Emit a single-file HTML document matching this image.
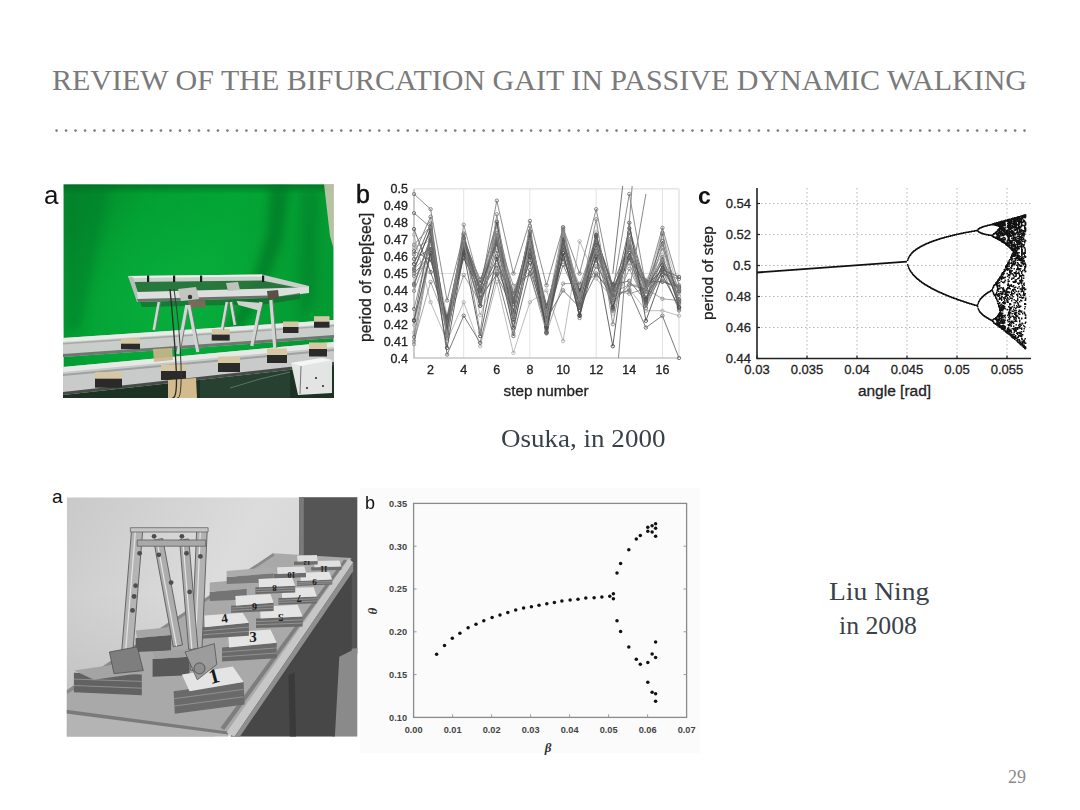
<!DOCTYPE html>
<html><head><meta charset="utf-8"><style>
html,body{margin:0;padding:0;background:#fff;}
body{width:1080px;height:810px;position:relative;overflow:hidden;}
.t{position:absolute;font-family:"Liberation Serif",serif;white-space:nowrap;}
#title{left:52px;top:63px;font-size:30px;color:#7a7a7a;letter-spacing:0px;}
.cap{font-size:25.5px;color:#3a4249;transform-origin:0 0;}
#osuka{left:500.5px;top:424.3px;transform:scaleX(1.06);}
#liu{left:829.3px;top:577.4px;transform:scaleX(1.08);}
#in08{left:839px;top:611.3px;transform:scaleX(1.01);}
#pg{left:1008px;top:767px;font-size:18px;color:#8a8a8a;}
svg{position:absolute;left:0;top:0;}
</style></head><body>
<svg width="1080" height="810" viewBox="0 0 1080 810">
<defs>
<linearGradient id="gA" x1="0" y1="0" x2="1" y2="0.3">
<stop offset="0" stop-color="#05862c"/><stop offset="0.3" stop-color="#02a032"/><stop offset="0.6" stop-color="#03a635"/><stop offset="1" stop-color="#049a32"/>
</linearGradient>
<radialGradient id="gB" cx="0.4" cy="0.55" r="0.5"><stop offset="0" stop-color="#0cb845" stop-opacity="0.5"/><stop offset="1" stop-color="#0cb845" stop-opacity="0"/></radialGradient>
<linearGradient id="gTop" x1="0" y1="0" x2="0" y2="1"><stop offset="0" stop-color="#045a1e" stop-opacity="0.6"/><stop offset="1" stop-color="#045a1e" stop-opacity="0"/></linearGradient>
<filter id="blA" x="-20%" y="-20%" width="140%" height="140%"><feGaussianBlur stdDeviation="4"/></filter>
<filter id="blS" x="-5%" y="-5%" width="110%" height="110%"><feGaussianBlur stdDeviation="0.45"/></filter>
<clipPath id="cA"><rect x="63.4" y="184.3" width="270.3" height="213.1"/></clipPath>
</defs>
<g clip-path="url(#cA)">
<rect x="63.4" y="184.3" width="270.3" height="213.1" fill="url(#gA)"/>
<rect x="63.4" y="184.3" width="270.3" height="213.1" fill="url(#gB)"/>
<rect x="63.4" y="184.3" width="270.3" height="10" fill="url(#gTop)"/>
<g filter="url(#blA)" opacity="0.55">
<polygon points="270,186 290,186 282,240 262,300 240,330 225,330 250,290 268,230" fill="#036a24"/>
<polygon points="66,186 110,186 95,260 80,330 66,330" fill="#04782a" opacity="0.7"/>
<polygon points="300,190 320,190 315,300 300,320" fill="#036a24" opacity="0.6"/>
</g>
<g filter="url(#blS)">
<polygon points="324,184 334,184 334,250 330,236" fill="#c9c6b0" opacity="0.9"/>
<polygon points="63,393 334,362 334,398 63,398" fill="#1d3222"/>
<polygon points="200,378 290,366 290,398 200,398" fill="#254030"/>
<path d="M230 388 Q260 378 290 372" fill="none" stroke="#8a9a8a" stroke-width="0.8" opacity="0.7"/>
<polygon points="63,338 334,320 334,338 63,357" fill="#caceca"/>
<polygon points="63,338 334,320 334,324 63,342" fill="#e9ebe9"/>
<polygon points="63,343 334,325 334,326.5 63,344.5" fill="#a5aba7"/>
<polygon points="63,354 334,335 334,338 63,357" fill="#6f7671"/>
<polygon points="63,367 334,342 334,365 63,395" fill="#c8cbc9"/>
<polygon points="63,367 334,342 334,347 63,372" fill="#e7e9e7"/>
<polygon points="63,374 334,349 334,351 63,376" fill="#9ea39f"/>
<polygon points="63,392 334,362 334,365 63,395" fill="#474c48"/>
<rect x="121" y="338.2" width="19" height="5.5" fill="#d3c6a2"/>
<rect x="121" y="343.7" width="19" height="5.5" fill="#2c2c2c"/>
<rect x="211.7" y="329.1" width="18" height="5.5" fill="#d3c6a2"/>
<rect x="211.7" y="334.6" width="18" height="6" fill="#2c2c2c"/>
<rect x="283" y="321.5" width="15.5" height="5.5" fill="#d3c6a2"/>
<rect x="283" y="327" width="15.5" height="6" fill="#2c2c2c"/>
<rect x="314" y="316.2" width="15.5" height="5.5" fill="#d3c6a2"/>
<rect x="314" y="321.7" width="15.5" height="6" fill="#2c2c2c"/>
<rect x="95" y="372.2" width="27" height="6.5" fill="#d6c8a2"/>
<rect x="95" y="378.7" width="27" height="9" fill="#2a2a2a"/>
<rect x="161" y="364.5" width="25" height="6.5" fill="#d6c8a2"/>
<rect x="161" y="371" width="25" height="9" fill="#2a2a2a"/>
<rect x="218" y="356.5" width="22" height="6.5" fill="#d6c8a2"/>
<rect x="218" y="363" width="22" height="9" fill="#2a2a2a"/>
<rect x="267" y="348.5" width="20" height="6.5" fill="#d6c8a2"/>
<rect x="267" y="355" width="20" height="8" fill="#2a2a2a"/>
<rect x="309" y="342.5" width="18" height="6.5" fill="#d6c8a2"/>
<rect x="309" y="349" width="18" height="7.5" fill="#2a2a2a"/>
<polygon points="153,349 172,348 173,360 154,362" fill="#cdb58a" opacity="0.9"/>
<polygon points="168,380 196,378 197,398 168,398" fill="#d4bb8e"/>
<polygon points="291,363 322,358 332,360 332,393 298,395" fill="#e2e5e4"/>
<polygon points="291,363 322,358 332,360 301,366" fill="#f4f5f4"/>
<line x1="301" y1="366" x2="300" y2="394" stroke="#777" stroke-width="1"/>
<circle cx="316" cy="378" r="1" fill="#222"/><circle cx="323" cy="386" r="1" fill="#222"/><circle cx="307" cy="388" r="1" fill="#222"/>
<polygon points="132,282 262,280 305,289 268,291 139,296" fill="#2f6e3c" opacity="0.85"/>
<polygon points="128,276 262,274.5 309,286 309,290 262,280.5 131,282" fill="#cbcfcc"/>
<polygon points="128,276 262,274.5 263,276.5 129,278" fill="#eeeeec"/>
<polygon points="128,276 133,277 141,302 137,302" fill="#b9bdba"/>
<polygon points="137,292 268,288.5 309,287 309,293 268,298 138,302" fill="#dcdfdd"/>
<polygon points="137,299 268,295.5 268,298 138,302" fill="#6a706c"/>
<rect x="147" y="275.5" width="2.2" height="6.5" fill="#1e1e1e"/>
<rect x="173" y="275.5" width="2.2" height="6.5" fill="#1e1e1e"/>
<rect x="200" y="275.5" width="2.2" height="6.5" fill="#1e1e1e"/>
<rect x="262" y="275.5" width="2.2" height="6.5" fill="#1e1e1e"/>
<polygon points="140,302 268,298 300,293 300,299 268,304 142,307" fill="#1f5a2c" opacity="0.6"/>
<polygon points="178,289 196,287 199,299 181,301" fill="#c3c5c1"/>
<circle cx="190" cy="297" r="2.2" fill="#333"/>
<polygon points="188,301 205,300 206,307 189,308" fill="#7a6a55"/>
<polygon points="226,283 238,282 240,290 228,291" fill="#c0c2be"/>
<polygon points="267,291 278,290 279,298 268,299" fill="#5b4f45"/>
<line x1="159" y1="302" x2="154" y2="330" stroke="#d2d5d2" stroke-width="3"/>
<line x1="160.5" y1="302" x2="155.5" y2="330" stroke="#6a706c" stroke-width="0.9"/>
<line x1="187" y1="305" x2="178" y2="354" stroke="#d2d5d2" stroke-width="3.6"/>
<line x1="188.8" y1="305" x2="179.8" y2="354" stroke="#6a706c" stroke-width="0.9"/>
<line x1="189" y1="305" x2="198" y2="352" stroke="#d2d5d2" stroke-width="3.6"/>
<line x1="190.8" y1="305" x2="199.8" y2="352" stroke="#6a706c" stroke-width="0.9"/>
<line x1="227" y1="302" x2="222" y2="330" stroke="#d2d5d2" stroke-width="3"/>
<line x1="228.5" y1="302" x2="223.5" y2="330" stroke="#6a706c" stroke-width="0.9"/>
<line x1="231" y1="302" x2="235" y2="325" stroke="#d2d5d2" stroke-width="3"/>
<line x1="232.5" y1="302" x2="236.5" y2="325" stroke="#6a706c" stroke-width="0.9"/>
<line x1="261" y1="302" x2="252" y2="346" stroke="#d2d5d2" stroke-width="3.6"/>
<line x1="262.8" y1="302" x2="253.8" y2="346" stroke="#6a706c" stroke-width="0.9"/>
<line x1="271" y1="300" x2="275" y2="348" stroke="#d2d5d2" stroke-width="3.6"/>
<line x1="272.8" y1="300" x2="276.8" y2="348" stroke="#6a706c" stroke-width="0.9"/>
<polygon points="236.5,301 262.5,303 260.5,311 238.5,305" fill="#cfd2ce"/>
<path d="M170 289 Q174 330 176 365 T172 398" fill="none" stroke="#2a2a2a" stroke-width="1.3"/>
<path d="M174 289 Q180 330 181 365 T177 398" fill="none" stroke="#383838" stroke-width="1"/>
</g>
</g>
<text x="44" y="203.5" font-family="Liberation Sans" font-size="26" fill="#111">a</text>
<defs><clipPath id="cPB"><rect x="412" y="186" width="270" height="174"/></clipPath></defs>
<line x1="463.7" y1="188.9" x2="463.7" y2="358" stroke="#e2e2e2" stroke-width="1"/>
<line x1="529.9" y1="188.9" x2="529.9" y2="358" stroke="#e2e2e2" stroke-width="1"/>
<line x1="596.2" y1="188.9" x2="596.2" y2="358" stroke="#e2e2e2" stroke-width="1"/>
<line x1="662.4" y1="188.9" x2="662.4" y2="358" stroke="#e2e2e2" stroke-width="1"/>
<line x1="414" y1="273.5" x2="679" y2="273.5" stroke="#dcdcdc" stroke-width="1"/>
<path d="M414 188.9H679V358" fill="none" stroke="#d8d8d8" stroke-width="1"/>
<path d="M414 188.9V358H679" fill="none" stroke="#aaa" stroke-width="1.2"/>
<g clip-path="url(#cPB)">
<polyline points="414,283.8 430.6,237.5 447.1,331.4 463.7,249 480.2,305.9 496.8,243.9 513.4,293.5 529.9,241.8 546.5,309 563.1,240.7 579.6,295.6 596.2,244.4 612.8,310.6 629.3,239.3 645.9,291.6 662.4,256.9 679,306.9" fill="none" stroke="#5a5a5a" stroke-opacity="0.79" stroke-width="1"/>
<circle cx="414" cy="283.8" r="1.7" fill="none" stroke="#5a5a5a" stroke-opacity="0.79" stroke-width="1"/>
<circle cx="430.6" cy="237.5" r="1.7" fill="none" stroke="#5a5a5a" stroke-opacity="0.79" stroke-width="1"/>
<circle cx="447.1" cy="331.4" r="1.7" fill="none" stroke="#5a5a5a" stroke-opacity="0.79" stroke-width="1"/>
<circle cx="463.7" cy="249" r="1.7" fill="none" stroke="#5a5a5a" stroke-opacity="0.79" stroke-width="1"/>
<circle cx="480.2" cy="305.9" r="1.7" fill="none" stroke="#5a5a5a" stroke-opacity="0.79" stroke-width="1"/>
<circle cx="496.8" cy="243.9" r="1.7" fill="none" stroke="#5a5a5a" stroke-opacity="0.79" stroke-width="1"/>
<circle cx="513.4" cy="293.5" r="1.7" fill="none" stroke="#5a5a5a" stroke-opacity="0.79" stroke-width="1"/>
<circle cx="529.9" cy="241.8" r="1.7" fill="none" stroke="#5a5a5a" stroke-opacity="0.79" stroke-width="1"/>
<circle cx="546.5" cy="309" r="1.7" fill="none" stroke="#5a5a5a" stroke-opacity="0.79" stroke-width="1"/>
<circle cx="563.1" cy="240.7" r="1.7" fill="none" stroke="#5a5a5a" stroke-opacity="0.79" stroke-width="1"/>
<circle cx="579.6" cy="295.6" r="1.7" fill="none" stroke="#5a5a5a" stroke-opacity="0.79" stroke-width="1"/>
<circle cx="596.2" cy="244.4" r="1.7" fill="none" stroke="#5a5a5a" stroke-opacity="0.79" stroke-width="1"/>
<circle cx="612.8" cy="310.6" r="1.7" fill="none" stroke="#5a5a5a" stroke-opacity="0.79" stroke-width="1"/>
<circle cx="629.3" cy="239.3" r="1.7" fill="none" stroke="#5a5a5a" stroke-opacity="0.79" stroke-width="1"/>
<circle cx="645.9" cy="291.6" r="1.7" fill="none" stroke="#5a5a5a" stroke-opacity="0.79" stroke-width="1"/>
<circle cx="662.4" cy="256.9" r="1.7" fill="none" stroke="#5a5a5a" stroke-opacity="0.79" stroke-width="1"/>
<circle cx="679" cy="306.9" r="1.7" fill="none" stroke="#5a5a5a" stroke-opacity="0.79" stroke-width="1"/>
<polyline points="414,344.2 430.6,252.6 447.1,333.7 463.7,243.9 480.2,297.6 496.8,235 513.4,312.5 529.9,243.1 546.5,314.2 563.1,249.3 579.6,284.9 596.2,240.4 612.8,287.4 629.3,263.2 645.9,305.1 662.4,270.6 679,296.2" fill="none" stroke="#8a8a8a" stroke-opacity="0.80" stroke-width="1"/>
<circle cx="414" cy="344.2" r="1.7" fill="none" stroke="#8a8a8a" stroke-opacity="0.80" stroke-width="1"/>
<circle cx="430.6" cy="252.6" r="1.7" fill="none" stroke="#8a8a8a" stroke-opacity="0.80" stroke-width="1"/>
<circle cx="447.1" cy="333.7" r="1.7" fill="none" stroke="#8a8a8a" stroke-opacity="0.80" stroke-width="1"/>
<circle cx="463.7" cy="243.9" r="1.7" fill="none" stroke="#8a8a8a" stroke-opacity="0.80" stroke-width="1"/>
<circle cx="480.2" cy="297.6" r="1.7" fill="none" stroke="#8a8a8a" stroke-opacity="0.80" stroke-width="1"/>
<circle cx="496.8" cy="235" r="1.7" fill="none" stroke="#8a8a8a" stroke-opacity="0.80" stroke-width="1"/>
<circle cx="513.4" cy="312.5" r="1.7" fill="none" stroke="#8a8a8a" stroke-opacity="0.80" stroke-width="1"/>
<circle cx="529.9" cy="243.1" r="1.7" fill="none" stroke="#8a8a8a" stroke-opacity="0.80" stroke-width="1"/>
<circle cx="546.5" cy="314.2" r="1.7" fill="none" stroke="#8a8a8a" stroke-opacity="0.80" stroke-width="1"/>
<circle cx="563.1" cy="249.3" r="1.7" fill="none" stroke="#8a8a8a" stroke-opacity="0.80" stroke-width="1"/>
<circle cx="579.6" cy="284.9" r="1.7" fill="none" stroke="#8a8a8a" stroke-opacity="0.80" stroke-width="1"/>
<circle cx="596.2" cy="240.4" r="1.7" fill="none" stroke="#8a8a8a" stroke-opacity="0.80" stroke-width="1"/>
<circle cx="612.8" cy="287.4" r="1.7" fill="none" stroke="#8a8a8a" stroke-opacity="0.80" stroke-width="1"/>
<circle cx="629.3" cy="263.2" r="1.7" fill="none" stroke="#8a8a8a" stroke-opacity="0.80" stroke-width="1"/>
<circle cx="645.9" cy="305.1" r="1.7" fill="none" stroke="#8a8a8a" stroke-opacity="0.80" stroke-width="1"/>
<circle cx="662.4" cy="270.6" r="1.7" fill="none" stroke="#8a8a8a" stroke-opacity="0.80" stroke-width="1"/>
<circle cx="679" cy="296.2" r="1.7" fill="none" stroke="#8a8a8a" stroke-opacity="0.80" stroke-width="1"/>
<polyline points="414,247.8 430.6,240.3 447.1,333.5 463.7,254.2 480.2,302.1 496.8,226.5 513.4,314.3 529.9,243.7 546.5,314 563.1,257.1 579.6,298.4 596.2,232.3 612.8,313.5 629.3,258.4 645.9,298.3 662.4,278.3 679,292.1" fill="none" stroke="#9a9a9a" stroke-opacity="0.71" stroke-width="1"/>
<circle cx="414" cy="247.8" r="1.7" fill="none" stroke="#9a9a9a" stroke-opacity="0.71" stroke-width="1"/>
<circle cx="430.6" cy="240.3" r="1.7" fill="none" stroke="#9a9a9a" stroke-opacity="0.71" stroke-width="1"/>
<circle cx="447.1" cy="333.5" r="1.7" fill="none" stroke="#9a9a9a" stroke-opacity="0.71" stroke-width="1"/>
<circle cx="463.7" cy="254.2" r="1.7" fill="none" stroke="#9a9a9a" stroke-opacity="0.71" stroke-width="1"/>
<circle cx="480.2" cy="302.1" r="1.7" fill="none" stroke="#9a9a9a" stroke-opacity="0.71" stroke-width="1"/>
<circle cx="496.8" cy="226.5" r="1.7" fill="none" stroke="#9a9a9a" stroke-opacity="0.71" stroke-width="1"/>
<circle cx="513.4" cy="314.3" r="1.7" fill="none" stroke="#9a9a9a" stroke-opacity="0.71" stroke-width="1"/>
<circle cx="529.9" cy="243.7" r="1.7" fill="none" stroke="#9a9a9a" stroke-opacity="0.71" stroke-width="1"/>
<circle cx="546.5" cy="314" r="1.7" fill="none" stroke="#9a9a9a" stroke-opacity="0.71" stroke-width="1"/>
<circle cx="563.1" cy="257.1" r="1.7" fill="none" stroke="#9a9a9a" stroke-opacity="0.71" stroke-width="1"/>
<circle cx="579.6" cy="298.4" r="1.7" fill="none" stroke="#9a9a9a" stroke-opacity="0.71" stroke-width="1"/>
<circle cx="596.2" cy="232.3" r="1.7" fill="none" stroke="#9a9a9a" stroke-opacity="0.71" stroke-width="1"/>
<circle cx="612.8" cy="313.5" r="1.7" fill="none" stroke="#9a9a9a" stroke-opacity="0.71" stroke-width="1"/>
<circle cx="629.3" cy="258.4" r="1.7" fill="none" stroke="#9a9a9a" stroke-opacity="0.71" stroke-width="1"/>
<circle cx="645.9" cy="298.3" r="1.7" fill="none" stroke="#9a9a9a" stroke-opacity="0.71" stroke-width="1"/>
<circle cx="662.4" cy="278.3" r="1.7" fill="none" stroke="#9a9a9a" stroke-opacity="0.71" stroke-width="1"/>
<circle cx="679" cy="292.1" r="1.7" fill="none" stroke="#9a9a9a" stroke-opacity="0.71" stroke-width="1"/>
<polyline points="414,276 430.6,258.9 447.1,321.4 463.7,241 480.2,288.2 496.8,223.8 513.4,301.7 529.9,245.1 546.5,328 563.1,237.2 579.6,303.8 596.2,251.3 612.8,307.4 629.3,268.9 645.9,302.9 662.4,244.1 679,309.2" fill="none" stroke="#6a6a6a" stroke-opacity="0.62" stroke-width="1"/>
<circle cx="414" cy="276" r="1.7" fill="none" stroke="#6a6a6a" stroke-opacity="0.62" stroke-width="1"/>
<circle cx="430.6" cy="258.9" r="1.7" fill="none" stroke="#6a6a6a" stroke-opacity="0.62" stroke-width="1"/>
<circle cx="447.1" cy="321.4" r="1.7" fill="none" stroke="#6a6a6a" stroke-opacity="0.62" stroke-width="1"/>
<circle cx="463.7" cy="241" r="1.7" fill="none" stroke="#6a6a6a" stroke-opacity="0.62" stroke-width="1"/>
<circle cx="480.2" cy="288.2" r="1.7" fill="none" stroke="#6a6a6a" stroke-opacity="0.62" stroke-width="1"/>
<circle cx="496.8" cy="223.8" r="1.7" fill="none" stroke="#6a6a6a" stroke-opacity="0.62" stroke-width="1"/>
<circle cx="513.4" cy="301.7" r="1.7" fill="none" stroke="#6a6a6a" stroke-opacity="0.62" stroke-width="1"/>
<circle cx="529.9" cy="245.1" r="1.7" fill="none" stroke="#6a6a6a" stroke-opacity="0.62" stroke-width="1"/>
<circle cx="546.5" cy="328" r="1.7" fill="none" stroke="#6a6a6a" stroke-opacity="0.62" stroke-width="1"/>
<circle cx="563.1" cy="237.2" r="1.7" fill="none" stroke="#6a6a6a" stroke-opacity="0.62" stroke-width="1"/>
<circle cx="579.6" cy="303.8" r="1.7" fill="none" stroke="#6a6a6a" stroke-opacity="0.62" stroke-width="1"/>
<circle cx="596.2" cy="251.3" r="1.7" fill="none" stroke="#6a6a6a" stroke-opacity="0.62" stroke-width="1"/>
<circle cx="612.8" cy="307.4" r="1.7" fill="none" stroke="#6a6a6a" stroke-opacity="0.62" stroke-width="1"/>
<circle cx="629.3" cy="268.9" r="1.7" fill="none" stroke="#6a6a6a" stroke-opacity="0.62" stroke-width="1"/>
<circle cx="645.9" cy="302.9" r="1.7" fill="none" stroke="#6a6a6a" stroke-opacity="0.62" stroke-width="1"/>
<circle cx="662.4" cy="244.1" r="1.7" fill="none" stroke="#6a6a6a" stroke-opacity="0.62" stroke-width="1"/>
<circle cx="679" cy="309.2" r="1.7" fill="none" stroke="#6a6a6a" stroke-opacity="0.62" stroke-width="1"/>
<polyline points="414,332.6 430.6,240.4 447.1,315.6 463.7,241.7 480.2,315.1 496.8,272 513.4,301.7 529.9,254.4 546.5,326.5 563.1,233.8 579.6,289.9 596.2,244.7 612.8,295.1 629.3,246.1 645.9,279.9 662.4,254.9 679,291.9" fill="none" stroke="#9a9a9a" stroke-opacity="0.66" stroke-width="1"/>
<circle cx="414" cy="332.6" r="1.7" fill="none" stroke="#9a9a9a" stroke-opacity="0.66" stroke-width="1"/>
<circle cx="430.6" cy="240.4" r="1.7" fill="none" stroke="#9a9a9a" stroke-opacity="0.66" stroke-width="1"/>
<circle cx="447.1" cy="315.6" r="1.7" fill="none" stroke="#9a9a9a" stroke-opacity="0.66" stroke-width="1"/>
<circle cx="463.7" cy="241.7" r="1.7" fill="none" stroke="#9a9a9a" stroke-opacity="0.66" stroke-width="1"/>
<circle cx="480.2" cy="315.1" r="1.7" fill="none" stroke="#9a9a9a" stroke-opacity="0.66" stroke-width="1"/>
<circle cx="496.8" cy="272" r="1.7" fill="none" stroke="#9a9a9a" stroke-opacity="0.66" stroke-width="1"/>
<circle cx="513.4" cy="301.7" r="1.7" fill="none" stroke="#9a9a9a" stroke-opacity="0.66" stroke-width="1"/>
<circle cx="529.9" cy="254.4" r="1.7" fill="none" stroke="#9a9a9a" stroke-opacity="0.66" stroke-width="1"/>
<circle cx="546.5" cy="326.5" r="1.7" fill="none" stroke="#9a9a9a" stroke-opacity="0.66" stroke-width="1"/>
<circle cx="563.1" cy="233.8" r="1.7" fill="none" stroke="#9a9a9a" stroke-opacity="0.66" stroke-width="1"/>
<circle cx="579.6" cy="289.9" r="1.7" fill="none" stroke="#9a9a9a" stroke-opacity="0.66" stroke-width="1"/>
<circle cx="596.2" cy="244.7" r="1.7" fill="none" stroke="#9a9a9a" stroke-opacity="0.66" stroke-width="1"/>
<circle cx="612.8" cy="295.1" r="1.7" fill="none" stroke="#9a9a9a" stroke-opacity="0.66" stroke-width="1"/>
<circle cx="629.3" cy="246.1" r="1.7" fill="none" stroke="#9a9a9a" stroke-opacity="0.66" stroke-width="1"/>
<circle cx="645.9" cy="279.9" r="1.7" fill="none" stroke="#9a9a9a" stroke-opacity="0.66" stroke-width="1"/>
<circle cx="662.4" cy="254.9" r="1.7" fill="none" stroke="#9a9a9a" stroke-opacity="0.66" stroke-width="1"/>
<circle cx="679" cy="291.9" r="1.7" fill="none" stroke="#9a9a9a" stroke-opacity="0.66" stroke-width="1"/>
<polyline points="414,251.2 430.6,260 447.1,317.1 463.7,238.6 480.2,292.1 496.8,265.4 513.4,312.4 529.9,237.3 546.5,332.1 563.1,244.8 579.6,290.5 596.2,260.6 612.8,284.1 629.3,244.2 645.9,298.7 662.4,259.7 679,291" fill="none" stroke="#4a4a4a" stroke-opacity="0.69" stroke-width="1"/>
<circle cx="414" cy="251.2" r="1.7" fill="none" stroke="#4a4a4a" stroke-opacity="0.69" stroke-width="1"/>
<circle cx="430.6" cy="260" r="1.7" fill="none" stroke="#4a4a4a" stroke-opacity="0.69" stroke-width="1"/>
<circle cx="447.1" cy="317.1" r="1.7" fill="none" stroke="#4a4a4a" stroke-opacity="0.69" stroke-width="1"/>
<circle cx="463.7" cy="238.6" r="1.7" fill="none" stroke="#4a4a4a" stroke-opacity="0.69" stroke-width="1"/>
<circle cx="480.2" cy="292.1" r="1.7" fill="none" stroke="#4a4a4a" stroke-opacity="0.69" stroke-width="1"/>
<circle cx="496.8" cy="265.4" r="1.7" fill="none" stroke="#4a4a4a" stroke-opacity="0.69" stroke-width="1"/>
<circle cx="513.4" cy="312.4" r="1.7" fill="none" stroke="#4a4a4a" stroke-opacity="0.69" stroke-width="1"/>
<circle cx="529.9" cy="237.3" r="1.7" fill="none" stroke="#4a4a4a" stroke-opacity="0.69" stroke-width="1"/>
<circle cx="546.5" cy="332.1" r="1.7" fill="none" stroke="#4a4a4a" stroke-opacity="0.69" stroke-width="1"/>
<circle cx="563.1" cy="244.8" r="1.7" fill="none" stroke="#4a4a4a" stroke-opacity="0.69" stroke-width="1"/>
<circle cx="579.6" cy="290.5" r="1.7" fill="none" stroke="#4a4a4a" stroke-opacity="0.69" stroke-width="1"/>
<circle cx="596.2" cy="260.6" r="1.7" fill="none" stroke="#4a4a4a" stroke-opacity="0.69" stroke-width="1"/>
<circle cx="612.8" cy="284.1" r="1.7" fill="none" stroke="#4a4a4a" stroke-opacity="0.69" stroke-width="1"/>
<circle cx="629.3" cy="244.2" r="1.7" fill="none" stroke="#4a4a4a" stroke-opacity="0.69" stroke-width="1"/>
<circle cx="645.9" cy="298.7" r="1.7" fill="none" stroke="#4a4a4a" stroke-opacity="0.69" stroke-width="1"/>
<circle cx="662.4" cy="259.7" r="1.7" fill="none" stroke="#4a4a4a" stroke-opacity="0.69" stroke-width="1"/>
<circle cx="679" cy="291" r="1.7" fill="none" stroke="#4a4a4a" stroke-opacity="0.69" stroke-width="1"/>
<polyline points="414,268.6 430.6,230.6 447.1,335.5 463.7,249.8 480.2,287.3 496.8,241 513.4,315.1 529.9,236.2 546.5,305.5 563.1,247.2 579.6,310 596.2,247.9 612.8,298.3 629.3,258 645.9,281.9 662.4,281.7 679,286.9" fill="none" stroke="#4a4a4a" stroke-opacity="0.82" stroke-width="1"/>
<circle cx="414" cy="268.6" r="1.7" fill="none" stroke="#4a4a4a" stroke-opacity="0.82" stroke-width="1"/>
<circle cx="430.6" cy="230.6" r="1.7" fill="none" stroke="#4a4a4a" stroke-opacity="0.82" stroke-width="1"/>
<circle cx="447.1" cy="335.5" r="1.7" fill="none" stroke="#4a4a4a" stroke-opacity="0.82" stroke-width="1"/>
<circle cx="463.7" cy="249.8" r="1.7" fill="none" stroke="#4a4a4a" stroke-opacity="0.82" stroke-width="1"/>
<circle cx="480.2" cy="287.3" r="1.7" fill="none" stroke="#4a4a4a" stroke-opacity="0.82" stroke-width="1"/>
<circle cx="496.8" cy="241" r="1.7" fill="none" stroke="#4a4a4a" stroke-opacity="0.82" stroke-width="1"/>
<circle cx="513.4" cy="315.1" r="1.7" fill="none" stroke="#4a4a4a" stroke-opacity="0.82" stroke-width="1"/>
<circle cx="529.9" cy="236.2" r="1.7" fill="none" stroke="#4a4a4a" stroke-opacity="0.82" stroke-width="1"/>
<circle cx="546.5" cy="305.5" r="1.7" fill="none" stroke="#4a4a4a" stroke-opacity="0.82" stroke-width="1"/>
<circle cx="563.1" cy="247.2" r="1.7" fill="none" stroke="#4a4a4a" stroke-opacity="0.82" stroke-width="1"/>
<circle cx="579.6" cy="310" r="1.7" fill="none" stroke="#4a4a4a" stroke-opacity="0.82" stroke-width="1"/>
<circle cx="596.2" cy="247.9" r="1.7" fill="none" stroke="#4a4a4a" stroke-opacity="0.82" stroke-width="1"/>
<circle cx="612.8" cy="298.3" r="1.7" fill="none" stroke="#4a4a4a" stroke-opacity="0.82" stroke-width="1"/>
<circle cx="629.3" cy="258" r="1.7" fill="none" stroke="#4a4a4a" stroke-opacity="0.82" stroke-width="1"/>
<circle cx="645.9" cy="281.9" r="1.7" fill="none" stroke="#4a4a4a" stroke-opacity="0.82" stroke-width="1"/>
<circle cx="662.4" cy="281.7" r="1.7" fill="none" stroke="#4a4a4a" stroke-opacity="0.82" stroke-width="1"/>
<circle cx="679" cy="286.9" r="1.7" fill="none" stroke="#4a4a4a" stroke-opacity="0.82" stroke-width="1"/>
<polyline points="414,324.9 430.6,251.5 447.1,323.3 463.7,237.2 480.2,289 496.8,237.1 513.4,304 529.9,244.7 546.5,312.7 563.1,244.7 579.6,296.6 596.2,240.2 612.8,297.1 629.3,240.8 645.9,291 662.4,232.4 679,293.2" fill="none" stroke="#aaaaaa" stroke-opacity="0.69" stroke-width="1"/>
<circle cx="414" cy="324.9" r="1.7" fill="none" stroke="#aaaaaa" stroke-opacity="0.69" stroke-width="1"/>
<circle cx="430.6" cy="251.5" r="1.7" fill="none" stroke="#aaaaaa" stroke-opacity="0.69" stroke-width="1"/>
<circle cx="447.1" cy="323.3" r="1.7" fill="none" stroke="#aaaaaa" stroke-opacity="0.69" stroke-width="1"/>
<circle cx="463.7" cy="237.2" r="1.7" fill="none" stroke="#aaaaaa" stroke-opacity="0.69" stroke-width="1"/>
<circle cx="480.2" cy="289" r="1.7" fill="none" stroke="#aaaaaa" stroke-opacity="0.69" stroke-width="1"/>
<circle cx="496.8" cy="237.1" r="1.7" fill="none" stroke="#aaaaaa" stroke-opacity="0.69" stroke-width="1"/>
<circle cx="513.4" cy="304" r="1.7" fill="none" stroke="#aaaaaa" stroke-opacity="0.69" stroke-width="1"/>
<circle cx="529.9" cy="244.7" r="1.7" fill="none" stroke="#aaaaaa" stroke-opacity="0.69" stroke-width="1"/>
<circle cx="546.5" cy="312.7" r="1.7" fill="none" stroke="#aaaaaa" stroke-opacity="0.69" stroke-width="1"/>
<circle cx="563.1" cy="244.7" r="1.7" fill="none" stroke="#aaaaaa" stroke-opacity="0.69" stroke-width="1"/>
<circle cx="579.6" cy="296.6" r="1.7" fill="none" stroke="#aaaaaa" stroke-opacity="0.69" stroke-width="1"/>
<circle cx="596.2" cy="240.2" r="1.7" fill="none" stroke="#aaaaaa" stroke-opacity="0.69" stroke-width="1"/>
<circle cx="612.8" cy="297.1" r="1.7" fill="none" stroke="#aaaaaa" stroke-opacity="0.69" stroke-width="1"/>
<circle cx="629.3" cy="240.8" r="1.7" fill="none" stroke="#aaaaaa" stroke-opacity="0.69" stroke-width="1"/>
<circle cx="645.9" cy="291" r="1.7" fill="none" stroke="#aaaaaa" stroke-opacity="0.69" stroke-width="1"/>
<circle cx="662.4" cy="232.4" r="1.7" fill="none" stroke="#aaaaaa" stroke-opacity="0.69" stroke-width="1"/>
<circle cx="679" cy="293.2" r="1.7" fill="none" stroke="#aaaaaa" stroke-opacity="0.69" stroke-width="1"/>
<polyline points="414,290.8 430.6,247 447.1,329.4 463.7,238.9 480.2,300.3 496.8,236.6 513.4,285.7 529.9,274.1 546.5,326.5 563.1,240.7 579.6,295.6 596.2,243.8 612.8,300.6 629.3,242.5 645.9,294.1 662.4,273.5 679,279" fill="none" stroke="#8a8a8a" stroke-opacity="0.90" stroke-width="1"/>
<circle cx="414" cy="290.8" r="1.7" fill="none" stroke="#8a8a8a" stroke-opacity="0.90" stroke-width="1"/>
<circle cx="430.6" cy="247" r="1.7" fill="none" stroke="#8a8a8a" stroke-opacity="0.90" stroke-width="1"/>
<circle cx="447.1" cy="329.4" r="1.7" fill="none" stroke="#8a8a8a" stroke-opacity="0.90" stroke-width="1"/>
<circle cx="463.7" cy="238.9" r="1.7" fill="none" stroke="#8a8a8a" stroke-opacity="0.90" stroke-width="1"/>
<circle cx="480.2" cy="300.3" r="1.7" fill="none" stroke="#8a8a8a" stroke-opacity="0.90" stroke-width="1"/>
<circle cx="496.8" cy="236.6" r="1.7" fill="none" stroke="#8a8a8a" stroke-opacity="0.90" stroke-width="1"/>
<circle cx="513.4" cy="285.7" r="1.7" fill="none" stroke="#8a8a8a" stroke-opacity="0.90" stroke-width="1"/>
<circle cx="529.9" cy="274.1" r="1.7" fill="none" stroke="#8a8a8a" stroke-opacity="0.90" stroke-width="1"/>
<circle cx="546.5" cy="326.5" r="1.7" fill="none" stroke="#8a8a8a" stroke-opacity="0.90" stroke-width="1"/>
<circle cx="563.1" cy="240.7" r="1.7" fill="none" stroke="#8a8a8a" stroke-opacity="0.90" stroke-width="1"/>
<circle cx="579.6" cy="295.6" r="1.7" fill="none" stroke="#8a8a8a" stroke-opacity="0.90" stroke-width="1"/>
<circle cx="596.2" cy="243.8" r="1.7" fill="none" stroke="#8a8a8a" stroke-opacity="0.90" stroke-width="1"/>
<circle cx="612.8" cy="300.6" r="1.7" fill="none" stroke="#8a8a8a" stroke-opacity="0.90" stroke-width="1"/>
<circle cx="629.3" cy="242.5" r="1.7" fill="none" stroke="#8a8a8a" stroke-opacity="0.90" stroke-width="1"/>
<circle cx="645.9" cy="294.1" r="1.7" fill="none" stroke="#8a8a8a" stroke-opacity="0.90" stroke-width="1"/>
<circle cx="662.4" cy="273.5" r="1.7" fill="none" stroke="#8a8a8a" stroke-opacity="0.90" stroke-width="1"/>
<circle cx="679" cy="279" r="1.7" fill="none" stroke="#8a8a8a" stroke-opacity="0.90" stroke-width="1"/>
<polyline points="414,259 430.6,249 447.1,330.2 463.7,248.2 480.2,297.7 496.8,274.5 513.4,310.8 529.9,235.5 546.5,326.9 563.1,243.6 579.6,291.1 596.2,237.1 612.8,285 629.3,280.8 645.9,300.9 662.4,270.5 679,291.2" fill="none" stroke="#4a4a4a" stroke-opacity="0.69" stroke-width="1"/>
<circle cx="414" cy="259" r="1.7" fill="none" stroke="#4a4a4a" stroke-opacity="0.69" stroke-width="1"/>
<circle cx="430.6" cy="249" r="1.7" fill="none" stroke="#4a4a4a" stroke-opacity="0.69" stroke-width="1"/>
<circle cx="447.1" cy="330.2" r="1.7" fill="none" stroke="#4a4a4a" stroke-opacity="0.69" stroke-width="1"/>
<circle cx="463.7" cy="248.2" r="1.7" fill="none" stroke="#4a4a4a" stroke-opacity="0.69" stroke-width="1"/>
<circle cx="480.2" cy="297.7" r="1.7" fill="none" stroke="#4a4a4a" stroke-opacity="0.69" stroke-width="1"/>
<circle cx="496.8" cy="274.5" r="1.7" fill="none" stroke="#4a4a4a" stroke-opacity="0.69" stroke-width="1"/>
<circle cx="513.4" cy="310.8" r="1.7" fill="none" stroke="#4a4a4a" stroke-opacity="0.69" stroke-width="1"/>
<circle cx="529.9" cy="235.5" r="1.7" fill="none" stroke="#4a4a4a" stroke-opacity="0.69" stroke-width="1"/>
<circle cx="546.5" cy="326.9" r="1.7" fill="none" stroke="#4a4a4a" stroke-opacity="0.69" stroke-width="1"/>
<circle cx="563.1" cy="243.6" r="1.7" fill="none" stroke="#4a4a4a" stroke-opacity="0.69" stroke-width="1"/>
<circle cx="579.6" cy="291.1" r="1.7" fill="none" stroke="#4a4a4a" stroke-opacity="0.69" stroke-width="1"/>
<circle cx="596.2" cy="237.1" r="1.7" fill="none" stroke="#4a4a4a" stroke-opacity="0.69" stroke-width="1"/>
<circle cx="612.8" cy="285" r="1.7" fill="none" stroke="#4a4a4a" stroke-opacity="0.69" stroke-width="1"/>
<circle cx="629.3" cy="280.8" r="1.7" fill="none" stroke="#4a4a4a" stroke-opacity="0.69" stroke-width="1"/>
<circle cx="645.9" cy="300.9" r="1.7" fill="none" stroke="#4a4a4a" stroke-opacity="0.69" stroke-width="1"/>
<circle cx="662.4" cy="270.5" r="1.7" fill="none" stroke="#4a4a4a" stroke-opacity="0.69" stroke-width="1"/>
<circle cx="679" cy="291.2" r="1.7" fill="none" stroke="#4a4a4a" stroke-opacity="0.69" stroke-width="1"/>
<polyline points="414,229.1 430.6,272 447.1,318.9 463.7,258.1 480.2,290.7 496.8,259.5 513.4,303.7 529.9,233.5 546.5,318.6 563.1,241.2 579.6,292.3 596.2,244.9 612.8,297.8 629.3,228.3 645.9,285.8 662.4,269.8 679,276.9" fill="none" stroke="#4a4a4a" stroke-opacity="0.76" stroke-width="1"/>
<circle cx="414" cy="229.1" r="1.7" fill="none" stroke="#4a4a4a" stroke-opacity="0.76" stroke-width="1"/>
<circle cx="430.6" cy="272" r="1.7" fill="none" stroke="#4a4a4a" stroke-opacity="0.76" stroke-width="1"/>
<circle cx="447.1" cy="318.9" r="1.7" fill="none" stroke="#4a4a4a" stroke-opacity="0.76" stroke-width="1"/>
<circle cx="463.7" cy="258.1" r="1.7" fill="none" stroke="#4a4a4a" stroke-opacity="0.76" stroke-width="1"/>
<circle cx="480.2" cy="290.7" r="1.7" fill="none" stroke="#4a4a4a" stroke-opacity="0.76" stroke-width="1"/>
<circle cx="496.8" cy="259.5" r="1.7" fill="none" stroke="#4a4a4a" stroke-opacity="0.76" stroke-width="1"/>
<circle cx="513.4" cy="303.7" r="1.7" fill="none" stroke="#4a4a4a" stroke-opacity="0.76" stroke-width="1"/>
<circle cx="529.9" cy="233.5" r="1.7" fill="none" stroke="#4a4a4a" stroke-opacity="0.76" stroke-width="1"/>
<circle cx="546.5" cy="318.6" r="1.7" fill="none" stroke="#4a4a4a" stroke-opacity="0.76" stroke-width="1"/>
<circle cx="563.1" cy="241.2" r="1.7" fill="none" stroke="#4a4a4a" stroke-opacity="0.76" stroke-width="1"/>
<circle cx="579.6" cy="292.3" r="1.7" fill="none" stroke="#4a4a4a" stroke-opacity="0.76" stroke-width="1"/>
<circle cx="596.2" cy="244.9" r="1.7" fill="none" stroke="#4a4a4a" stroke-opacity="0.76" stroke-width="1"/>
<circle cx="612.8" cy="297.8" r="1.7" fill="none" stroke="#4a4a4a" stroke-opacity="0.76" stroke-width="1"/>
<circle cx="629.3" cy="228.3" r="1.7" fill="none" stroke="#4a4a4a" stroke-opacity="0.76" stroke-width="1"/>
<circle cx="645.9" cy="285.8" r="1.7" fill="none" stroke="#4a4a4a" stroke-opacity="0.76" stroke-width="1"/>
<circle cx="662.4" cy="269.8" r="1.7" fill="none" stroke="#4a4a4a" stroke-opacity="0.76" stroke-width="1"/>
<circle cx="679" cy="276.9" r="1.7" fill="none" stroke="#4a4a4a" stroke-opacity="0.76" stroke-width="1"/>
<polyline points="414,320 430.6,233.1 447.1,331.8 463.7,245.3 480.2,290.4 496.8,238.6 513.4,298.7 529.9,262.9 546.5,329.7 563.1,237.2 579.6,306.6 596.2,257.5 612.8,309.1 629.3,232.6 645.9,289 662.4,241.1 679,301.8" fill="none" stroke="#6a6a6a" stroke-opacity="0.95" stroke-width="1"/>
<circle cx="414" cy="320" r="1.7" fill="none" stroke="#6a6a6a" stroke-opacity="0.95" stroke-width="1"/>
<circle cx="430.6" cy="233.1" r="1.7" fill="none" stroke="#6a6a6a" stroke-opacity="0.95" stroke-width="1"/>
<circle cx="447.1" cy="331.8" r="1.7" fill="none" stroke="#6a6a6a" stroke-opacity="0.95" stroke-width="1"/>
<circle cx="463.7" cy="245.3" r="1.7" fill="none" stroke="#6a6a6a" stroke-opacity="0.95" stroke-width="1"/>
<circle cx="480.2" cy="290.4" r="1.7" fill="none" stroke="#6a6a6a" stroke-opacity="0.95" stroke-width="1"/>
<circle cx="496.8" cy="238.6" r="1.7" fill="none" stroke="#6a6a6a" stroke-opacity="0.95" stroke-width="1"/>
<circle cx="513.4" cy="298.7" r="1.7" fill="none" stroke="#6a6a6a" stroke-opacity="0.95" stroke-width="1"/>
<circle cx="529.9" cy="262.9" r="1.7" fill="none" stroke="#6a6a6a" stroke-opacity="0.95" stroke-width="1"/>
<circle cx="546.5" cy="329.7" r="1.7" fill="none" stroke="#6a6a6a" stroke-opacity="0.95" stroke-width="1"/>
<circle cx="563.1" cy="237.2" r="1.7" fill="none" stroke="#6a6a6a" stroke-opacity="0.95" stroke-width="1"/>
<circle cx="579.6" cy="306.6" r="1.7" fill="none" stroke="#6a6a6a" stroke-opacity="0.95" stroke-width="1"/>
<circle cx="596.2" cy="257.5" r="1.7" fill="none" stroke="#6a6a6a" stroke-opacity="0.95" stroke-width="1"/>
<circle cx="612.8" cy="309.1" r="1.7" fill="none" stroke="#6a6a6a" stroke-opacity="0.95" stroke-width="1"/>
<circle cx="629.3" cy="232.6" r="1.7" fill="none" stroke="#6a6a6a" stroke-opacity="0.95" stroke-width="1"/>
<circle cx="645.9" cy="289" r="1.7" fill="none" stroke="#6a6a6a" stroke-opacity="0.95" stroke-width="1"/>
<circle cx="662.4" cy="241.1" r="1.7" fill="none" stroke="#6a6a6a" stroke-opacity="0.95" stroke-width="1"/>
<circle cx="679" cy="301.8" r="1.7" fill="none" stroke="#6a6a6a" stroke-opacity="0.95" stroke-width="1"/>
<polyline points="414,273.4 430.6,255.4 447.1,322 463.7,233.5 480.2,305.6 496.8,222.3 513.4,294.9 529.9,248.3 546.5,333.4 563.1,229.7 579.6,299.6 596.2,252.9 612.8,293.9 629.3,246.5 645.9,280.9 662.4,281.6 679,287.7" fill="none" stroke="#7a7a7a" stroke-opacity="0.92" stroke-width="1"/>
<circle cx="414" cy="273.4" r="1.7" fill="none" stroke="#7a7a7a" stroke-opacity="0.92" stroke-width="1"/>
<circle cx="430.6" cy="255.4" r="1.7" fill="none" stroke="#7a7a7a" stroke-opacity="0.92" stroke-width="1"/>
<circle cx="447.1" cy="322" r="1.7" fill="none" stroke="#7a7a7a" stroke-opacity="0.92" stroke-width="1"/>
<circle cx="463.7" cy="233.5" r="1.7" fill="none" stroke="#7a7a7a" stroke-opacity="0.92" stroke-width="1"/>
<circle cx="480.2" cy="305.6" r="1.7" fill="none" stroke="#7a7a7a" stroke-opacity="0.92" stroke-width="1"/>
<circle cx="496.8" cy="222.3" r="1.7" fill="none" stroke="#7a7a7a" stroke-opacity="0.92" stroke-width="1"/>
<circle cx="513.4" cy="294.9" r="1.7" fill="none" stroke="#7a7a7a" stroke-opacity="0.92" stroke-width="1"/>
<circle cx="529.9" cy="248.3" r="1.7" fill="none" stroke="#7a7a7a" stroke-opacity="0.92" stroke-width="1"/>
<circle cx="546.5" cy="333.4" r="1.7" fill="none" stroke="#7a7a7a" stroke-opacity="0.92" stroke-width="1"/>
<circle cx="563.1" cy="229.7" r="1.7" fill="none" stroke="#7a7a7a" stroke-opacity="0.92" stroke-width="1"/>
<circle cx="579.6" cy="299.6" r="1.7" fill="none" stroke="#7a7a7a" stroke-opacity="0.92" stroke-width="1"/>
<circle cx="596.2" cy="252.9" r="1.7" fill="none" stroke="#7a7a7a" stroke-opacity="0.92" stroke-width="1"/>
<circle cx="612.8" cy="293.9" r="1.7" fill="none" stroke="#7a7a7a" stroke-opacity="0.92" stroke-width="1"/>
<circle cx="629.3" cy="246.5" r="1.7" fill="none" stroke="#7a7a7a" stroke-opacity="0.92" stroke-width="1"/>
<circle cx="645.9" cy="280.9" r="1.7" fill="none" stroke="#7a7a7a" stroke-opacity="0.92" stroke-width="1"/>
<circle cx="662.4" cy="281.6" r="1.7" fill="none" stroke="#7a7a7a" stroke-opacity="0.92" stroke-width="1"/>
<circle cx="679" cy="287.7" r="1.7" fill="none" stroke="#7a7a7a" stroke-opacity="0.92" stroke-width="1"/>
<polyline points="414,213.1 430.6,227.3 447.1,331 463.7,252.4 480.2,287.5 496.8,239.9 513.4,304.2 529.9,231 546.5,319.6 563.1,264.8 579.6,302 596.2,266.5 612.8,290.5 629.3,248 645.9,303.7 662.4,265.2 679,289.8" fill="none" stroke="#6a6a6a" stroke-opacity="0.82" stroke-width="1"/>
<circle cx="414" cy="213.1" r="1.7" fill="none" stroke="#6a6a6a" stroke-opacity="0.82" stroke-width="1"/>
<circle cx="430.6" cy="227.3" r="1.7" fill="none" stroke="#6a6a6a" stroke-opacity="0.82" stroke-width="1"/>
<circle cx="447.1" cy="331" r="1.7" fill="none" stroke="#6a6a6a" stroke-opacity="0.82" stroke-width="1"/>
<circle cx="463.7" cy="252.4" r="1.7" fill="none" stroke="#6a6a6a" stroke-opacity="0.82" stroke-width="1"/>
<circle cx="480.2" cy="287.5" r="1.7" fill="none" stroke="#6a6a6a" stroke-opacity="0.82" stroke-width="1"/>
<circle cx="496.8" cy="239.9" r="1.7" fill="none" stroke="#6a6a6a" stroke-opacity="0.82" stroke-width="1"/>
<circle cx="513.4" cy="304.2" r="1.7" fill="none" stroke="#6a6a6a" stroke-opacity="0.82" stroke-width="1"/>
<circle cx="529.9" cy="231" r="1.7" fill="none" stroke="#6a6a6a" stroke-opacity="0.82" stroke-width="1"/>
<circle cx="546.5" cy="319.6" r="1.7" fill="none" stroke="#6a6a6a" stroke-opacity="0.82" stroke-width="1"/>
<circle cx="563.1" cy="264.8" r="1.7" fill="none" stroke="#6a6a6a" stroke-opacity="0.82" stroke-width="1"/>
<circle cx="579.6" cy="302" r="1.7" fill="none" stroke="#6a6a6a" stroke-opacity="0.82" stroke-width="1"/>
<circle cx="596.2" cy="266.5" r="1.7" fill="none" stroke="#6a6a6a" stroke-opacity="0.82" stroke-width="1"/>
<circle cx="612.8" cy="290.5" r="1.7" fill="none" stroke="#6a6a6a" stroke-opacity="0.82" stroke-width="1"/>
<circle cx="629.3" cy="248" r="1.7" fill="none" stroke="#6a6a6a" stroke-opacity="0.82" stroke-width="1"/>
<circle cx="645.9" cy="303.7" r="1.7" fill="none" stroke="#6a6a6a" stroke-opacity="0.82" stroke-width="1"/>
<circle cx="662.4" cy="265.2" r="1.7" fill="none" stroke="#6a6a6a" stroke-opacity="0.82" stroke-width="1"/>
<circle cx="679" cy="289.8" r="1.7" fill="none" stroke="#6a6a6a" stroke-opacity="0.82" stroke-width="1"/>
<polyline points="414,270.2 430.6,228.7 447.1,329.8 463.7,237.9 480.2,283 496.8,221.7 513.4,312.8 529.9,236.9 546.5,332.6 563.1,253.3 579.6,314.7 596.2,234.8 612.8,307.1 629.3,253.4 645.9,299.2 662.4,265.5 679,299.4" fill="none" stroke="#4a4a4a" stroke-opacity="0.78" stroke-width="1"/>
<circle cx="414" cy="270.2" r="1.7" fill="none" stroke="#4a4a4a" stroke-opacity="0.78" stroke-width="1"/>
<circle cx="430.6" cy="228.7" r="1.7" fill="none" stroke="#4a4a4a" stroke-opacity="0.78" stroke-width="1"/>
<circle cx="447.1" cy="329.8" r="1.7" fill="none" stroke="#4a4a4a" stroke-opacity="0.78" stroke-width="1"/>
<circle cx="463.7" cy="237.9" r="1.7" fill="none" stroke="#4a4a4a" stroke-opacity="0.78" stroke-width="1"/>
<circle cx="480.2" cy="283" r="1.7" fill="none" stroke="#4a4a4a" stroke-opacity="0.78" stroke-width="1"/>
<circle cx="496.8" cy="221.7" r="1.7" fill="none" stroke="#4a4a4a" stroke-opacity="0.78" stroke-width="1"/>
<circle cx="513.4" cy="312.8" r="1.7" fill="none" stroke="#4a4a4a" stroke-opacity="0.78" stroke-width="1"/>
<circle cx="529.9" cy="236.9" r="1.7" fill="none" stroke="#4a4a4a" stroke-opacity="0.78" stroke-width="1"/>
<circle cx="546.5" cy="332.6" r="1.7" fill="none" stroke="#4a4a4a" stroke-opacity="0.78" stroke-width="1"/>
<circle cx="563.1" cy="253.3" r="1.7" fill="none" stroke="#4a4a4a" stroke-opacity="0.78" stroke-width="1"/>
<circle cx="579.6" cy="314.7" r="1.7" fill="none" stroke="#4a4a4a" stroke-opacity="0.78" stroke-width="1"/>
<circle cx="596.2" cy="234.8" r="1.7" fill="none" stroke="#4a4a4a" stroke-opacity="0.78" stroke-width="1"/>
<circle cx="612.8" cy="307.1" r="1.7" fill="none" stroke="#4a4a4a" stroke-opacity="0.78" stroke-width="1"/>
<circle cx="629.3" cy="253.4" r="1.7" fill="none" stroke="#4a4a4a" stroke-opacity="0.78" stroke-width="1"/>
<circle cx="645.9" cy="299.2" r="1.7" fill="none" stroke="#4a4a4a" stroke-opacity="0.78" stroke-width="1"/>
<circle cx="662.4" cy="265.5" r="1.7" fill="none" stroke="#4a4a4a" stroke-opacity="0.78" stroke-width="1"/>
<circle cx="679" cy="299.4" r="1.7" fill="none" stroke="#4a4a4a" stroke-opacity="0.78" stroke-width="1"/>
<polyline points="414,264 430.6,223.6 447.1,328.8 463.7,242.1 480.2,287.6 496.8,243.7 513.4,319.2 529.9,252.4 546.5,308.7 563.1,258.6 579.6,303.7 596.2,235.5 612.8,290.7 629.3,253 645.9,288.4 662.4,262.3 679,303.4" fill="none" stroke="#5a5a5a" stroke-opacity="0.93" stroke-width="1"/>
<circle cx="414" cy="264" r="1.7" fill="none" stroke="#5a5a5a" stroke-opacity="0.93" stroke-width="1"/>
<circle cx="430.6" cy="223.6" r="1.7" fill="none" stroke="#5a5a5a" stroke-opacity="0.93" stroke-width="1"/>
<circle cx="447.1" cy="328.8" r="1.7" fill="none" stroke="#5a5a5a" stroke-opacity="0.93" stroke-width="1"/>
<circle cx="463.7" cy="242.1" r="1.7" fill="none" stroke="#5a5a5a" stroke-opacity="0.93" stroke-width="1"/>
<circle cx="480.2" cy="287.6" r="1.7" fill="none" stroke="#5a5a5a" stroke-opacity="0.93" stroke-width="1"/>
<circle cx="496.8" cy="243.7" r="1.7" fill="none" stroke="#5a5a5a" stroke-opacity="0.93" stroke-width="1"/>
<circle cx="513.4" cy="319.2" r="1.7" fill="none" stroke="#5a5a5a" stroke-opacity="0.93" stroke-width="1"/>
<circle cx="529.9" cy="252.4" r="1.7" fill="none" stroke="#5a5a5a" stroke-opacity="0.93" stroke-width="1"/>
<circle cx="546.5" cy="308.7" r="1.7" fill="none" stroke="#5a5a5a" stroke-opacity="0.93" stroke-width="1"/>
<circle cx="563.1" cy="258.6" r="1.7" fill="none" stroke="#5a5a5a" stroke-opacity="0.93" stroke-width="1"/>
<circle cx="579.6" cy="303.7" r="1.7" fill="none" stroke="#5a5a5a" stroke-opacity="0.93" stroke-width="1"/>
<circle cx="596.2" cy="235.5" r="1.7" fill="none" stroke="#5a5a5a" stroke-opacity="0.93" stroke-width="1"/>
<circle cx="612.8" cy="290.7" r="1.7" fill="none" stroke="#5a5a5a" stroke-opacity="0.93" stroke-width="1"/>
<circle cx="629.3" cy="253" r="1.7" fill="none" stroke="#5a5a5a" stroke-opacity="0.93" stroke-width="1"/>
<circle cx="645.9" cy="288.4" r="1.7" fill="none" stroke="#5a5a5a" stroke-opacity="0.93" stroke-width="1"/>
<circle cx="662.4" cy="262.3" r="1.7" fill="none" stroke="#5a5a5a" stroke-opacity="0.93" stroke-width="1"/>
<circle cx="679" cy="303.4" r="1.7" fill="none" stroke="#5a5a5a" stroke-opacity="0.93" stroke-width="1"/>
<polyline points="414,336.9 430.6,249.9 447.1,320.5 463.7,251 480.2,305.7 496.8,250.7 513.4,322.2 529.9,247.7 546.5,327 563.1,239.6 579.6,318 596.2,242.8 612.8,302.3 629.3,284.7 645.9,289.3 662.4,269.5 679,310.5" fill="none" stroke="#5a5a5a" stroke-opacity="0.69" stroke-width="1"/>
<circle cx="414" cy="336.9" r="1.7" fill="none" stroke="#5a5a5a" stroke-opacity="0.69" stroke-width="1"/>
<circle cx="430.6" cy="249.9" r="1.7" fill="none" stroke="#5a5a5a" stroke-opacity="0.69" stroke-width="1"/>
<circle cx="447.1" cy="320.5" r="1.7" fill="none" stroke="#5a5a5a" stroke-opacity="0.69" stroke-width="1"/>
<circle cx="463.7" cy="251" r="1.7" fill="none" stroke="#5a5a5a" stroke-opacity="0.69" stroke-width="1"/>
<circle cx="480.2" cy="305.7" r="1.7" fill="none" stroke="#5a5a5a" stroke-opacity="0.69" stroke-width="1"/>
<circle cx="496.8" cy="250.7" r="1.7" fill="none" stroke="#5a5a5a" stroke-opacity="0.69" stroke-width="1"/>
<circle cx="513.4" cy="322.2" r="1.7" fill="none" stroke="#5a5a5a" stroke-opacity="0.69" stroke-width="1"/>
<circle cx="529.9" cy="247.7" r="1.7" fill="none" stroke="#5a5a5a" stroke-opacity="0.69" stroke-width="1"/>
<circle cx="546.5" cy="327" r="1.7" fill="none" stroke="#5a5a5a" stroke-opacity="0.69" stroke-width="1"/>
<circle cx="563.1" cy="239.6" r="1.7" fill="none" stroke="#5a5a5a" stroke-opacity="0.69" stroke-width="1"/>
<circle cx="579.6" cy="318" r="1.7" fill="none" stroke="#5a5a5a" stroke-opacity="0.69" stroke-width="1"/>
<circle cx="596.2" cy="242.8" r="1.7" fill="none" stroke="#5a5a5a" stroke-opacity="0.69" stroke-width="1"/>
<circle cx="612.8" cy="302.3" r="1.7" fill="none" stroke="#5a5a5a" stroke-opacity="0.69" stroke-width="1"/>
<circle cx="629.3" cy="284.7" r="1.7" fill="none" stroke="#5a5a5a" stroke-opacity="0.69" stroke-width="1"/>
<circle cx="645.9" cy="289.3" r="1.7" fill="none" stroke="#5a5a5a" stroke-opacity="0.69" stroke-width="1"/>
<circle cx="662.4" cy="269.5" r="1.7" fill="none" stroke="#5a5a5a" stroke-opacity="0.69" stroke-width="1"/>
<circle cx="679" cy="310.5" r="1.7" fill="none" stroke="#5a5a5a" stroke-opacity="0.69" stroke-width="1"/>
<polyline points="414,309 430.6,239.9 447.1,333.6 463.7,240.1 480.2,290 496.8,233.2 513.4,302 529.9,232 546.5,312.1 563.1,238.7 579.6,315.7 596.2,236.7 612.8,286.5 629.3,258 645.9,302.2 662.4,233.5 679,307.3" fill="none" stroke="#5a5a5a" stroke-opacity="0.67" stroke-width="1"/>
<circle cx="414" cy="309" r="1.7" fill="none" stroke="#5a5a5a" stroke-opacity="0.67" stroke-width="1"/>
<circle cx="430.6" cy="239.9" r="1.7" fill="none" stroke="#5a5a5a" stroke-opacity="0.67" stroke-width="1"/>
<circle cx="447.1" cy="333.6" r="1.7" fill="none" stroke="#5a5a5a" stroke-opacity="0.67" stroke-width="1"/>
<circle cx="463.7" cy="240.1" r="1.7" fill="none" stroke="#5a5a5a" stroke-opacity="0.67" stroke-width="1"/>
<circle cx="480.2" cy="290" r="1.7" fill="none" stroke="#5a5a5a" stroke-opacity="0.67" stroke-width="1"/>
<circle cx="496.8" cy="233.2" r="1.7" fill="none" stroke="#5a5a5a" stroke-opacity="0.67" stroke-width="1"/>
<circle cx="513.4" cy="302" r="1.7" fill="none" stroke="#5a5a5a" stroke-opacity="0.67" stroke-width="1"/>
<circle cx="529.9" cy="232" r="1.7" fill="none" stroke="#5a5a5a" stroke-opacity="0.67" stroke-width="1"/>
<circle cx="546.5" cy="312.1" r="1.7" fill="none" stroke="#5a5a5a" stroke-opacity="0.67" stroke-width="1"/>
<circle cx="563.1" cy="238.7" r="1.7" fill="none" stroke="#5a5a5a" stroke-opacity="0.67" stroke-width="1"/>
<circle cx="579.6" cy="315.7" r="1.7" fill="none" stroke="#5a5a5a" stroke-opacity="0.67" stroke-width="1"/>
<circle cx="596.2" cy="236.7" r="1.7" fill="none" stroke="#5a5a5a" stroke-opacity="0.67" stroke-width="1"/>
<circle cx="612.8" cy="286.5" r="1.7" fill="none" stroke="#5a5a5a" stroke-opacity="0.67" stroke-width="1"/>
<circle cx="629.3" cy="258" r="1.7" fill="none" stroke="#5a5a5a" stroke-opacity="0.67" stroke-width="1"/>
<circle cx="645.9" cy="302.2" r="1.7" fill="none" stroke="#5a5a5a" stroke-opacity="0.67" stroke-width="1"/>
<circle cx="662.4" cy="233.5" r="1.7" fill="none" stroke="#5a5a5a" stroke-opacity="0.67" stroke-width="1"/>
<circle cx="679" cy="307.3" r="1.7" fill="none" stroke="#5a5a5a" stroke-opacity="0.67" stroke-width="1"/>
<polyline points="414,254.4 430.6,216.8 447.1,338 463.7,240.8 480.2,279.3 496.8,242.8 513.4,299.5 529.9,236.6 546.5,324.8 563.1,243.9 579.6,296.4 596.2,237.5 612.8,297.4 629.3,256.3 645.9,308.1 662.4,270.8 679,289.4" fill="none" stroke="#6a6a6a" stroke-opacity="0.82" stroke-width="1"/>
<circle cx="414" cy="254.4" r="1.7" fill="none" stroke="#6a6a6a" stroke-opacity="0.82" stroke-width="1"/>
<circle cx="430.6" cy="216.8" r="1.7" fill="none" stroke="#6a6a6a" stroke-opacity="0.82" stroke-width="1"/>
<circle cx="447.1" cy="338" r="1.7" fill="none" stroke="#6a6a6a" stroke-opacity="0.82" stroke-width="1"/>
<circle cx="463.7" cy="240.8" r="1.7" fill="none" stroke="#6a6a6a" stroke-opacity="0.82" stroke-width="1"/>
<circle cx="480.2" cy="279.3" r="1.7" fill="none" stroke="#6a6a6a" stroke-opacity="0.82" stroke-width="1"/>
<circle cx="496.8" cy="242.8" r="1.7" fill="none" stroke="#6a6a6a" stroke-opacity="0.82" stroke-width="1"/>
<circle cx="513.4" cy="299.5" r="1.7" fill="none" stroke="#6a6a6a" stroke-opacity="0.82" stroke-width="1"/>
<circle cx="529.9" cy="236.6" r="1.7" fill="none" stroke="#6a6a6a" stroke-opacity="0.82" stroke-width="1"/>
<circle cx="546.5" cy="324.8" r="1.7" fill="none" stroke="#6a6a6a" stroke-opacity="0.82" stroke-width="1"/>
<circle cx="563.1" cy="243.9" r="1.7" fill="none" stroke="#6a6a6a" stroke-opacity="0.82" stroke-width="1"/>
<circle cx="579.6" cy="296.4" r="1.7" fill="none" stroke="#6a6a6a" stroke-opacity="0.82" stroke-width="1"/>
<circle cx="596.2" cy="237.5" r="1.7" fill="none" stroke="#6a6a6a" stroke-opacity="0.82" stroke-width="1"/>
<circle cx="612.8" cy="297.4" r="1.7" fill="none" stroke="#6a6a6a" stroke-opacity="0.82" stroke-width="1"/>
<circle cx="629.3" cy="256.3" r="1.7" fill="none" stroke="#6a6a6a" stroke-opacity="0.82" stroke-width="1"/>
<circle cx="645.9" cy="308.1" r="1.7" fill="none" stroke="#6a6a6a" stroke-opacity="0.82" stroke-width="1"/>
<circle cx="662.4" cy="270.8" r="1.7" fill="none" stroke="#6a6a6a" stroke-opacity="0.82" stroke-width="1"/>
<circle cx="679" cy="289.4" r="1.7" fill="none" stroke="#6a6a6a" stroke-opacity="0.82" stroke-width="1"/>
<polyline points="414,269.3 430.6,252.2 447.1,337.2 463.7,224.7 480.2,286.3 496.8,233.6 513.4,333.6 529.9,239.7 546.5,313.5 563.1,227.1 579.6,295.3 596.2,247.1 612.8,292.9 629.3,284.7 645.9,285.9 662.4,259.7 679,300.2" fill="none" stroke="#8a8a8a" stroke-opacity="0.87" stroke-width="1"/>
<circle cx="414" cy="269.3" r="1.7" fill="none" stroke="#8a8a8a" stroke-opacity="0.87" stroke-width="1"/>
<circle cx="430.6" cy="252.2" r="1.7" fill="none" stroke="#8a8a8a" stroke-opacity="0.87" stroke-width="1"/>
<circle cx="447.1" cy="337.2" r="1.7" fill="none" stroke="#8a8a8a" stroke-opacity="0.87" stroke-width="1"/>
<circle cx="463.7" cy="224.7" r="1.7" fill="none" stroke="#8a8a8a" stroke-opacity="0.87" stroke-width="1"/>
<circle cx="480.2" cy="286.3" r="1.7" fill="none" stroke="#8a8a8a" stroke-opacity="0.87" stroke-width="1"/>
<circle cx="496.8" cy="233.6" r="1.7" fill="none" stroke="#8a8a8a" stroke-opacity="0.87" stroke-width="1"/>
<circle cx="513.4" cy="333.6" r="1.7" fill="none" stroke="#8a8a8a" stroke-opacity="0.87" stroke-width="1"/>
<circle cx="529.9" cy="239.7" r="1.7" fill="none" stroke="#8a8a8a" stroke-opacity="0.87" stroke-width="1"/>
<circle cx="546.5" cy="313.5" r="1.7" fill="none" stroke="#8a8a8a" stroke-opacity="0.87" stroke-width="1"/>
<circle cx="563.1" cy="227.1" r="1.7" fill="none" stroke="#8a8a8a" stroke-opacity="0.87" stroke-width="1"/>
<circle cx="579.6" cy="295.3" r="1.7" fill="none" stroke="#8a8a8a" stroke-opacity="0.87" stroke-width="1"/>
<circle cx="596.2" cy="247.1" r="1.7" fill="none" stroke="#8a8a8a" stroke-opacity="0.87" stroke-width="1"/>
<circle cx="612.8" cy="292.9" r="1.7" fill="none" stroke="#8a8a8a" stroke-opacity="0.87" stroke-width="1"/>
<circle cx="629.3" cy="284.7" r="1.7" fill="none" stroke="#8a8a8a" stroke-opacity="0.87" stroke-width="1"/>
<circle cx="645.9" cy="285.9" r="1.7" fill="none" stroke="#8a8a8a" stroke-opacity="0.87" stroke-width="1"/>
<circle cx="662.4" cy="259.7" r="1.7" fill="none" stroke="#8a8a8a" stroke-opacity="0.87" stroke-width="1"/>
<circle cx="679" cy="300.2" r="1.7" fill="none" stroke="#8a8a8a" stroke-opacity="0.87" stroke-width="1"/>
<polyline points="414,194 430.6,209.2 447.1,300.5 463.7,234.6 480.2,290.4 496.8,200.7 513.4,273.5 529.9,221 546.5,285.3 563.1,227.8 579.6,273.5 596.2,209.2 612.8,290.4 629.3,194 645.9,287 662.4,227.8 679,285.3" fill="none" stroke="#6a6a6a" stroke-opacity="0.76" stroke-width="1"/>
<circle cx="414" cy="194" r="1.7" fill="none" stroke="#6a6a6a" stroke-opacity="0.76" stroke-width="1"/>
<circle cx="430.6" cy="209.2" r="1.7" fill="none" stroke="#6a6a6a" stroke-opacity="0.76" stroke-width="1"/>
<circle cx="447.1" cy="300.5" r="1.7" fill="none" stroke="#6a6a6a" stroke-opacity="0.76" stroke-width="1"/>
<circle cx="463.7" cy="234.6" r="1.7" fill="none" stroke="#6a6a6a" stroke-opacity="0.76" stroke-width="1"/>
<circle cx="480.2" cy="290.4" r="1.7" fill="none" stroke="#6a6a6a" stroke-opacity="0.76" stroke-width="1"/>
<circle cx="496.8" cy="200.7" r="1.7" fill="none" stroke="#6a6a6a" stroke-opacity="0.76" stroke-width="1"/>
<circle cx="513.4" cy="273.5" r="1.7" fill="none" stroke="#6a6a6a" stroke-opacity="0.76" stroke-width="1"/>
<circle cx="529.9" cy="221" r="1.7" fill="none" stroke="#6a6a6a" stroke-opacity="0.76" stroke-width="1"/>
<circle cx="546.5" cy="285.3" r="1.7" fill="none" stroke="#6a6a6a" stroke-opacity="0.76" stroke-width="1"/>
<circle cx="563.1" cy="227.8" r="1.7" fill="none" stroke="#6a6a6a" stroke-opacity="0.76" stroke-width="1"/>
<circle cx="579.6" cy="273.5" r="1.7" fill="none" stroke="#6a6a6a" stroke-opacity="0.76" stroke-width="1"/>
<circle cx="596.2" cy="209.2" r="1.7" fill="none" stroke="#6a6a6a" stroke-opacity="0.76" stroke-width="1"/>
<circle cx="612.8" cy="290.4" r="1.7" fill="none" stroke="#6a6a6a" stroke-opacity="0.76" stroke-width="1"/>
<circle cx="629.3" cy="194" r="1.7" fill="none" stroke="#6a6a6a" stroke-opacity="0.76" stroke-width="1"/>
<circle cx="645.9" cy="287" r="1.7" fill="none" stroke="#6a6a6a" stroke-opacity="0.76" stroke-width="1"/>
<circle cx="662.4" cy="227.8" r="1.7" fill="none" stroke="#6a6a6a" stroke-opacity="0.76" stroke-width="1"/>
<circle cx="679" cy="285.3" r="1.7" fill="none" stroke="#6a6a6a" stroke-opacity="0.76" stroke-width="1"/>
<polyline points="414,234.6 430.6,302.2 447.1,341.1 463.7,302.2 480.2,346.2 496.8,281.9 513.4,352.9 529.9,302.2 546.5,290.4 563.1,341.1 579.6,241.3 596.2,278.5 612.8,298.8 629.3,288.7 645.9,310.7 662.4,310.7 679,315.7" fill="none" stroke="#9a9a9a" stroke-opacity="0.66" stroke-width="1"/>
<circle cx="414" cy="234.6" r="1.7" fill="none" stroke="#9a9a9a" stroke-opacity="0.66" stroke-width="1"/>
<circle cx="430.6" cy="302.2" r="1.7" fill="none" stroke="#9a9a9a" stroke-opacity="0.66" stroke-width="1"/>
<circle cx="447.1" cy="341.1" r="1.7" fill="none" stroke="#9a9a9a" stroke-opacity="0.66" stroke-width="1"/>
<circle cx="463.7" cy="302.2" r="1.7" fill="none" stroke="#9a9a9a" stroke-opacity="0.66" stroke-width="1"/>
<circle cx="480.2" cy="346.2" r="1.7" fill="none" stroke="#9a9a9a" stroke-opacity="0.66" stroke-width="1"/>
<circle cx="496.8" cy="281.9" r="1.7" fill="none" stroke="#9a9a9a" stroke-opacity="0.66" stroke-width="1"/>
<circle cx="513.4" cy="352.9" r="1.7" fill="none" stroke="#9a9a9a" stroke-opacity="0.66" stroke-width="1"/>
<circle cx="529.9" cy="302.2" r="1.7" fill="none" stroke="#9a9a9a" stroke-opacity="0.66" stroke-width="1"/>
<circle cx="546.5" cy="290.4" r="1.7" fill="none" stroke="#9a9a9a" stroke-opacity="0.66" stroke-width="1"/>
<circle cx="563.1" cy="341.1" r="1.7" fill="none" stroke="#9a9a9a" stroke-opacity="0.66" stroke-width="1"/>
<circle cx="579.6" cy="241.3" r="1.7" fill="none" stroke="#9a9a9a" stroke-opacity="0.66" stroke-width="1"/>
<circle cx="596.2" cy="278.5" r="1.7" fill="none" stroke="#9a9a9a" stroke-opacity="0.66" stroke-width="1"/>
<circle cx="612.8" cy="298.8" r="1.7" fill="none" stroke="#9a9a9a" stroke-opacity="0.66" stroke-width="1"/>
<circle cx="629.3" cy="288.7" r="1.7" fill="none" stroke="#9a9a9a" stroke-opacity="0.66" stroke-width="1"/>
<circle cx="645.9" cy="310.7" r="1.7" fill="none" stroke="#9a9a9a" stroke-opacity="0.66" stroke-width="1"/>
<circle cx="662.4" cy="310.7" r="1.7" fill="none" stroke="#9a9a9a" stroke-opacity="0.66" stroke-width="1"/>
<circle cx="679" cy="315.7" r="1.7" fill="none" stroke="#9a9a9a" stroke-opacity="0.66" stroke-width="1"/>
<polyline points="414,285.3 430.6,239.6 447.1,354.6 463.7,315.7 480.2,342.8 496.8,273.5 513.4,336 529.9,270.1 546.5,319.1 563.1,290.4 579.6,307.3 596.2,273.5 612.8,295.4 629.3,290.4 645.9,327.6 662.4,315.7 679,358" fill="none" stroke="#6a6a6a" stroke-opacity="0.88" stroke-width="1"/>
<circle cx="414" cy="285.3" r="1.7" fill="none" stroke="#6a6a6a" stroke-opacity="0.88" stroke-width="1"/>
<circle cx="430.6" cy="239.6" r="1.7" fill="none" stroke="#6a6a6a" stroke-opacity="0.88" stroke-width="1"/>
<circle cx="447.1" cy="354.6" r="1.7" fill="none" stroke="#6a6a6a" stroke-opacity="0.88" stroke-width="1"/>
<circle cx="463.7" cy="315.7" r="1.7" fill="none" stroke="#6a6a6a" stroke-opacity="0.88" stroke-width="1"/>
<circle cx="480.2" cy="342.8" r="1.7" fill="none" stroke="#6a6a6a" stroke-opacity="0.88" stroke-width="1"/>
<circle cx="496.8" cy="273.5" r="1.7" fill="none" stroke="#6a6a6a" stroke-opacity="0.88" stroke-width="1"/>
<circle cx="513.4" cy="336" r="1.7" fill="none" stroke="#6a6a6a" stroke-opacity="0.88" stroke-width="1"/>
<circle cx="529.9" cy="270.1" r="1.7" fill="none" stroke="#6a6a6a" stroke-opacity="0.88" stroke-width="1"/>
<circle cx="546.5" cy="319.1" r="1.7" fill="none" stroke="#6a6a6a" stroke-opacity="0.88" stroke-width="1"/>
<circle cx="563.1" cy="290.4" r="1.7" fill="none" stroke="#6a6a6a" stroke-opacity="0.88" stroke-width="1"/>
<circle cx="579.6" cy="307.3" r="1.7" fill="none" stroke="#6a6a6a" stroke-opacity="0.88" stroke-width="1"/>
<circle cx="596.2" cy="273.5" r="1.7" fill="none" stroke="#6a6a6a" stroke-opacity="0.88" stroke-width="1"/>
<circle cx="612.8" cy="295.4" r="1.7" fill="none" stroke="#6a6a6a" stroke-opacity="0.88" stroke-width="1"/>
<circle cx="629.3" cy="290.4" r="1.7" fill="none" stroke="#6a6a6a" stroke-opacity="0.88" stroke-width="1"/>
<circle cx="645.9" cy="327.6" r="1.7" fill="none" stroke="#6a6a6a" stroke-opacity="0.88" stroke-width="1"/>
<circle cx="662.4" cy="315.7" r="1.7" fill="none" stroke="#6a6a6a" stroke-opacity="0.88" stroke-width="1"/>
<circle cx="679" cy="358" r="1.7" fill="none" stroke="#6a6a6a" stroke-opacity="0.88" stroke-width="1"/>
<polyline points="414,341.1 430.6,281.9 447.1,324.2 463.7,275.1 480.2,302.2 496.8,268.4 513.4,290.4 529.9,273.5 546.5,332.6 563.1,283.6 579.6,283.6 596.2,275.1 612.8,290.4 629.3,293.7 645.9,288.7 662.4,298.8 679,300.5" fill="none" stroke="#6a6a6a" stroke-opacity="0.61" stroke-width="1"/>
<circle cx="414" cy="341.1" r="1.7" fill="none" stroke="#6a6a6a" stroke-opacity="0.61" stroke-width="1"/>
<circle cx="430.6" cy="281.9" r="1.7" fill="none" stroke="#6a6a6a" stroke-opacity="0.61" stroke-width="1"/>
<circle cx="447.1" cy="324.2" r="1.7" fill="none" stroke="#6a6a6a" stroke-opacity="0.61" stroke-width="1"/>
<circle cx="463.7" cy="275.1" r="1.7" fill="none" stroke="#6a6a6a" stroke-opacity="0.61" stroke-width="1"/>
<circle cx="480.2" cy="302.2" r="1.7" fill="none" stroke="#6a6a6a" stroke-opacity="0.61" stroke-width="1"/>
<circle cx="496.8" cy="268.4" r="1.7" fill="none" stroke="#6a6a6a" stroke-opacity="0.61" stroke-width="1"/>
<circle cx="513.4" cy="290.4" r="1.7" fill="none" stroke="#6a6a6a" stroke-opacity="0.61" stroke-width="1"/>
<circle cx="529.9" cy="273.5" r="1.7" fill="none" stroke="#6a6a6a" stroke-opacity="0.61" stroke-width="1"/>
<circle cx="546.5" cy="332.6" r="1.7" fill="none" stroke="#6a6a6a" stroke-opacity="0.61" stroke-width="1"/>
<circle cx="563.1" cy="283.6" r="1.7" fill="none" stroke="#6a6a6a" stroke-opacity="0.61" stroke-width="1"/>
<circle cx="579.6" cy="283.6" r="1.7" fill="none" stroke="#6a6a6a" stroke-opacity="0.61" stroke-width="1"/>
<circle cx="596.2" cy="275.1" r="1.7" fill="none" stroke="#6a6a6a" stroke-opacity="0.61" stroke-width="1"/>
<circle cx="612.8" cy="290.4" r="1.7" fill="none" stroke="#6a6a6a" stroke-opacity="0.61" stroke-width="1"/>
<circle cx="629.3" cy="293.7" r="1.7" fill="none" stroke="#6a6a6a" stroke-opacity="0.61" stroke-width="1"/>
<circle cx="645.9" cy="288.7" r="1.7" fill="none" stroke="#6a6a6a" stroke-opacity="0.61" stroke-width="1"/>
<circle cx="662.4" cy="298.8" r="1.7" fill="none" stroke="#6a6a6a" stroke-opacity="0.61" stroke-width="1"/>
<circle cx="679" cy="300.5" r="1.7" fill="none" stroke="#6a6a6a" stroke-opacity="0.61" stroke-width="1"/>
<polyline points="414,320.8 430.6,253.2 447.1,347.9 463.7,253.2 480.2,336 496.8,256.5 513.4,327.6 529.9,256.5 546.5,327.6 563.1,253.2 579.6,315.7 596.2,256.5 612.8,346.2 629.3,222.7 645.9,320.8 662.4,275.1 679,307.3" fill="none" stroke="#4a4a4a" stroke-opacity="0.86" stroke-width="1"/>
<circle cx="414" cy="320.8" r="1.7" fill="none" stroke="#4a4a4a" stroke-opacity="0.86" stroke-width="1"/>
<circle cx="430.6" cy="253.2" r="1.7" fill="none" stroke="#4a4a4a" stroke-opacity="0.86" stroke-width="1"/>
<circle cx="447.1" cy="347.9" r="1.7" fill="none" stroke="#4a4a4a" stroke-opacity="0.86" stroke-width="1"/>
<circle cx="463.7" cy="253.2" r="1.7" fill="none" stroke="#4a4a4a" stroke-opacity="0.86" stroke-width="1"/>
<circle cx="480.2" cy="336" r="1.7" fill="none" stroke="#4a4a4a" stroke-opacity="0.86" stroke-width="1"/>
<circle cx="496.8" cy="256.5" r="1.7" fill="none" stroke="#4a4a4a" stroke-opacity="0.86" stroke-width="1"/>
<circle cx="513.4" cy="327.6" r="1.7" fill="none" stroke="#4a4a4a" stroke-opacity="0.86" stroke-width="1"/>
<circle cx="529.9" cy="256.5" r="1.7" fill="none" stroke="#4a4a4a" stroke-opacity="0.86" stroke-width="1"/>
<circle cx="546.5" cy="327.6" r="1.7" fill="none" stroke="#4a4a4a" stroke-opacity="0.86" stroke-width="1"/>
<circle cx="563.1" cy="253.2" r="1.7" fill="none" stroke="#4a4a4a" stroke-opacity="0.86" stroke-width="1"/>
<circle cx="579.6" cy="315.7" r="1.7" fill="none" stroke="#4a4a4a" stroke-opacity="0.86" stroke-width="1"/>
<circle cx="596.2" cy="256.5" r="1.7" fill="none" stroke="#4a4a4a" stroke-opacity="0.86" stroke-width="1"/>
<circle cx="612.8" cy="346.2" r="1.7" fill="none" stroke="#4a4a4a" stroke-opacity="0.86" stroke-width="1"/>
<circle cx="629.3" cy="222.7" r="1.7" fill="none" stroke="#4a4a4a" stroke-opacity="0.86" stroke-width="1"/>
<circle cx="645.9" cy="320.8" r="1.7" fill="none" stroke="#4a4a4a" stroke-opacity="0.86" stroke-width="1"/>
<circle cx="662.4" cy="275.1" r="1.7" fill="none" stroke="#4a4a4a" stroke-opacity="0.86" stroke-width="1"/>
<circle cx="679" cy="307.3" r="1.7" fill="none" stroke="#4a4a4a" stroke-opacity="0.86" stroke-width="1"/>
<polyline points="414,244.7 430.6,226.1 447.1,336 463.7,239.6 480.2,332.6 496.8,214.3 513.4,315.7 529.9,226.1 546.5,324.2 563.1,231.2 579.6,300.5 596.2,219.3 612.8,324.2 629.3,239.6 645.9,290.4 662.4,248.1 679,290.4" fill="none" stroke="#8a8a8a" stroke-opacity="0.94" stroke-width="1"/>
<circle cx="414" cy="244.7" r="1.7" fill="none" stroke="#8a8a8a" stroke-opacity="0.94" stroke-width="1"/>
<circle cx="430.6" cy="226.1" r="1.7" fill="none" stroke="#8a8a8a" stroke-opacity="0.94" stroke-width="1"/>
<circle cx="447.1" cy="336" r="1.7" fill="none" stroke="#8a8a8a" stroke-opacity="0.94" stroke-width="1"/>
<circle cx="463.7" cy="239.6" r="1.7" fill="none" stroke="#8a8a8a" stroke-opacity="0.94" stroke-width="1"/>
<circle cx="480.2" cy="332.6" r="1.7" fill="none" stroke="#8a8a8a" stroke-opacity="0.94" stroke-width="1"/>
<circle cx="496.8" cy="214.3" r="1.7" fill="none" stroke="#8a8a8a" stroke-opacity="0.94" stroke-width="1"/>
<circle cx="513.4" cy="315.7" r="1.7" fill="none" stroke="#8a8a8a" stroke-opacity="0.94" stroke-width="1"/>
<circle cx="529.9" cy="226.1" r="1.7" fill="none" stroke="#8a8a8a" stroke-opacity="0.94" stroke-width="1"/>
<circle cx="546.5" cy="324.2" r="1.7" fill="none" stroke="#8a8a8a" stroke-opacity="0.94" stroke-width="1"/>
<circle cx="563.1" cy="231.2" r="1.7" fill="none" stroke="#8a8a8a" stroke-opacity="0.94" stroke-width="1"/>
<circle cx="579.6" cy="300.5" r="1.7" fill="none" stroke="#8a8a8a" stroke-opacity="0.94" stroke-width="1"/>
<circle cx="596.2" cy="219.3" r="1.7" fill="none" stroke="#8a8a8a" stroke-opacity="0.94" stroke-width="1"/>
<circle cx="612.8" cy="324.2" r="1.7" fill="none" stroke="#8a8a8a" stroke-opacity="0.94" stroke-width="1"/>
<circle cx="629.3" cy="239.6" r="1.7" fill="none" stroke="#8a8a8a" stroke-opacity="0.94" stroke-width="1"/>
<circle cx="645.9" cy="290.4" r="1.7" fill="none" stroke="#8a8a8a" stroke-opacity="0.94" stroke-width="1"/>
<circle cx="662.4" cy="248.1" r="1.7" fill="none" stroke="#8a8a8a" stroke-opacity="0.94" stroke-width="1"/>
<circle cx="679" cy="290.4" r="1.7" fill="none" stroke="#8a8a8a" stroke-opacity="0.94" stroke-width="1"/>
<polyline points="612.8,273.5 624.3,172" fill="none" stroke="#777" stroke-width="1"/>
<polyline points="618.5,358 632.6,180.4" fill="none" stroke="#888" stroke-width="1"/>
<polyline points="629.3,290.4 645.9,194" fill="none" stroke="#888" stroke-width="1"/>
</g>
<g font-family="Liberation Sans" font-size="12.5" fill="#222" stroke="#222" stroke-width="0.3"><text x="408" y="362.5" text-anchor="end">0.4</text><text x="408" y="345.6" text-anchor="end">0.41</text><text x="408" y="328.7" text-anchor="end">0.42</text><text x="408" y="311.8" text-anchor="end">0.43</text><text x="408" y="294.9" text-anchor="end">0.44</text><text x="408" y="278" text-anchor="end">0.45</text><text x="408" y="261" text-anchor="end">0.46</text><text x="408" y="244.1" text-anchor="end">0.47</text><text x="408" y="227.2" text-anchor="end">0.48</text><text x="408" y="210.3" text-anchor="end">0.49</text><text x="408" y="193.4" text-anchor="end">0.5</text><text x="430.6" y="374" text-anchor="middle">2</text><text x="463.7" y="374" text-anchor="middle">4</text><text x="496.8" y="374" text-anchor="middle">6</text><text x="529.9" y="374" text-anchor="middle">8</text><text x="563.1" y="374" text-anchor="middle">10</text><text x="596.2" y="374" text-anchor="middle">12</text><text x="629.3" y="374" text-anchor="middle">14</text><text x="662.4" y="374" text-anchor="middle">16</text></g>
<text x="546" y="396.3" text-anchor="middle" font-family="Liberation Sans" font-size="15.3" fill="#222" stroke="#222" stroke-width="0.3">step number</text>
<text transform="translate(371.2,277.5) rotate(-90)" text-anchor="middle" font-family="Liberation Sans" font-size="15.8" fill="#222" stroke="#222" stroke-width="0.3">period of step[sec]</text>
<text x="356" y="203" font-family="Liberation Sans" font-size="25" fill="#111" stroke="#111" stroke-width="0.5">b</text>
<line x1="807" y1="188" x2="807" y2="358.5" stroke="#999" stroke-width="1" stroke-dasharray="1.5 2.5" opacity="0.7"/>
<line x1="857" y1="188" x2="857" y2="358.5" stroke="#999" stroke-width="1" stroke-dasharray="1.5 2.5" opacity="0.7"/>
<line x1="907" y1="188" x2="907" y2="358.5" stroke="#999" stroke-width="1" stroke-dasharray="1.5 2.5" opacity="0.7"/>
<line x1="957" y1="188" x2="957" y2="358.5" stroke="#999" stroke-width="1" stroke-dasharray="1.5 2.5" opacity="0.7"/>
<line x1="1007" y1="188" x2="1007" y2="358.5" stroke="#999" stroke-width="1" stroke-dasharray="1.5 2.5" opacity="0.7"/>
<line x1="757" y1="327.5" x2="1031" y2="327.5" stroke="#999" stroke-width="1" stroke-dasharray="1.5 2.5" opacity="0.7"/>
<line x1="757" y1="296.5" x2="1031" y2="296.5" stroke="#999" stroke-width="1" stroke-dasharray="1.5 2.5" opacity="0.7"/>
<line x1="757" y1="265.5" x2="1031" y2="265.5" stroke="#999" stroke-width="1" stroke-dasharray="1.5 2.5" opacity="0.7"/>
<line x1="757" y1="234.5" x2="1031" y2="234.5" stroke="#999" stroke-width="1" stroke-dasharray="1.5 2.5" opacity="0.7"/>
<line x1="757" y1="203.5" x2="1031" y2="203.5" stroke="#999" stroke-width="1" stroke-dasharray="1.5 2.5" opacity="0.7"/>
<path d="M757 188V358.5H1031" fill="none" stroke="#222" stroke-width="1.6"/>
<line x1="757" y1="358.5" x2="757" y2="355.5" stroke="#222" stroke-width="1.2"/>
<line x1="807" y1="358.5" x2="807" y2="355.5" stroke="#222" stroke-width="1.2"/>
<line x1="857" y1="358.5" x2="857" y2="355.5" stroke="#222" stroke-width="1.2"/>
<line x1="907" y1="358.5" x2="907" y2="355.5" stroke="#222" stroke-width="1.2"/>
<line x1="957" y1="358.5" x2="957" y2="355.5" stroke="#222" stroke-width="1.2"/>
<line x1="1007" y1="358.5" x2="1007" y2="355.5" stroke="#222" stroke-width="1.2"/>
<line x1="757" y1="358.5" x2="760" y2="358.5" stroke="#222" stroke-width="1.2"/>
<line x1="757" y1="327.5" x2="760" y2="327.5" stroke="#222" stroke-width="1.2"/>
<line x1="757" y1="296.5" x2="760" y2="296.5" stroke="#222" stroke-width="1.2"/>
<line x1="757" y1="265.5" x2="760" y2="265.5" stroke="#222" stroke-width="1.2"/>
<line x1="757" y1="234.5" x2="760" y2="234.5" stroke="#222" stroke-width="1.2"/>
<line x1="757" y1="203.5" x2="760" y2="203.5" stroke="#222" stroke-width="1.2"/>
<line x1="757" y1="272.5" x2="907" y2="261.6" stroke="#111" stroke-width="1.8"/>
<path d="M907 259.5h1.4v1.4h-1.4zM907 264h1.4v1.4h-1.4zM907.5 258h1.4v1.4h-1.4zM907.5 265.5h1.4v1.4h-1.4zM908 257h1.4v1.4h-1.4zM908 267h1.4v1.4h-1.4zM908.5 256h1.4v1.4h-1.4zM908.5 268h1.4v1.4h-1.4zM909 255h1.4v1.4h-1.4zM909 269h1.4v1.4h-1.4zM909.5 254.5h1.4v1.4h-1.4zM909.5 270h1.4v1.4h-1.4zM910 254h1.4v1.4h-1.4zM910 270.5h1.4v1.4h-1.4zM910.5 253h1.4v1.4h-1.4zM910.5 271.5h1.4v1.4h-1.4zM911 252.5h1.4v1.4h-1.4zM911 272h1.4v1.4h-1.4zM911.5 252h1.4v1.4h-1.4zM911.5 272.5h1.4v1.4h-1.4zM912 251.5h1.4v1.4h-1.4zM912 273.5h1.4v1.4h-1.4zM912.5 251h1.4v1.4h-1.4zM912.5 274h1.4v1.4h-1.4zM913 250.5h1.4v1.4h-1.4zM913 274.5h1.4v1.4h-1.4zM913.5 250h1.4v1.4h-1.4zM913.5 275h1.4v1.4h-1.4zM914 250h1.4v1.4h-1.4zM914 275.5h1.4v1.4h-1.4zM914.5 249.5h1.4v1.4h-1.4zM914.5 276h1.4v1.4h-1.4zM915 249h1.4v1.4h-1.4zM915 276.5h1.4v1.4h-1.4zM915.5 248.5h1.4v1.4h-1.4zM915.5 277h1.4v1.4h-1.4zM916 248.5h1.4v1.4h-1.4zM916 277.5h1.4v1.4h-1.4zM916.5 248h1.4v1.4h-1.4zM916.5 278h1.4v1.4h-1.4zM917 247.5h1.4v1.4h-1.4zM917 278.5h1.4v1.4h-1.4zM917.5 247.5h1.4v1.4h-1.4zM917.5 278.5h1.4v1.4h-1.4zM918 247h1.4v1.4h-1.4zM918 279h1.4v1.4h-1.4zM918.5 247h1.4v1.4h-1.4zM918.5 279.5h1.4v1.4h-1.4zM919 246.5h1.4v1.4h-1.4zM919 280h1.4v1.4h-1.4zM919.5 246h1.4v1.4h-1.4zM919.5 280.5h1.4v1.4h-1.4zM920 246h1.4v1.4h-1.4zM920 280.5h1.4v1.4h-1.4zM920.5 245.5h1.4v1.4h-1.4zM920.5 281h1.4v1.4h-1.4zM921 245.5h1.4v1.4h-1.4zM921 281.5h1.4v1.4h-1.4zM921.5 245h1.4v1.4h-1.4zM921.5 282h1.4v1.4h-1.4zM922 245h1.4v1.4h-1.4zM922 282h1.4v1.4h-1.4zM922.5 244.5h1.4v1.4h-1.4zM922.5 282.5h1.4v1.4h-1.4zM923 244.5h1.4v1.4h-1.4zM923 283h1.4v1.4h-1.4zM923.5 244h1.4v1.4h-1.4zM923.5 283h1.4v1.4h-1.4zM924 244h1.4v1.4h-1.4zM924 283.5h1.4v1.4h-1.4zM924.5 243.5h1.4v1.4h-1.4zM924.5 284h1.4v1.4h-1.4zM925 243.5h1.4v1.4h-1.4zM925 284h1.4v1.4h-1.4zM925.5 243h1.4v1.4h-1.4zM925.5 284.5h1.4v1.4h-1.4zM926 243h1.4v1.4h-1.4zM926 284.5h1.4v1.4h-1.4zM926.5 242.5h1.4v1.4h-1.4zM926.5 285h1.4v1.4h-1.4zM927 242.5h1.4v1.4h-1.4zM927 285.5h1.4v1.4h-1.4zM927.5 242.5h1.4v1.4h-1.4zM927.5 285.5h1.4v1.4h-1.4zM928 242h1.4v1.4h-1.4zM928 286h1.4v1.4h-1.4zM928.5 242h1.4v1.4h-1.4zM928.5 286h1.4v1.4h-1.4zM929 241.5h1.4v1.4h-1.4zM929 286.5h1.4v1.4h-1.4zM929.5 241.5h1.4v1.4h-1.4zM929.5 286.5h1.4v1.4h-1.4zM930 241.5h1.4v1.4h-1.4zM930 287h1.4v1.4h-1.4zM930.5 241h1.4v1.4h-1.4zM930.5 287.5h1.4v1.4h-1.4zM931 241h1.4v1.4h-1.4zM931 287.5h1.4v1.4h-1.4zM931.5 240.5h1.4v1.4h-1.4zM931.5 288h1.4v1.4h-1.4zM932 240.5h1.4v1.4h-1.4zM932 288h1.4v1.4h-1.4zM932.5 240.5h1.4v1.4h-1.4zM932.5 288.5h1.4v1.4h-1.4zM933 240h1.4v1.4h-1.4zM933 288.5h1.4v1.4h-1.4zM933.5 240h1.4v1.4h-1.4zM933.5 289h1.4v1.4h-1.4zM934 240h1.4v1.4h-1.4zM934 289h1.4v1.4h-1.4zM934.5 239.5h1.4v1.4h-1.4zM934.5 289.5h1.4v1.4h-1.4zM935 239.5h1.4v1.4h-1.4zM935 289.5h1.4v1.4h-1.4zM935.5 239.5h1.4v1.4h-1.4zM935.5 290h1.4v1.4h-1.4zM936 239h1.4v1.4h-1.4zM936 290h1.4v1.4h-1.4zM936.5 239h1.4v1.4h-1.4zM936.5 290.5h1.4v1.4h-1.4zM937 239h1.4v1.4h-1.4zM937 290.5h1.4v1.4h-1.4zM937.5 238.5h1.4v1.4h-1.4zM937.5 291h1.4v1.4h-1.4zM938 238.5h1.4v1.4h-1.4zM938 291h1.4v1.4h-1.4zM938.5 238.5h1.4v1.4h-1.4zM938.5 291.5h1.4v1.4h-1.4zM939 238h1.4v1.4h-1.4zM939 291.5h1.4v1.4h-1.4zM939.5 238h1.4v1.4h-1.4zM939.5 292h1.4v1.4h-1.4zM940 238h1.4v1.4h-1.4zM940 292h1.4v1.4h-1.4zM940.5 237.5h1.4v1.4h-1.4zM940.5 292h1.4v1.4h-1.4zM941 237.5h1.4v1.4h-1.4zM941 292.5h1.4v1.4h-1.4zM941.5 237.5h1.4v1.4h-1.4zM941.5 292.5h1.4v1.4h-1.4zM942 237.5h1.4v1.4h-1.4zM942 293h1.4v1.4h-1.4zM942.5 237h1.4v1.4h-1.4zM942.5 293h1.4v1.4h-1.4zM943 237h1.4v1.4h-1.4zM943 293.5h1.4v1.4h-1.4zM943.5 237h1.4v1.4h-1.4zM943.5 293.5h1.4v1.4h-1.4zM944 236.5h1.4v1.4h-1.4zM944 293.5h1.4v1.4h-1.4zM944.5 236.5h1.4v1.4h-1.4zM944.5 294h1.4v1.4h-1.4zM945 236.5h1.4v1.4h-1.4zM945 294h1.4v1.4h-1.4zM945.5 236.5h1.4v1.4h-1.4zM945.5 294.5h1.4v1.4h-1.4zM946 236h1.4v1.4h-1.4zM946 294.5h1.4v1.4h-1.4zM946.5 236h1.4v1.4h-1.4zM946.5 295h1.4v1.4h-1.4zM947 236h1.4v1.4h-1.4zM947 295h1.4v1.4h-1.4zM947.5 236h1.4v1.4h-1.4zM947.5 295h1.4v1.4h-1.4zM948 235.5h1.4v1.4h-1.4zM948 295.5h1.4v1.4h-1.4zM948.5 235.5h1.4v1.4h-1.4zM948.5 295.5h1.4v1.4h-1.4zM949 235.5h1.4v1.4h-1.4zM949 296h1.4v1.4h-1.4zM949.5 235.5h1.4v1.4h-1.4zM949.5 296h1.4v1.4h-1.4zM950 235h1.4v1.4h-1.4zM950 296h1.4v1.4h-1.4zM950.5 235h1.4v1.4h-1.4zM950.5 296.5h1.4v1.4h-1.4zM951 235h1.4v1.4h-1.4zM951 296.5h1.4v1.4h-1.4zM951.5 235h1.4v1.4h-1.4zM951.5 297h1.4v1.4h-1.4zM952 234.5h1.4v1.4h-1.4zM952 297h1.4v1.4h-1.4zM952.5 234.5h1.4v1.4h-1.4zM952.5 297h1.4v1.4h-1.4zM953 234.5h1.4v1.4h-1.4zM953 297.5h1.4v1.4h-1.4zM953.5 234.5h1.4v1.4h-1.4zM953.5 297.5h1.4v1.4h-1.4zM954 234h1.4v1.4h-1.4zM954 297.5h1.4v1.4h-1.4zM954.5 234h1.4v1.4h-1.4zM954.5 298h1.4v1.4h-1.4zM955 234h1.4v1.4h-1.4zM955 298h1.4v1.4h-1.4zM955.5 234h1.4v1.4h-1.4zM955.5 298h1.4v1.4h-1.4zM956 233.5h1.4v1.4h-1.4zM956 298.5h1.4v1.4h-1.4zM956.5 233.5h1.4v1.4h-1.4zM956.5 298.5h1.4v1.4h-1.4zM957 233.5h1.4v1.4h-1.4zM957 299h1.4v1.4h-1.4zM957.5 233.5h1.4v1.4h-1.4zM957.5 299h1.4v1.4h-1.4zM958 233.5h1.4v1.4h-1.4zM958 299h1.4v1.4h-1.4zM958.5 233h1.4v1.4h-1.4zM958.5 299.5h1.4v1.4h-1.4zM959 233h1.4v1.4h-1.4zM959 299.5h1.4v1.4h-1.4zM959.5 233h1.4v1.4h-1.4zM959.5 299.5h1.4v1.4h-1.4zM960 233h1.4v1.4h-1.4zM960 300h1.4v1.4h-1.4zM960.5 232.5h1.4v1.4h-1.4zM960.5 300h1.4v1.4h-1.4zM961 232.5h1.4v1.4h-1.4zM961 300h1.4v1.4h-1.4zM961.5 232.5h1.4v1.4h-1.4zM961.5 300.5h1.4v1.4h-1.4zM962 232.5h1.4v1.4h-1.4zM962 300.5h1.4v1.4h-1.4zM962.5 232.5h1.4v1.4h-1.4zM962.5 300.5h1.4v1.4h-1.4zM963 232h1.4v1.4h-1.4zM963 301h1.4v1.4h-1.4zM963.5 232h1.4v1.4h-1.4zM963.5 301h1.4v1.4h-1.4zM964 232h1.4v1.4h-1.4zM964 301h1.4v1.4h-1.4zM964.5 232h1.4v1.4h-1.4zM964.5 301.5h1.4v1.4h-1.4zM965 232h1.4v1.4h-1.4zM965 301.5h1.4v1.4h-1.4zM965.5 231.5h1.4v1.4h-1.4zM965.5 301.5h1.4v1.4h-1.4zM966 231.5h1.4v1.4h-1.4zM966 302h1.4v1.4h-1.4zM966.5 231.5h1.4v1.4h-1.4zM966.5 302h1.4v1.4h-1.4zM967 231.5h1.4v1.4h-1.4zM967 302h1.4v1.4h-1.4zM967.5 231.5h1.4v1.4h-1.4zM967.5 302.5h1.4v1.4h-1.4zM968 231.5h1.4v1.4h-1.4zM968 302.5h1.4v1.4h-1.4zM968.5 231h1.4v1.4h-1.4zM968.5 302.5h1.4v1.4h-1.4zM969 231h1.4v1.4h-1.4zM969 303h1.4v1.4h-1.4zM969.5 231h1.4v1.4h-1.4zM969.5 303h1.4v1.4h-1.4zM970 231h1.4v1.4h-1.4zM970 303h1.4v1.4h-1.4zM970.5 231h1.4v1.4h-1.4zM970.5 303h1.4v1.4h-1.4zM971 230.5h1.4v1.4h-1.4zM971 303.5h1.4v1.4h-1.4zM971.5 230.5h1.4v1.4h-1.4zM971.5 303.5h1.4v1.4h-1.4zM972 230.5h1.4v1.4h-1.4zM972 303.5h1.4v1.4h-1.4zM972.5 230.5h1.4v1.4h-1.4zM972.5 304h1.4v1.4h-1.4zM973 230.5h1.4v1.4h-1.4zM973 304h1.4v1.4h-1.4zM973.5 230.5h1.4v1.4h-1.4zM973.5 304h1.4v1.4h-1.4zM974 230h1.4v1.4h-1.4zM974 304.5h1.4v1.4h-1.4zM974.5 230h1.4v1.4h-1.4zM974.5 304.5h1.4v1.4h-1.4zM975 230h1.4v1.4h-1.4zM975 304.5h1.4v1.4h-1.4zM975.5 230h1.4v1.4h-1.4zM975.5 304.5h1.4v1.4h-1.4zM976 230h1.4v1.4h-1.4zM976 305h1.4v1.4h-1.4zM976.5 229.5h1.4v1.4h-1.4zM976.5 305h1.4v1.4h-1.4zM976.5 230h1.4v1.4h-1.4zM977 229.5h1.4v1.4h-1.4zM977 306h1.4v1.4h-1.4zM977 230h1.4v1.4h-1.4zM977 304h1.4v1.4h-1.4zM977.5 228.5h1.4v1.4h-1.4zM977.5 308h1.4v1.4h-1.4zM977.5 230.5h1.4v1.4h-1.4zM977.5 302.5h1.4v1.4h-1.4zM978 228h1.4v1.4h-1.4zM978 309h1.4v1.4h-1.4zM978 231h1.4v1.4h-1.4zM978 301h1.4v1.4h-1.4zM978.5 228h1.4v1.4h-1.4zM978.5 310h1.4v1.4h-1.4zM978.5 231.5h1.4v1.4h-1.4zM978.5 300.5h1.4v1.4h-1.4zM979 227.5h1.4v1.4h-1.4zM979 311h1.4v1.4h-1.4zM979 231.5h1.4v1.4h-1.4zM979 299.5h1.4v1.4h-1.4zM979.5 227h1.4v1.4h-1.4zM979.5 311.5h1.4v1.4h-1.4zM979.5 232h1.4v1.4h-1.4zM979.5 298.5h1.4v1.4h-1.4zM980 227h1.4v1.4h-1.4zM980 312h1.4v1.4h-1.4zM980 232h1.4v1.4h-1.4zM980 298h1.4v1.4h-1.4zM980.5 227h1.4v1.4h-1.4zM980.5 312.5h1.4v1.4h-1.4zM980.5 232.5h1.4v1.4h-1.4zM980.5 297.5h1.4v1.4h-1.4zM981 226.5h1.4v1.4h-1.4zM981 313h1.4v1.4h-1.4zM981 232.5h1.4v1.4h-1.4zM981 297h1.4v1.4h-1.4zM981.5 226.5h1.4v1.4h-1.4zM981.5 313.5h1.4v1.4h-1.4zM981.5 232.5h1.4v1.4h-1.4zM981.5 296.5h1.4v1.4h-1.4zM982 226h1.4v1.4h-1.4zM982 314h1.4v1.4h-1.4zM982 233h1.4v1.4h-1.4zM982 296h1.4v1.4h-1.4zM982.5 226h1.4v1.4h-1.4zM982.5 314.5h1.4v1.4h-1.4zM982.5 233h1.4v1.4h-1.4zM982.5 295.5h1.4v1.4h-1.4zM983 226h1.4v1.4h-1.4zM983 315h1.4v1.4h-1.4zM983 233h1.4v1.4h-1.4zM983 295h1.4v1.4h-1.4zM983.5 225.5h1.4v1.4h-1.4zM983.5 315h1.4v1.4h-1.4zM983.5 233.5h1.4v1.4h-1.4zM983.5 294.5h1.4v1.4h-1.4zM984 225.5h1.4v1.4h-1.4zM984 315.5h1.4v1.4h-1.4zM984 233.5h1.4v1.4h-1.4zM984 294h1.4v1.4h-1.4zM984.5 225.5h1.4v1.4h-1.4zM984.5 316h1.4v1.4h-1.4zM984.5 233.5h1.4v1.4h-1.4zM984.5 294h1.4v1.4h-1.4zM985 225.5h1.4v1.4h-1.4zM985 316h1.4v1.4h-1.4zM985 233.5h1.4v1.4h-1.4zM985 293.5h1.4v1.4h-1.4zM985.5 225h1.4v1.4h-1.4zM985.5 316.5h1.4v1.4h-1.4zM985.5 234h1.4v1.4h-1.4zM985.5 293h1.4v1.4h-1.4zM986 225h1.4v1.4h-1.4zM986 317h1.4v1.4h-1.4zM986 234h1.4v1.4h-1.4zM986 292.5h1.4v1.4h-1.4zM986.5 225h1.4v1.4h-1.4zM986.5 317h1.4v1.4h-1.4zM986.5 234h1.4v1.4h-1.4zM986.5 292.5h1.4v1.4h-1.4zM987 224.5h1.4v1.4h-1.4zM987 317.5h1.4v1.4h-1.4zM987 234h1.4v1.4h-1.4zM987 292h1.4v1.4h-1.4zM987.5 224.5h1.4v1.4h-1.4zM987.5 317.5h1.4v1.4h-1.4zM987.5 234h1.4v1.4h-1.4zM987.5 291.5h1.4v1.4h-1.4zM988 224.5h1.4v1.4h-1.4zM988 318h1.4v1.4h-1.4zM988 234.5h1.4v1.4h-1.4zM988 291.5h1.4v1.4h-1.4zM988.5 224.5h1.4v1.4h-1.4zM988.5 318.5h1.4v1.4h-1.4zM988.5 234.5h1.4v1.4h-1.4zM988.5 291h1.4v1.4h-1.4zM989 224.5h1.4v1.4h-1.4zM989 318.5h1.4v1.4h-1.4zM989 234.5h1.4v1.4h-1.4zM989 291h1.4v1.4h-1.4zM989.5 224h1.4v1.4h-1.4zM989.5 319h1.4v1.4h-1.4zM989.5 234.5h1.4v1.4h-1.4zM989.5 290.5h1.4v1.4h-1.4zM990 224h1.4v1.4h-1.4zM990 319h1.4v1.4h-1.4zM990 234.5h1.4v1.4h-1.4zM990 290h1.4v1.4h-1.4zM990.5 224h1.4v1.4h-1.4zM990.5 319.5h1.4v1.4h-1.4zM990.5 234.5h1.4v1.4h-1.4zM990.5 290h1.4v1.4h-1.4zM991 224h1.4v1.4h-1.4zM991 319.5h1.4v1.4h-1.4zM991 234.5h1.4v1.4h-1.4zM991 289.5h1.4v1.4h-1.4zM991 235h1.4v1.4h-1.4zM991.5 223.5h1.4v1.4h-1.4zM991.5 320h1.4v1.4h-1.4zM991.5 235h1.4v1.4h-1.4zM991.5 289.5h1.4v1.4h-1.4zM991.5 289h1.4v1.4h-1.4zM992 224h1.4v1.4h-1.4zM992 319.5h1.4v1.4h-1.4zM992 234.5h1.4v1.4h-1.4zM992 290.5h1.4v1.4h-1.4zM992 223.5h1.4v1.4h-1.4zM992 320.5h1.4v1.4h-1.4zM992 235.5h1.4v1.4h-1.4zM992 287.5h1.4v1.4h-1.4zM992.5 224h1.4v1.4h-1.4zM992.5 319h1.4v1.4h-1.4zM992.5 234h1.4v1.4h-1.4zM992.5 292h1.4v1.4h-1.4zM992.5 223h1.4v1.4h-1.4zM992.5 321h1.4v1.4h-1.4zM992.5 236h1.4v1.4h-1.4zM992.5 286.5h1.4v1.4h-1.4zM993 224h1.4v1.4h-1.4zM993 318.5h1.4v1.4h-1.4zM993 233.5h1.4v1.4h-1.4zM993 292.5h1.4v1.4h-1.4zM993 223h1.4v1.4h-1.4zM993 321.5h1.4v1.4h-1.4zM993 236h1.4v1.4h-1.4zM993 286h1.4v1.4h-1.4zM993 233h1.4v1.4h-1.4zM993 293.5h1.4v1.4h-1.4zM993 322h1.4v1.4h-1.4zM993 236.5h1.4v1.4h-1.4zM993 285h1.4v1.4h-1.4zM993.5 224h1.4v1.4h-1.4zM993.5 318h1.4v1.4h-1.4zM993.5 233h1.4v1.4h-1.4zM993.5 294h1.4v1.4h-1.4zM993.5 223h1.4v1.4h-1.4zM993.5 322.5h1.4v1.4h-1.4zM993.5 236.5h1.4v1.4h-1.4zM993.5 284.5h1.4v1.4h-1.4zM994 224h1.4v1.4h-1.4zM994 318h1.4v1.4h-1.4zM994 232.5h1.4v1.4h-1.4zM994 294.5h1.4v1.4h-1.4zM994 222.5h1.4v1.4h-1.4zM994 322.5h1.4v1.4h-1.4zM994 236.5h1.4v1.4h-1.4zM994 284h1.4v1.4h-1.4zM994.5 224.5h1.4v1.4h-1.4zM994.5 318h1.4v1.4h-1.4zM994.5 232.5h1.4v1.4h-1.4zM994.5 295h1.4v1.4h-1.4zM994.5 222.5h1.4v1.4h-1.4zM994.5 323h1.4v1.4h-1.4zM994.5 237h1.4v1.4h-1.4zM994.5 284h1.4v1.4h-1.4zM995 224.5h1.4v1.4h-1.4zM995 318h1.4v1.4h-1.4zM995 232.5h1.4v1.4h-1.4zM995 295.5h1.4v1.4h-1.4zM995 222.5h1.4v1.4h-1.4zM995 323h1.4v1.4h-1.4zM995 237h1.4v1.4h-1.4zM995 283.5h1.4v1.4h-1.4zM995 224h1.4v1.4h-1.4zM995 318.5h1.4v1.4h-1.4zM995 294h1.4v1.4h-1.4zM995 323.5h1.4v1.4h-1.4zM995 237.5h1.4v1.4h-1.4zM995 282.5h1.4v1.4h-1.4zM995 317h1.4v1.4h-1.4zM995 231.5h1.4v1.4h-1.4zM995 297h1.4v1.4h-1.4zM995 284h1.4v1.4h-1.4zM995.5 224h1.4v1.4h-1.4zM995.5 319h1.4v1.4h-1.4zM995.5 233h1.4v1.4h-1.4zM995.5 293h1.4v1.4h-1.4zM995.5 222.5h1.4v1.4h-1.4zM995.5 323.5h1.4v1.4h-1.4zM995.5 237.5h1.4v1.4h-1.4zM995.5 282h1.4v1.4h-1.4zM995.5 224.5h1.4v1.4h-1.4zM995.5 317h1.4v1.4h-1.4zM995.5 231.5h1.4v1.4h-1.4zM995.5 297.5h1.4v1.4h-1.4zM995.5 323h1.4v1.4h-1.4zM995.5 236.5h1.4v1.4h-1.4zM995.5 284h1.4v1.4h-1.4zM996 224h1.4v1.4h-1.4zM996 319h1.4v1.4h-1.4zM996 233h1.4v1.4h-1.4zM996 293h1.4v1.4h-1.4zM996 222h1.4v1.4h-1.4zM996 324h1.4v1.4h-1.4zM996 237.5h1.4v1.4h-1.4zM996 281.5h1.4v1.4h-1.4zM996 224.5h1.4v1.4h-1.4zM996 316.5h1.4v1.4h-1.4zM996 231h1.4v1.4h-1.4zM996 298.5h1.4v1.4h-1.4zM996 222.5h1.4v1.4h-1.4zM996 322.5h1.4v1.4h-1.4zM996 236.5h1.4v1.4h-1.4zM996 284.5h1.4v1.4h-1.4zM996 223.5h1.4v1.4h-1.4zM996 320h1.4v1.4h-1.4zM996 233.5h1.4v1.4h-1.4zM996 291.5h1.4v1.4h-1.4zM996 282h1.4v1.4h-1.4zM996 317h1.4v1.4h-1.4zM996 231.5h1.4v1.4h-1.4zM996 297.5h1.4v1.4h-1.4zM996 323.5h1.4v1.4h-1.4zM996 237h1.4v1.4h-1.4zM996 283h1.4v1.4h-1.4zM996 318.5h1.4v1.4h-1.4zM996.5 225h1.4v1.4h-1.4zM996.5 316h1.4v1.4h-1.4zM996.5 230.5h1.4v1.4h-1.4zM996.5 299.5h1.4v1.4h-1.4zM996.5 222.5h1.4v1.4h-1.4zM996.5 322.5h1.4v1.4h-1.4zM996.5 236h1.4v1.4h-1.4zM996.5 285.5h1.4v1.4h-1.4zM996.5 223h1.4v1.4h-1.4zM996.5 321h1.4v1.4h-1.4zM996.5 234.5h1.4v1.4h-1.4zM996.5 289.5h1.4v1.4h-1.4zM996.5 323.5h1.4v1.4h-1.4zM996.5 237h1.4v1.4h-1.4zM996.5 283.5h1.4v1.4h-1.4zM996.5 224h1.4v1.4h-1.4zM996.5 319h1.4v1.4h-1.4zM996.5 232.5h1.4v1.4h-1.4zM996.5 294h1.4v1.4h-1.4zM996.5 222h1.4v1.4h-1.4zM996.5 324.5h1.4v1.4h-1.4zM996.5 238h1.4v1.4h-1.4zM996.5 281h1.4v1.4h-1.4zM996.5 300h1.4v1.4h-1.4zM996.5 286h1.4v1.4h-1.4zM997 222.5h1.4v1.4h-1.4zM997 322.5h1.4v1.4h-1.4zM997 236h1.4v1.4h-1.4zM997 285h1.4v1.4h-1.4zM997 223h1.4v1.4h-1.4zM997 321h1.4v1.4h-1.4zM997 234.5h1.4v1.4h-1.4zM997 289.5h1.4v1.4h-1.4zM997 323.5h1.4v1.4h-1.4zM997 237h1.4v1.4h-1.4zM997 282.5h1.4v1.4h-1.4zM997 224h1.4v1.4h-1.4zM997 318.5h1.4v1.4h-1.4zM997 232.5h1.4v1.4h-1.4zM997 295h1.4v1.4h-1.4zM997 222h1.4v1.4h-1.4zM997 324.5h1.4v1.4h-1.4zM997 238h1.4v1.4h-1.4zM997 280.5h1.4v1.4h-1.4zM997 225h1.4v1.4h-1.4zM997 316h1.4v1.4h-1.4zM997 230h1.4v1.4h-1.4zM997 300.5h1.4v1.4h-1.4zM997 322h1.4v1.4h-1.4zM997 235.5h1.4v1.4h-1.4zM997 286.5h1.4v1.4h-1.4zM997 287h1.4v1.4h-1.4zM997 288.5h1.4v1.4h-1.4zM997 283h1.4v1.4h-1.4zM997 319h1.4v1.4h-1.4zM997 294h1.4v1.4h-1.4zM997 325h1.4v1.4h-1.4zM997 238.5h1.4v1.4h-1.4zM997 279.5h1.4v1.4h-1.4zM997 315h1.4v1.4h-1.4zM997 229.5h1.4v1.4h-1.4zM997 302.5h1.4v1.4h-1.4zM997 324h1.4v1.4h-1.4zM997.5 222h1.4v1.4h-1.4zM997.5 325h1.4v1.4h-1.4zM997.5 238.5h1.4v1.4h-1.4zM997.5 279.5h1.4v1.4h-1.4zM997.5 225h1.4v1.4h-1.4zM997.5 314.5h1.4v1.4h-1.4zM997.5 229h1.4v1.4h-1.4zM997.5 303h1.4v1.4h-1.4zM997.5 223.5h1.4v1.4h-1.4zM997.5 320.5h1.4v1.4h-1.4zM997.5 234h1.4v1.4h-1.4zM997.5 290.5h1.4v1.4h-1.4zM997.5 324.5h1.4v1.4h-1.4zM997.5 238h1.4v1.4h-1.4zM997.5 280.5h1.4v1.4h-1.4zM997.5 224.5h1.4v1.4h-1.4zM997.5 316h1.4v1.4h-1.4zM997.5 230h1.4v1.4h-1.4zM997.5 300.5h1.4v1.4h-1.4zM997.5 222.5h1.4v1.4h-1.4zM997.5 323h1.4v1.4h-1.4zM997.5 236h1.4v1.4h-1.4zM997.5 285h1.4v1.4h-1.4zM997.5 223h1.4v1.4h-1.4zM997.5 321.5h1.4v1.4h-1.4zM997.5 235h1.4v1.4h-1.4zM997.5 288.5h1.4v1.4h-1.4zM997.5 324h1.4v1.4h-1.4zM997.5 237h1.4v1.4h-1.4zM997.5 282.5h1.4v1.4h-1.4zM997.5 224h1.4v1.4h-1.4zM997.5 319h1.4v1.4h-1.4zM998 221.5h1.4v1.4h-1.4zM998 325.5h1.4v1.4h-1.4zM998 238.5h1.4v1.4h-1.4zM998 279h1.4v1.4h-1.4zM998 225.5h1.4v1.4h-1.4zM998 314h1.4v1.4h-1.4zM998 228.5h1.4v1.4h-1.4zM998 304.5h1.4v1.4h-1.4zM998 223.5h1.4v1.4h-1.4zM998 319.5h1.4v1.4h-1.4zM998 233h1.4v1.4h-1.4zM998 293h1.4v1.4h-1.4zM998 239h1.4v1.4h-1.4zM998 278.5h1.4v1.4h-1.4zM998 313.5h1.4v1.4h-1.4zM998 305.5h1.4v1.4h-1.4zM998 224h1.4v1.4h-1.4zM998 318.5h1.4v1.4h-1.4zM998 232h1.4v1.4h-1.4zM998 295.5h1.4v1.4h-1.4zM998 314.5h1.4v1.4h-1.4zM998 229h1.4v1.4h-1.4zM998.5 221.5h1.4v1.4h-1.4zM998.5 325h1.4v1.4h-1.4zM998.5 238.5h1.4v1.4h-1.4zM998.5 279.5h1.4v1.4h-1.4zM998.5 225h1.4v1.4h-1.4zM998.5 315.5h1.4v1.4h-1.4zM998.5 229.5h1.4v1.4h-1.4zM998.5 302.5h1.4v1.4h-1.4zM998.5 223h1.4v1.4h-1.4zM998.5 322h1.4v1.4h-1.4zM998.5 235h1.4v1.4h-1.4zM998.5 288h1.4v1.4h-1.4zM998.5 222h1.4v1.4h-1.4zM998.5 324h1.4v1.4h-1.4zM998.5 237h1.4v1.4h-1.4zM998.5 282h1.4v1.4h-1.4zM998.5 223.5h1.4v1.4h-1.4zM998.5 319h1.4v1.4h-1.4zM998.5 232.5h1.4v1.4h-1.4zM998.5 294.5h1.4v1.4h-1.4zM998.5 326h1.4v1.4h-1.4zM998.5 239h1.4v1.4h-1.4zM998.5 278h1.4v1.4h-1.4zM998.5 225.5h1.4v1.4h-1.4zM998.5 313h1.4v1.4h-1.4zM998.5 228h1.4v1.4h-1.4zM998.5 306.5h1.4v1.4h-1.4zM998.5 224.5h1.4v1.4h-1.4zM998.5 317h1.4v1.4h-1.4zM998.5 231h1.4v1.4h-1.4zM998.5 298.5h1.4v1.4h-1.4zM998.5 324.5h1.4v1.4h-1.4zM999 222h1.4v1.4h-1.4zM999 324.5h1.4v1.4h-1.4zM999 237.5h1.4v1.4h-1.4zM999 282h1.4v1.4h-1.4zM999 224h1.4v1.4h-1.4zM999 319h1.4v1.4h-1.4zM999 232h1.4v1.4h-1.4zM999 295h1.4v1.4h-1.4zM999 221.5h1.4v1.4h-1.4zM999 326h1.4v1.4h-1.4zM999 239h1.4v1.4h-1.4zM999 277.5h1.4v1.4h-1.4zM999 226h1.4v1.4h-1.4zM999 312.5h1.4v1.4h-1.4zM999 227.5h1.4v1.4h-1.4zM999 308h1.4v1.4h-1.4zM999 225h1.4v1.4h-1.4zM999 315.5h1.4v1.4h-1.4zM999 229.5h1.4v1.4h-1.4zM999 302h1.4v1.4h-1.4zM999 222.5h1.4v1.4h-1.4zM999 322.5h1.4v1.4h-1.4zM999 235.5h1.4v1.4h-1.4zM999 286h1.4v1.4h-1.4zM999 323h1.4v1.4h-1.4zM999 236h1.4v1.4h-1.4zM999 284.5h1.4v1.4h-1.4zM999 223h1.4v1.4h-1.4zM999 322h1.4v1.4h-1.4zM999 235h1.4v1.4h-1.4zM999 288h1.4v1.4h-1.4zM999 318h1.4v1.4h-1.4zM999 231.5h1.4v1.4h-1.4zM999 297h1.4v1.4h-1.4zM999 278h1.4v1.4h-1.4zM999 225.5h1.4v1.4h-1.4zM999 314h1.4v1.4h-1.4zM999 228.5h1.4v1.4h-1.4zM999 305.5h1.4v1.4h-1.4zM999 223.5h1.4v1.4h-1.4zM999 326.5h1.4v1.4h-1.4zM999 239.5h1.4v1.4h-1.4zM999 277h1.4v1.4h-1.4zM999 312h1.4v1.4h-1.4zM999 227h1.4v1.4h-1.4zM999 309.5h1.4v1.4h-1.4zM999 313.5h1.4v1.4h-1.4zM999 228h1.4v1.4h-1.4zM999 307h1.4v1.4h-1.4zM999 317.5h1.4v1.4h-1.4zM999 231h1.4v1.4h-1.4zM999 298.5h1.4v1.4h-1.4zM999 325h1.4v1.4h-1.4zM999.5 228.5h1.4v1.4h-1.4zM999.5 304.5h1.4v1.4h-1.4zM999.5 223h1.4v1.4h-1.4zM999.5 320.5h1.4v1.4h-1.4zM999.5 233.5h1.4v1.4h-1.4zM999.5 291h1.4v1.4h-1.4zM999.5 221.5h1.4v1.4h-1.4zM999.5 326.5h1.4v1.4h-1.4zM999.5 239.5h1.4v1.4h-1.4zM999.5 277h1.4v1.4h-1.4zM999.5 226h1.4v1.4h-1.4zM999.5 312h1.4v1.4h-1.4zM999.5 227h1.4v1.4h-1.4zM999.5 309h1.4v1.4h-1.4zM999.5 225h1.4v1.4h-1.4zM999.5 314.5h1.4v1.4h-1.4zM999.5 305h1.4v1.4h-1.4zM999.5 223.5h1.4v1.4h-1.4zM999.5 320h1.4v1.4h-1.4zM999.5 233h1.4v1.4h-1.4zM999.5 293h1.4v1.4h-1.4zM999.5 221h1.4v1.4h-1.4zM999.5 276h1.4v1.4h-1.4zM999.5 226.5h1.4v1.4h-1.4zM999.5 310.5h1.4v1.4h-1.4zM999.5 311.5h1.4v1.4h-1.4zM999.5 310h1.4v1.4h-1.4zM999.5 225.5h1.4v1.4h-1.4zM999.5 313h1.4v1.4h-1.4zM1000 228.5h1.4v1.4h-1.4zM1000 304.5h1.4v1.4h-1.4zM1000 223h1.4v1.4h-1.4zM1000 321h1.4v1.4h-1.4zM1000 233.5h1.4v1.4h-1.4zM1000 291h1.4v1.4h-1.4zM1000 221h1.4v1.4h-1.4zM1000 326.5h1.4v1.4h-1.4zM1000 239.5h1.4v1.4h-1.4zM1000 276.5h1.4v1.4h-1.4zM1000 226h1.4v1.4h-1.4zM1000 311.5h1.4v1.4h-1.4zM1000 226.5h1.4v1.4h-1.4zM1000 310.5h1.4v1.4h-1.4zM1000 312h1.4v1.4h-1.4zM1000 310h1.4v1.4h-1.4zM1000 225.5h1.4v1.4h-1.4zM1000 313.5h1.4v1.4h-1.4zM1000 227.5h1.4v1.4h-1.4zM1000 307h1.4v1.4h-1.4zM1000 224h1.4v1.4h-1.4zM1000 317.5h1.4v1.4h-1.4zM1000 231h1.4v1.4h-1.4zM1000 298h1.4v1.4h-1.4zM1000 221.5h1.4v1.4h-1.4zM1000 326h1.4v1.4h-1.4zM1000 239h1.4v1.4h-1.4zM1000 278h1.4v1.4h-1.4zM1000 225h1.4v1.4h-1.4zM1000 314.5h1.4v1.4h-1.4zM1000 305h1.4v1.4h-1.4zM1000.5 232.5h1.4v1.4h-1.4zM1000.5 293h1.4v1.4h-1.4zM1000.5 221h1.4v1.4h-1.4zM1000.5 327.5h1.4v1.4h-1.4zM1000.5 240.5h1.4v1.4h-1.4zM1000.5 274.5h1.4v1.4h-1.4zM1000.5 227h1.4v1.4h-1.4zM1000.5 308.5h1.4v1.4h-1.4zM1000.5 225h1.4v1.4h-1.4zM1000.5 315.5h1.4v1.4h-1.4zM1000.5 229h1.4v1.4h-1.4zM1000.5 303.5h1.4v1.4h-1.4zM1000.5 222.5h1.4v1.4h-1.4zM1000.5 322.5h1.4v1.4h-1.4zM1000.5 235h1.4v1.4h-1.4zM1000.5 287h1.4v1.4h-1.4zM1000.5 221.5h1.4v1.4h-1.4zM1000.5 325h1.4v1.4h-1.4zM1000.5 238h1.4v1.4h-1.4zM1000.5 280.5h1.4v1.4h-1.4zM1000.5 224h1.4v1.4h-1.4zM1000.5 318h1.4v1.4h-1.4zM1000.5 231h1.4v1.4h-1.4zM1000.5 297.5h1.4v1.4h-1.4zM1000.5 326.5h1.4v1.4h-1.4zM1000.5 239.5h1.4v1.4h-1.4zM1000.5 276.5h1.4v1.4h-1.4zM1000.5 226h1.4v1.4h-1.4zM1000.5 312.5h1.4v1.4h-1.4zM1000.5 309.5h1.4v1.4h-1.4zM1000.5 314.5h1.4v1.4h-1.4zM1001 223.5h1.4v1.4h-1.4zM1001 318.5h1.4v1.4h-1.4zM1001 231.5h1.4v1.4h-1.4zM1001 296.5h1.4v1.4h-1.4zM1001 221h1.4v1.4h-1.4zM1001 327.5h1.4v1.4h-1.4zM1001 240h1.4v1.4h-1.4zM1001 275h1.4v1.4h-1.4zM1001 227h1.4v1.4h-1.4zM1001 309.5h1.4v1.4h-1.4zM1001 225h1.4v1.4h-1.4zM1001 314.5h1.4v1.4h-1.4zM1001 228h1.4v1.4h-1.4zM1001 305.5h1.4v1.4h-1.4zM1001 320h1.4v1.4h-1.4zM1001 232.5h1.4v1.4h-1.4zM1001 293.5h1.4v1.4h-1.4zM1001 240.5h1.4v1.4h-1.4zM1001 274h1.4v1.4h-1.4zM1001 227.5h1.4v1.4h-1.4zM1001 307.5h1.4v1.4h-1.4zM1001 224h1.4v1.4h-1.4zM1001 317.5h1.4v1.4h-1.4zM1001 230.5h1.4v1.4h-1.4zM1001 299.5h1.4v1.4h-1.4zM1001 221.5h1.4v1.4h-1.4zM1001 326h1.4v1.4h-1.4zM1001 238.5h1.4v1.4h-1.4zM1001 278.5h1.4v1.4h-1.4zM1001 224.5h1.4v1.4h-1.4zM1001 315.5h1.4v1.4h-1.4zM1001 223h1.4v1.4h-1.4zM1001 220.5h1.4v1.4h-1.4zM1001 328h1.4v1.4h-1.4zM1001 241h1.4v1.4h-1.4zM1001 273.5h1.4v1.4h-1.4zM1001 306.5h1.4v1.4h-1.4zM1001 319h1.4v1.4h-1.4zM1001 232h1.4v1.4h-1.4zM1001 295.5h1.4v1.4h-1.4zM1001 318h1.4v1.4h-1.4zM1001 298.5h1.4v1.4h-1.4zM1001 326.5h1.4v1.4h-1.4zM1001 239h1.4v1.4h-1.4zM1001 277h1.4v1.4h-1.4zM1001 225.5h1.4v1.4h-1.4zM1001 313h1.4v1.4h-1.4zM1001 308h1.4v1.4h-1.4zM1001 317h1.4v1.4h-1.4zM1001.5 232.5h1.4v1.4h-1.4zM1001.5 293.5h1.4v1.4h-1.4zM1001.5 220.5h1.4v1.4h-1.4zM1001.5 328.5h1.4v1.4h-1.4zM1001.5 241h1.4v1.4h-1.4zM1001.5 272.5h1.4v1.4h-1.4zM1001.5 228h1.4v1.4h-1.4zM1001.5 305.5h1.4v1.4h-1.4zM1001.5 223h1.4v1.4h-1.4zM1001.5 321h1.4v1.4h-1.4zM1001.5 233.5h1.4v1.4h-1.4zM1001.5 291.5h1.4v1.4h-1.4zM1001.5 328h1.4v1.4h-1.4zM1001.5 273.5h1.4v1.4h-1.4zM1001.5 227.5h1.4v1.4h-1.4zM1001.5 307h1.4v1.4h-1.4zM1001.5 223.5h1.4v1.4h-1.4zM1001.5 319h1.4v1.4h-1.4zM1001.5 231.5h1.4v1.4h-1.4zM1001.5 296h1.4v1.4h-1.4zM1001.5 240.5h1.4v1.4h-1.4zM1002 227h1.4v1.4h-1.4zM1002 308.5h1.4v1.4h-1.4zM1002 224.5h1.4v1.4h-1.4zM1002 316.5h1.4v1.4h-1.4zM1002 229.5h1.4v1.4h-1.4zM1002 302h1.4v1.4h-1.4zM1002 221.5h1.4v1.4h-1.4zM1002 325h1.4v1.4h-1.4zM1002 237.5h1.4v1.4h-1.4zM1002 281.5h1.4v1.4h-1.4zM1002 223h1.4v1.4h-1.4zM1002 320.5h1.4v1.4h-1.4zM1002 233h1.4v1.4h-1.4zM1002 292.5h1.4v1.4h-1.4zM1002 220.5h1.4v1.4h-1.4zM1002 328.5h1.4v1.4h-1.4zM1002 241.5h1.4v1.4h-1.4zM1002 272h1.4v1.4h-1.4zM1002 228.5h1.4v1.4h-1.4zM1002 304.5h1.4v1.4h-1.4zM1002 222.5h1.4v1.4h-1.4zM1002 322.5h1.4v1.4h-1.4zM1002 234.5h1.4v1.4h-1.4zM1002 288h1.4v1.4h-1.4zM1002 221h1.4v1.4h-1.4zM1002 327h1.4v1.4h-1.4zM1002 239.5h1.4v1.4h-1.4zM1002 276h1.4v1.4h-1.4zM1002 225.5h1.4v1.4h-1.4zM1002 312.5h1.4v1.4h-1.4zM1002 226.5h1.4v1.4h-1.4zM1002 310h1.4v1.4h-1.4zM1002 225h1.4v1.4h-1.4zM1002 314.5h1.4v1.4h-1.4zM1002.5 222.5h1.4v1.4h-1.4zM1002.5 323h1.4v1.4h-1.4zM1002.5 235h1.4v1.4h-1.4zM1002.5 287h1.4v1.4h-1.4zM1002.5 221h1.4v1.4h-1.4zM1002.5 326.5h1.4v1.4h-1.4zM1002.5 239h1.4v1.4h-1.4zM1002.5 277.5h1.4v1.4h-1.4zM1002.5 225h1.4v1.4h-1.4zM1002.5 315h1.4v1.4h-1.4zM1002.5 228h1.4v1.4h-1.4zM1002.5 305.5h1.4v1.4h-1.4zM1002.5 223h1.4v1.4h-1.4zM1002.5 321.5h1.4v1.4h-1.4zM1002.5 233.5h1.4v1.4h-1.4zM1002.5 291h1.4v1.4h-1.4zM1002.5 220.5h1.4v1.4h-1.4zM1002.5 328.5h1.4v1.4h-1.4zM1002.5 241h1.4v1.4h-1.4zM1002.5 272h1.4v1.4h-1.4zM1002.5 228.5h1.4v1.4h-1.4zM1002.5 305h1.4v1.4h-1.4zM1002.5 322h1.4v1.4h-1.4zM1002.5 234h1.4v1.4h-1.4zM1002.5 289.5h1.4v1.4h-1.4zM1002.5 328h1.4v1.4h-1.4zM1002.5 240.5h1.4v1.4h-1.4zM1002.5 274h1.4v1.4h-1.4zM1002.5 227h1.4v1.4h-1.4zM1002.5 308.5h1.4v1.4h-1.4zM1002.5 224h1.4v1.4h-1.4zM1002.5 317h1.4v1.4h-1.4zM1003 241.5h1.4v1.4h-1.4zM1003 271h1.4v1.4h-1.4zM1003 229h1.4v1.4h-1.4zM1003 302.5h1.4v1.4h-1.4zM1003 221.5h1.4v1.4h-1.4zM1003 325h1.4v1.4h-1.4zM1003 237h1.4v1.4h-1.4zM1003 282h1.4v1.4h-1.4zM1003 222.5h1.4v1.4h-1.4zM1003 322h1.4v1.4h-1.4zM1003 234h1.4v1.4h-1.4zM1003 289.5h1.4v1.4h-1.4zM1003 220.5h1.4v1.4h-1.4zM1003 328h1.4v1.4h-1.4zM1003 240.5h1.4v1.4h-1.4zM1003 273h1.4v1.4h-1.4zM1003 227.5h1.4v1.4h-1.4zM1003 307.5h1.4v1.4h-1.4zM1003 223.5h1.4v1.4h-1.4zM1003 319h1.4v1.4h-1.4zM1003 231h1.4v1.4h-1.4zM1003 297h1.4v1.4h-1.4zM1003 328.5h1.4v1.4h-1.4zM1003 241h1.4v1.4h-1.4zM1003 272h1.4v1.4h-1.4zM1003 228.5h1.4v1.4h-1.4zM1003 305h1.4v1.4h-1.4zM1003 322.5h1.4v1.4h-1.4zM1003 234.5h1.4v1.4h-1.4zM1003 288.5h1.4v1.4h-1.4zM1003 230h1.4v1.4h-1.4zM1003 301h1.4v1.4h-1.4zM1003 221h1.4v1.4h-1.4zM1003 327h1.4v1.4h-1.4zM1003 239h1.4v1.4h-1.4zM1003 277h1.4v1.4h-1.4zM1003 225h1.4v1.4h-1.4zM1003 315h1.4v1.4h-1.4zM1003 228h1.4v1.4h-1.4zM1003 306h1.4v1.4h-1.4zM1003 321.5h1.4v1.4h-1.4zM1003 233.5h1.4v1.4h-1.4zM1003 291h1.4v1.4h-1.4zM1003 329h1.4v1.4h-1.4zM1003 281.5h1.4v1.4h-1.4zM1003.5 223h1.4v1.4h-1.4zM1003.5 320.5h1.4v1.4h-1.4zM1003.5 232.5h1.4v1.4h-1.4zM1003.5 293.5h1.4v1.4h-1.4zM1003.5 220h1.4v1.4h-1.4zM1003.5 330h1.4v1.4h-1.4zM1003.5 242.5h1.4v1.4h-1.4zM1003.5 269h1.4v1.4h-1.4zM1003.5 230.5h1.4v1.4h-1.4zM1003.5 298.5h1.4v1.4h-1.4zM1003.5 220.5h1.4v1.4h-1.4zM1003.5 328.5h1.4v1.4h-1.4zM1003.5 241h1.4v1.4h-1.4zM1003.5 272.5h1.4v1.4h-1.4zM1003.5 227.5h1.4v1.4h-1.4zM1003.5 307h1.4v1.4h-1.4zM1004 229.5h1.4v1.4h-1.4zM1004 301.5h1.4v1.4h-1.4zM1004 221h1.4v1.4h-1.4zM1004 327h1.4v1.4h-1.4zM1004 239h1.4v1.4h-1.4zM1004 277h1.4v1.4h-1.4zM1004 224.5h1.4v1.4h-1.4zM1004 315.5h1.4v1.4h-1.4zM1004 228h1.4v1.4h-1.4zM1004 306h1.4v1.4h-1.4zM1004 222.5h1.4v1.4h-1.4zM1004 322h1.4v1.4h-1.4zM1004 234h1.4v1.4h-1.4zM1004 289.5h1.4v1.4h-1.4zM1004 220h1.4v1.4h-1.4zM1004 329.5h1.4v1.4h-1.4zM1004 241.5h1.4v1.4h-1.4zM1004 270.5h1.4v1.4h-1.4zM1004 229h1.4v1.4h-1.4zM1004 303h1.4v1.4h-1.4zM1004 221.5h1.4v1.4h-1.4zM1004 325.5h1.4v1.4h-1.4zM1004 237h1.4v1.4h-1.4zM1004 281h1.4v1.4h-1.4zM1004 321.5h1.4v1.4h-1.4zM1004 233.5h1.4v1.4h-1.4zM1004 291h1.4v1.4h-1.4zM1004 330h1.4v1.4h-1.4zM1004 242.5h1.4v1.4h-1.4zM1004 269h1.4v1.4h-1.4zM1004 230h1.4v1.4h-1.4zM1004 299.5h1.4v1.4h-1.4zM1004.5 224h1.4v1.4h-1.4zM1004.5 317h1.4v1.4h-1.4zM1004.5 229h1.4v1.4h-1.4zM1004.5 302.5h1.4v1.4h-1.4zM1004.5 221h1.4v1.4h-1.4zM1004.5 326h1.4v1.4h-1.4zM1004.5 238h1.4v1.4h-1.4zM1004.5 279.5h1.4v1.4h-1.4zM1004.5 223.5h1.4v1.4h-1.4zM1004.5 319.5h1.4v1.4h-1.4zM1004.5 231.5h1.4v1.4h-1.4zM1004.5 296h1.4v1.4h-1.4zM1004.5 220h1.4v1.4h-1.4zM1004.5 330h1.4v1.4h-1.4zM1004.5 242.5h1.4v1.4h-1.4zM1004.5 268.5h1.4v1.4h-1.4zM1004.5 231h1.4v1.4h-1.4zM1004.5 297.5h1.4v1.4h-1.4zM1004.5 329.5h1.4v1.4h-1.4zM1004.5 242h1.4v1.4h-1.4zM1004.5 270h1.4v1.4h-1.4zM1004.5 229.5h1.4v1.4h-1.4zM1004.5 301.5h1.4v1.4h-1.4zM1004.5 327.5h1.4v1.4h-1.4zM1004.5 239h1.4v1.4h-1.4zM1004.5 276.5h1.4v1.4h-1.4zM1004.5 225h1.4v1.4h-1.4zM1004.5 314.5h1.4v1.4h-1.4zM1004.5 227h1.4v1.4h-1.4zM1004.5 308h1.4v1.4h-1.4zM1005 219.5h1.4v1.4h-1.4zM1005 331h1.4v1.4h-1.4zM1005 243.5h1.4v1.4h-1.4zM1005 266.5h1.4v1.4h-1.4zM1005 232h1.4v1.4h-1.4zM1005 294h1.4v1.4h-1.4zM1005 266h1.4v1.4h-1.4zM1005 232.5h1.4v1.4h-1.4zM1005 292.5h1.4v1.4h-1.4zM1005.5 219.5h1.4v1.4h-1.4zM1005.5 331.5h1.4v1.4h-1.4zM1005.5 244h1.4v1.4h-1.4zM1005.5 265.5h1.4v1.4h-1.4zM1005.5 233.5h1.4v1.4h-1.4zM1005.5 291h1.4v1.4h-1.4zM1005.5 331h1.4v1.4h-1.4zM1005.5 243.5h1.4v1.4h-1.4zM1005.5 266.5h1.4v1.4h-1.4zM1005.5 232h1.4v1.4h-1.4zM1005.5 293.5h1.4v1.4h-1.4zM1005.5 265h1.4v1.4h-1.4zM1005.5 290.5h1.4v1.4h-1.4zM1005.5 243h1.4v1.4h-1.4zM1005.5 267h1.4v1.4h-1.4zM1005.5 294.5h1.4v1.4h-1.4zM1006 244h1.4v1.4h-1.4zM1006 264.5h1.4v1.4h-1.4zM1006 234h1.4v1.4h-1.4zM1006 289.5h1.4v1.4h-1.4zM1006 219.5h1.4v1.4h-1.4zM1006 331h1.4v1.4h-1.4zM1006 243h1.4v1.4h-1.4zM1006 267h1.4v1.4h-1.4zM1006 231.5h1.4v1.4h-1.4zM1006 295.5h1.4v1.4h-1.4zM1006 331.5h1.4v1.4h-1.4zM1006 265h1.4v1.4h-1.4zM1006 233.5h1.4v1.4h-1.4zM1006 290h1.4v1.4h-1.4zM1006 243.5h1.4v1.4h-1.4zM1006 266.5h1.4v1.4h-1.4zM1006 232h1.4v1.4h-1.4zM1006 294h1.4v1.4h-1.4zM1006 332h1.4v1.4h-1.4zM1006 244.5h1.4v1.4h-1.4zM1006 288.5h1.4v1.4h-1.4zM1006 220h1.4v1.4h-1.4zM1006 330.5h1.4v1.4h-1.4zM1006 242.5h1.4v1.4h-1.4zM1006 268.5h1.4v1.4h-1.4zM1006 230h1.4v1.4h-1.4zM1006 299h1.4v1.4h-1.4zM1006.5 243h1.4v1.4h-1.4zM1006.5 267.5h1.4v1.4h-1.4zM1006.5 231h1.4v1.4h-1.4zM1006.5 297.5h1.4v1.4h-1.4zM1006.5 219.5h1.4v1.4h-1.4zM1006.5 331.5h1.4v1.4h-1.4zM1006.5 244h1.4v1.4h-1.4zM1006.5 265.5h1.4v1.4h-1.4zM1006.5 233h1.4v1.4h-1.4zM1006.5 292h1.4v1.4h-1.4zM1006.5 332h1.4v1.4h-1.4zM1006.5 244.5h1.4v1.4h-1.4zM1006.5 264h1.4v1.4h-1.4zM1006.5 234.5h1.4v1.4h-1.4zM1006.5 288h1.4v1.4h-1.4zM1006.5 220h1.4v1.4h-1.4zM1006.5 330.5h1.4v1.4h-1.4zM1006.5 242.5h1.4v1.4h-1.4zM1006.5 269h1.4v1.4h-1.4zM1006.5 230h1.4v1.4h-1.4zM1006.5 300h1.4v1.4h-1.4zM1006.5 330h1.4v1.4h-1.4zM1006.5 242h1.4v1.4h-1.4zM1006.5 269.5h1.4v1.4h-1.4zM1006.5 229.5h1.4v1.4h-1.4zM1006.5 301.5h1.4v1.4h-1.4zM1006.5 220.5h1.4v1.4h-1.4zM1006.5 329h1.4v1.4h-1.4zM1006.5 240.5h1.4v1.4h-1.4zM1006.5 273h1.4v1.4h-1.4zM1006.5 226.5h1.4v1.4h-1.4zM1006.5 309h1.4v1.4h-1.4zM1007 232h1.4v1.4h-1.4zM1007 294h1.4v1.4h-1.4zM1007 219h1.4v1.4h-1.4zM1007 332.5h1.4v1.4h-1.4zM1007 245h1.4v1.4h-1.4zM1007 262.5h1.4v1.4h-1.4zM1007 235.5h1.4v1.4h-1.4zM1007 284.5h1.4v1.4h-1.4zM1007 220.5h1.4v1.4h-1.4zM1007 328h1.4v1.4h-1.4zM1007 239.5h1.4v1.4h-1.4zM1007 275.5h1.4v1.4h-1.4zM1007 225h1.4v1.4h-1.4zM1007 314.5h1.4v1.4h-1.4zM1007 226.5h1.4v1.4h-1.4zM1007 309h1.4v1.4h-1.4zM1007 223h1.4v1.4h-1.4zM1007 319.5h1.4v1.4h-1.4zM1007 230.5h1.4v1.4h-1.4zM1007 297.5h1.4v1.4h-1.4zM1007 219.5h1.4v1.4h-1.4zM1007 331.5h1.4v1.4h-1.4zM1007 244h1.4v1.4h-1.4zM1007 265.5h1.4v1.4h-1.4zM1007 233h1.4v1.4h-1.4zM1007 291.5h1.4v1.4h-1.4zM1007 332h1.4v1.4h-1.4zM1007 244.5h1.4v1.4h-1.4zM1007 263.5h1.4v1.4h-1.4zM1007 234.5h1.4v1.4h-1.4zM1007 287h1.4v1.4h-1.4zM1007 220h1.4v1.4h-1.4zM1007 330h1.4v1.4h-1.4zM1007 330.5h1.4v1.4h-1.4zM1007 242.5h1.4v1.4h-1.4zM1007 268.5h1.4v1.4h-1.4zM1007 230h1.4v1.4h-1.4zM1007 300h1.4v1.4h-1.4zM1007 299.5h1.4v1.4h-1.4zM1007 331h1.4v1.4h-1.4zM1007 243h1.4v1.4h-1.4zM1007 267.5h1.4v1.4h-1.4zM1007 231h1.4v1.4h-1.4zM1007 297h1.4v1.4h-1.4zM1007 264h1.4v1.4h-1.4zM1007 288h1.4v1.4h-1.4zM1007.5 233h1.4v1.4h-1.4zM1007.5 291h1.4v1.4h-1.4zM1007.5 219h1.4v1.4h-1.4zM1007.5 333h1.4v1.4h-1.4zM1007.5 245.5h1.4v1.4h-1.4zM1007.5 262h1.4v1.4h-1.4zM1007.5 236h1.4v1.4h-1.4zM1007.5 283h1.4v1.4h-1.4zM1007.5 221h1.4v1.4h-1.4zM1007.5 327h1.4v1.4h-1.4zM1007.5 238h1.4v1.4h-1.4zM1007.5 279h1.4v1.4h-1.4zM1007.5 222.5h1.4v1.4h-1.4zM1007.5 321h1.4v1.4h-1.4zM1007.5 231.5h1.4v1.4h-1.4zM1007.5 294.5h1.4v1.4h-1.4zM1007.5 261.5h1.4v1.4h-1.4zM1007.5 237h1.4v1.4h-1.4zM1007.5 281h1.4v1.4h-1.4zM1007.5 221.5h1.4v1.4h-1.4zM1007.5 324h1.4v1.4h-1.4zM1007.5 235h1.4v1.4h-1.4zM1007.5 286.5h1.4v1.4h-1.4zM1007.5 220h1.4v1.4h-1.4zM1007.5 330.5h1.4v1.4h-1.4zM1007.5 242h1.4v1.4h-1.4zM1007.5 269h1.4v1.4h-1.4zM1007.5 229h1.4v1.4h-1.4zM1007.5 301.5h1.4v1.4h-1.4zM1007.5 329.5h1.4v1.4h-1.4zM1008 245h1.4v1.4h-1.4zM1008 262.5h1.4v1.4h-1.4zM1008 235.5h1.4v1.4h-1.4zM1008 284.5h1.4v1.4h-1.4zM1008 220.5h1.4v1.4h-1.4zM1008 328.5h1.4v1.4h-1.4zM1008 240h1.4v1.4h-1.4zM1008 274h1.4v1.4h-1.4zM1008 225.5h1.4v1.4h-1.4zM1008 312.5h1.4v1.4h-1.4zM1008 225h1.4v1.4h-1.4zM1008 314h1.4v1.4h-1.4zM1008 226h1.4v1.4h-1.4zM1008 311.5h1.4v1.4h-1.4zM1008 224h1.4v1.4h-1.4zM1008 316.5h1.4v1.4h-1.4zM1008 227.5h1.4v1.4h-1.4zM1008 306h1.4v1.4h-1.4zM1008 221.5h1.4v1.4h-1.4zM1008 325h1.4v1.4h-1.4zM1008 284h1.4v1.4h-1.4zM1008 239.5h1.4v1.4h-1.4zM1008 274.5h1.4v1.4h-1.4zM1008 313h1.4v1.4h-1.4zM1008.5 245.5h1.4v1.4h-1.4zM1008.5 261h1.4v1.4h-1.4zM1008.5 237h1.4v1.4h-1.4zM1008.5 280.5h1.4v1.4h-1.4zM1008.5 221.5h1.4v1.4h-1.4zM1008.5 324h1.4v1.4h-1.4zM1008.5 235h1.4v1.4h-1.4zM1008.5 286.5h1.4v1.4h-1.4zM1008.5 219.5h1.4v1.4h-1.4zM1008.5 331h1.4v1.4h-1.4zM1008.5 242.5h1.4v1.4h-1.4zM1008.5 268h1.4v1.4h-1.4zM1008.5 230h1.4v1.4h-1.4zM1008.5 298.5h1.4v1.4h-1.4zM1008.5 219h1.4v1.4h-1.4zM1008.5 332.5h1.4v1.4h-1.4zM1008.5 244.5h1.4v1.4h-1.4zM1008.5 263.5h1.4v1.4h-1.4zM1008.5 234.5h1.4v1.4h-1.4zM1008.5 287.5h1.4v1.4h-1.4zM1008.5 331.5h1.4v1.4h-1.4zM1008.5 243.5h1.4v1.4h-1.4zM1008.5 265.5h1.4v1.4h-1.4zM1008.5 232.5h1.4v1.4h-1.4zM1008.5 292h1.4v1.4h-1.4zM1008.5 218.5h1.4v1.4h-1.4zM1008.5 333.5h1.4v1.4h-1.4zM1008.5 246.5h1.4v1.4h-1.4zM1008.5 260h1.4v1.4h-1.4zM1008.5 238.5h1.4v1.4h-1.4zM1008.5 277h1.4v1.4h-1.4zM1008.5 223.5h1.4v1.4h-1.4zM1008.5 318.5h1.4v1.4h-1.4zM1009 218.5h1.4v1.4h-1.4zM1009 334h1.4v1.4h-1.4zM1009 247h1.4v1.4h-1.4zM1009 259h1.4v1.4h-1.4zM1009 239.5h1.4v1.4h-1.4zM1009 274h1.4v1.4h-1.4zM1009 225h1.4v1.4h-1.4zM1009 313.5h1.4v1.4h-1.4zM1009 225.5h1.4v1.4h-1.4zM1009 313h1.4v1.4h-1.4zM1009 314h1.4v1.4h-1.4zM1009 311.5h1.4v1.4h-1.4zM1009 224h1.4v1.4h-1.4zM1009 316h1.4v1.4h-1.4zM1009 227.5h1.4v1.4h-1.4zM1009 306.5h1.4v1.4h-1.4zM1009 221.5h1.4v1.4h-1.4zM1009 324.5h1.4v1.4h-1.4zM1009 235h1.4v1.4h-1.4zM1009 285.5h1.4v1.4h-1.4zM1009 220h1.4v1.4h-1.4zM1009 330h1.4v1.4h-1.4zM1009 241.5h1.4v1.4h-1.4zM1009 270h1.4v1.4h-1.4zM1009 228.5h1.4v1.4h-1.4zM1009 304h1.4v1.4h-1.4zM1009 220.5h1.4v1.4h-1.4zM1009 328.5h1.4v1.4h-1.4zM1009 275h1.4v1.4h-1.4zM1009 224.5h1.4v1.4h-1.4zM1009 315h1.4v1.4h-1.4zM1009 240.5h1.4v1.4h-1.4zM1009 271.5h1.4v1.4h-1.4zM1009 227h1.4v1.4h-1.4zM1009 308.5h1.4v1.4h-1.4zM1009 222h1.4v1.4h-1.4zM1009 322.5h1.4v1.4h-1.4zM1009 233h1.4v1.4h-1.4zM1009 291.5h1.4v1.4h-1.4zM1009 240h1.4v1.4h-1.4zM1009 312.5h1.4v1.4h-1.4zM1009 314.5h1.4v1.4h-1.4zM1009 226h1.4v1.4h-1.4zM1009 311h1.4v1.4h-1.4zM1009 223.5h1.4v1.4h-1.4zM1009 318h1.4v1.4h-1.4zM1009 303h1.4v1.4h-1.4zM1009 329.5h1.4v1.4h-1.4zM1009 272h1.4v1.4h-1.4zM1009 226.5h1.4v1.4h-1.4zM1009 309.5h1.4v1.4h-1.4zM1009 222.5h1.4v1.4h-1.4zM1009 320.5h1.4v1.4h-1.4zM1009 231h1.4v1.4h-1.4zM1009 296h1.4v1.4h-1.4zM1009.5 241.5h1.4v1.4h-1.4zM1009.5 269.5h1.4v1.4h-1.4zM1009.5 228.5h1.4v1.4h-1.4zM1009.5 303h1.4v1.4h-1.4zM1009.5 220h1.4v1.4h-1.4zM1009.5 330h1.4v1.4h-1.4zM1009.5 241h1.4v1.4h-1.4zM1009.5 271.5h1.4v1.4h-1.4zM1009.5 227h1.4v1.4h-1.4zM1009.5 307.5h1.4v1.4h-1.4zM1009.5 221.5h1.4v1.4h-1.4zM1009.5 324h1.4v1.4h-1.4zM1009.5 234h1.4v1.4h-1.4zM1009.5 288h1.4v1.4h-1.4zM1009.5 219h1.4v1.4h-1.4zM1009.5 333h1.4v1.4h-1.4zM1009.5 245h1.4v1.4h-1.4zM1009.5 262.5h1.4v1.4h-1.4zM1009.5 235.5h1.4v1.4h-1.4zM1009.5 285h1.4v1.4h-1.4zM1009.5 219.5h1.4v1.4h-1.4zM1009.5 330.5h1.4v1.4h-1.4zM1009.5 329.5h1.4v1.4h-1.4zM1009.5 308h1.4v1.4h-1.4zM1009.5 222h1.4v1.4h-1.4zM1009.5 323.5h1.4v1.4h-1.4zM1010 241.5h1.4v1.4h-1.4zM1010 269.5h1.4v1.4h-1.4zM1010 228.5h1.4v1.4h-1.4zM1010 303.5h1.4v1.4h-1.4zM1010 220h1.4v1.4h-1.4zM1010 329.5h1.4v1.4h-1.4zM1010 240.5h1.4v1.4h-1.4zM1010 272h1.4v1.4h-1.4zM1010 226.5h1.4v1.4h-1.4zM1010 309h1.4v1.4h-1.4zM1010 222.5h1.4v1.4h-1.4zM1010 321.5h1.4v1.4h-1.4zM1010 232h1.4v1.4h-1.4zM1010 294h1.4v1.4h-1.4zM1010 218.5h1.4v1.4h-1.4zM1010 335h1.4v1.4h-1.4zM1010 248h1.4v1.4h-1.4zM1010 256.5h1.4v1.4h-1.4zM1010 243h1.4v1.4h-1.4zM1010 267h1.4v1.4h-1.4zM1010 230.5h1.4v1.4h-1.4zM1010 297.5h1.4v1.4h-1.4zM1010 334.5h1.4v1.4h-1.4zM1010 247h1.4v1.4h-1.4zM1010 258.5h1.4v1.4h-1.4zM1010 240h1.4v1.4h-1.4zM1010 273h1.4v1.4h-1.4zM1010 225.5h1.4v1.4h-1.4zM1010 312h1.4v1.4h-1.4zM1010 224h1.4v1.4h-1.4zM1010 316.5h1.4v1.4h-1.4zM1010 227h1.4v1.4h-1.4zM1010 307h1.4v1.4h-1.4zM1010.5 221h1.4v1.4h-1.4zM1010.5 325.5h1.4v1.4h-1.4zM1010.5 235.5h1.4v1.4h-1.4zM1010.5 284h1.4v1.4h-1.4zM1010.5 220h1.4v1.4h-1.4zM1010.5 330h1.4v1.4h-1.4zM1010.5 241h1.4v1.4h-1.4zM1010.5 271h1.4v1.4h-1.4zM1010.5 227h1.4v1.4h-1.4zM1010.5 307.5h1.4v1.4h-1.4zM1010.5 221.5h1.4v1.4h-1.4zM1010.5 325h1.4v1.4h-1.4zM1010.5 235h1.4v1.4h-1.4zM1010.5 285h1.4v1.4h-1.4zM1010.5 219.5h1.4v1.4h-1.4zM1010.5 331.5h1.4v1.4h-1.4zM1010.5 243h1.4v1.4h-1.4zM1010.5 267h1.4v1.4h-1.4zM1010.5 230.5h1.4v1.4h-1.4zM1010.5 297.5h1.4v1.4h-1.4zM1010.5 218.5h1.4v1.4h-1.4zM1010.5 334.5h1.4v1.4h-1.4zM1010.5 247.5h1.4v1.4h-1.4zM1010.5 257.5h1.4v1.4h-1.4zM1010.5 307h1.4v1.4h-1.4zM1010.5 331h1.4v1.4h-1.4zM1011 244h1.4v1.4h-1.4zM1011 264.5h1.4v1.4h-1.4zM1011 233h1.4v1.4h-1.4zM1011 291h1.4v1.4h-1.4zM1011 218h1.4v1.4h-1.4zM1011 335.5h1.4v1.4h-1.4zM1011 248.5h1.4v1.4h-1.4zM1011 256h1.4v1.4h-1.4zM1011 243.5h1.4v1.4h-1.4zM1011 265h1.4v1.4h-1.4zM1011 232h1.4v1.4h-1.4zM1011 293h1.4v1.4h-1.4zM1011 336h1.4v1.4h-1.4zM1011 249h1.4v1.4h-1.4zM1011 255h1.4v1.4h-1.4zM1011 245h1.4v1.4h-1.4zM1011 262.5h1.4v1.4h-1.4zM1011 235h1.4v1.4h-1.4zM1011 285.5h1.4v1.4h-1.4zM1011 219h1.4v1.4h-1.4zM1011 332h1.4v1.4h-1.4zM1011 265.5h1.4v1.4h-1.4zM1011 231.5h1.4v1.4h-1.4zM1011 294h1.4v1.4h-1.4zM1011 262h1.4v1.4h-1.4zM1011 285h1.4v1.4h-1.4zM1011 222.5h1.4v1.4h-1.4zM1011 320.5h1.4v1.4h-1.4zM1011 230.5h1.4v1.4h-1.4zM1011 297.5h1.4v1.4h-1.4zM1011 335h1.4v1.4h-1.4zM1011 248h1.4v1.4h-1.4zM1011 256.5h1.4v1.4h-1.4zM1011 242.5h1.4v1.4h-1.4zM1011 267.5h1.4v1.4h-1.4zM1011 229.5h1.4v1.4h-1.4zM1011 300h1.4v1.4h-1.4zM1011 218.5h1.4v1.4h-1.4zM1011 334h1.4v1.4h-1.4zM1011 246h1.4v1.4h-1.4zM1011 260h1.4v1.4h-1.4zM1011 237.5h1.4v1.4h-1.4zM1011 278.5h1.4v1.4h-1.4zM1011 222h1.4v1.4h-1.4zM1011 323h1.4v1.4h-1.4zM1011 290.5h1.4v1.4h-1.4zM1011 232.5h1.4v1.4h-1.4zM1011 292.5h1.4v1.4h-1.4zM1011 254.5h1.4v1.4h-1.4zM1011.5 247.5h1.4v1.4h-1.4zM1011.5 257.5h1.4v1.4h-1.4zM1011.5 241.5h1.4v1.4h-1.4zM1011.5 270h1.4v1.4h-1.4zM1011.5 227.5h1.4v1.4h-1.4zM1011.5 306h1.4v1.4h-1.4zM1011.5 220.5h1.4v1.4h-1.4zM1011.5 328h1.4v1.4h-1.4zM1011.5 238h1.4v1.4h-1.4zM1011.5 277.5h1.4v1.4h-1.4zM1011.5 222.5h1.4v1.4h-1.4zM1011.5 321.5h1.4v1.4h-1.4zM1011.5 231.5h1.4v1.4h-1.4zM1011.5 295h1.4v1.4h-1.4zM1011.5 218h1.4v1.4h-1.4zM1011.5 336.5h1.4v1.4h-1.4zM1011.5 249.5h1.4v1.4h-1.4zM1011.5 253.5h1.4v1.4h-1.4zM1011.5 247h1.4v1.4h-1.4zM1011.5 258.5h1.4v1.4h-1.4zM1011.5 240h1.4v1.4h-1.4zM1011.5 273h1.4v1.4h-1.4zM1011.5 225h1.4v1.4h-1.4zM1011.5 313h1.4v1.4h-1.4zM1011.5 224.5h1.4v1.4h-1.4zM1011.5 315.5h1.4v1.4h-1.4zM1011.5 226h1.4v1.4h-1.4zM1011.5 310.5h1.4v1.4h-1.4zM1011.5 320.5h1.4v1.4h-1.4zM1011.5 230h1.4v1.4h-1.4zM1011.5 298h1.4v1.4h-1.4zM1011.5 335.5h1.4v1.4h-1.4zM1012 233.5h1.4v1.4h-1.4zM1012 289.5h1.4v1.4h-1.4zM1012 218h1.4v1.4h-1.4zM1012 336h1.4v1.4h-1.4zM1012 248.5h1.4v1.4h-1.4zM1012 255.5h1.4v1.4h-1.4zM1012 244h1.4v1.4h-1.4zM1012 263.5h1.4v1.4h-1.4zM1012 289h1.4v1.4h-1.4zM1012 335.5h1.4v1.4h-1.4zM1012 248h1.4v1.4h-1.4zM1012 243.5h1.4v1.4h-1.4zM1012 265h1.4v1.4h-1.4zM1012 232h1.4v1.4h-1.4zM1012 293h1.4v1.4h-1.4zM1012 217.5h1.4v1.4h-1.4zM1012 337h1.4v1.4h-1.4zM1012 250h1.4v1.4h-1.4zM1012 252.5h1.4v1.4h-1.4zM1012.5 239.5h1.4v1.4h-1.4zM1012.5 274h1.4v1.4h-1.4zM1012.5 224h1.4v1.4h-1.4zM1012.5 315.5h1.4v1.4h-1.4zM1012.5 226h1.4v1.4h-1.4zM1012.5 310.5h1.4v1.4h-1.4zM1012.5 222.5h1.4v1.4h-1.4zM1012.5 321.5h1.4v1.4h-1.4zM1012.5 231h1.4v1.4h-1.4zM1012.5 296h1.4v1.4h-1.4zM1012.5 217.5h1.4v1.4h-1.4zM1012.5 337h1.4v1.4h-1.4zM1012.5 250h1.4v1.4h-1.4zM1012.5 252.5h1.4v1.4h-1.4zM1012.5 248.5h1.4v1.4h-1.4zM1012.5 255h1.4v1.4h-1.4zM1012.5 244h1.4v1.4h-1.4zM1012.5 263.5h1.4v1.4h-1.4zM1012.5 233.5h1.4v1.4h-1.4zM1012.5 289h1.4v1.4h-1.4zM1012.5 218h1.4v1.4h-1.4zM1012.5 336h1.4v1.4h-1.4zM1012.5 244.5h1.4v1.4h-1.4zM1012.5 262.5h1.4v1.4h-1.4zM1012.5 234.5h1.4v1.4h-1.4zM1012.5 286h1.4v1.4h-1.4zM1012.5 218.5h1.4v1.4h-1.4zM1012.5 334h1.4v1.4h-1.4zM1012.5 245.5h1.4v1.4h-1.4zM1012.5 260.5h1.4v1.4h-1.4zM1012.5 236.5h1.4v1.4h-1.4zM1012.5 281h1.4v1.4h-1.4zM1013 252h1.4v1.4h-1.4zM1013 249h1.4v1.4h-1.4zM1013 254h1.4v1.4h-1.4zM1013 245.5h1.4v1.4h-1.4zM1013 260.5h1.4v1.4h-1.4zM1013 236.5h1.4v1.4h-1.4zM1013 281h1.4v1.4h-1.4zM1013 220.5h1.4v1.4h-1.4zM1013 328h1.4v1.4h-1.4zM1013 238h1.4v1.4h-1.4zM1013 277.5h1.4v1.4h-1.4zM1013 222h1.4v1.4h-1.4zM1013 322.5h1.4v1.4h-1.4zM1013 232h1.4v1.4h-1.4zM1013 293h1.4v1.4h-1.4zM1013 217.5h1.4v1.4h-1.4zM1013 337.5h1.4v1.4h-1.4zM1013 251h1.4v1.4h-1.4zM1013 250.5h1.4v1.4h-1.4zM1013 251.5h1.4v1.4h-1.4zM1013 250h1.4v1.4h-1.4zM1013 252.5h1.4v1.4h-1.4zM1013 248.5h1.4v1.4h-1.4zM1013 255.5h1.4v1.4h-1.4zM1013 244h1.4v1.4h-1.4zM1013 263.5h1.4v1.4h-1.4zM1013 233h1.4v1.4h-1.4zM1013 290.5h1.4v1.4h-1.4zM1013 337h1.4v1.4h-1.4zM1013 255h1.4v1.4h-1.4zM1013 244.5h1.4v1.4h-1.4zM1013 263h1.4v1.4h-1.4zM1013 233.5h1.4v1.4h-1.4zM1013 288.5h1.4v1.4h-1.4zM1013 218h1.4v1.4h-1.4zM1013 336h1.4v1.4h-1.4zM1013 254.5h1.4v1.4h-1.4zM1013 281.5h1.4v1.4h-1.4zM1013 220h1.4v1.4h-1.4zM1013 329h1.4v1.4h-1.4zM1013 239.5h1.4v1.4h-1.4zM1013 274.5h1.4v1.4h-1.4zM1013 224h1.4v1.4h-1.4zM1013 316.5h1.4v1.4h-1.4zM1013 226.5h1.4v1.4h-1.4zM1013 308.5h1.4v1.4h-1.4zM1013 221h1.4v1.4h-1.4zM1013 325.5h1.4v1.4h-1.4zM1013 235h1.4v1.4h-1.4zM1013 285h1.4v1.4h-1.4zM1013 218.5h1.4v1.4h-1.4zM1013 333.5h1.4v1.4h-1.4zM1013 245h1.4v1.4h-1.4zM1013 261.5h1.4v1.4h-1.4zM1013 235.5h1.4v1.4h-1.4zM1013.5 223.5h1.4v1.4h-1.4zM1013.5 317.5h1.4v1.4h-1.4zM1013.5 227h1.4v1.4h-1.4zM1013.5 306.5h1.4v1.4h-1.4zM1013.5 220h1.4v1.4h-1.4zM1013.5 328.5h1.4v1.4h-1.4zM1013.5 238.5h1.4v1.4h-1.4zM1013.5 276h1.4v1.4h-1.4zM1013.5 222.5h1.4v1.4h-1.4zM1013.5 320.5h1.4v1.4h-1.4zM1013.5 230h1.4v1.4h-1.4zM1013.5 299h1.4v1.4h-1.4zM1013.5 217.5h1.4v1.4h-1.4zM1013.5 336.5h1.4v1.4h-1.4zM1013.5 249.5h1.4v1.4h-1.4zM1013.5 253h1.4v1.4h-1.4zM1013.5 247h1.4v1.4h-1.4zM1013.5 258h1.4v1.4h-1.4zM1013.5 240h1.4v1.4h-1.4zM1013.5 272h1.4v1.4h-1.4zM1013.5 225.5h1.4v1.4h-1.4zM1013.5 312.5h1.4v1.4h-1.4zM1013.5 318.5h1.4v1.4h-1.4zM1013.5 228h1.4v1.4h-1.4zM1013.5 304.5h1.4v1.4h-1.4zM1013.5 219.5h1.4v1.4h-1.4zM1013.5 331.5h1.4v1.4h-1.4zM1013.5 242h1.4v1.4h-1.4zM1013.5 268h1.4v1.4h-1.4zM1013.5 229h1.4v1.4h-1.4zM1013.5 302h1.4v1.4h-1.4zM1013.5 218.5h1.4v1.4h-1.4zM1013.5 334h1.4v1.4h-1.4zM1014 248.5h1.4v1.4h-1.4zM1014 254.5h1.4v1.4h-1.4zM1014 244.5h1.4v1.4h-1.4zM1014 262.5h1.4v1.4h-1.4zM1014 234h1.4v1.4h-1.4zM1014 287h1.4v1.4h-1.4zM1014 218h1.4v1.4h-1.4zM1014 336h1.4v1.4h-1.4zM1014 248h1.4v1.4h-1.4zM1014 255.5h1.4v1.4h-1.4zM1014 243.5h1.4v1.4h-1.4zM1014 264h1.4v1.4h-1.4zM1014 232.5h1.4v1.4h-1.4zM1014 292h1.4v1.4h-1.4zM1014 217h1.4v1.4h-1.4zM1014 338.5h1.4v1.4h-1.4zM1014 252h1.4v1.4h-1.4zM1014 249h1.4v1.4h-1.4zM1014 254h1.4v1.4h-1.4zM1014 245.5h1.4v1.4h-1.4zM1014 260.5h1.4v1.4h-1.4zM1014 236.5h1.4v1.4h-1.4zM1014 281.5h1.4v1.4h-1.4zM1014 219.5h1.4v1.4h-1.4zM1014 330h1.4v1.4h-1.4zM1014 240h1.4v1.4h-1.4zM1014 272.5h1.4v1.4h-1.4zM1014 225h1.4v1.4h-1.4zM1014 313.5h1.4v1.4h-1.4zM1014 224h1.4v1.4h-1.4zM1014 316.5h1.4v1.4h-1.4zM1014 226h1.4v1.4h-1.4zM1014 310h1.4v1.4h-1.4zM1014 221.5h1.4v1.4h-1.4zM1014.5 248.5h1.4v1.4h-1.4zM1014.5 255h1.4v1.4h-1.4zM1014.5 244h1.4v1.4h-1.4zM1014.5 263h1.4v1.4h-1.4zM1014.5 233.5h1.4v1.4h-1.4zM1014.5 289h1.4v1.4h-1.4zM1014.5 217.5h1.4v1.4h-1.4zM1014.5 337.5h1.4v1.4h-1.4zM1014.5 251h1.4v1.4h-1.4zM1014.5 250.5h1.4v1.4h-1.4zM1014.5 250h1.4v1.4h-1.4zM1014.5 252h1.4v1.4h-1.4zM1014.5 249h1.4v1.4h-1.4zM1014.5 254h1.4v1.4h-1.4zM1014.5 245.5h1.4v1.4h-1.4zM1014.5 260h1.4v1.4h-1.4zM1014.5 237h1.4v1.4h-1.4zM1014.5 280h1.4v1.4h-1.4zM1014.5 220.5h1.4v1.4h-1.4zM1014.5 327.5h1.4v1.4h-1.4zM1014.5 279.5h1.4v1.4h-1.4zM1014.5 327h1.4v1.4h-1.4zM1014.5 236.5h1.4v1.4h-1.4zM1014.5 281.5h1.4v1.4h-1.4zM1014.5 219.5h1.4v1.4h-1.4zM1014.5 330h1.4v1.4h-1.4zM1014.5 240h1.4v1.4h-1.4zM1014.5 272h1.4v1.4h-1.4zM1014.5 225.5h1.4v1.4h-1.4zM1014.5 312h1.4v1.4h-1.4zM1014.5 223h1.4v1.4h-1.4zM1015 247h1.4v1.4h-1.4zM1015 257.5h1.4v1.4h-1.4zM1015 240h1.4v1.4h-1.4zM1015 272h1.4v1.4h-1.4zM1015 225.5h1.4v1.4h-1.4zM1015 312h1.4v1.4h-1.4zM1015 223h1.4v1.4h-1.4zM1015 319.5h1.4v1.4h-1.4zM1015 228.5h1.4v1.4h-1.4zM1015 302h1.4v1.4h-1.4zM1015 218h1.4v1.4h-1.4zM1015 335h1.4v1.4h-1.4zM1015 246.5h1.4v1.4h-1.4zM1015 258h1.4v1.4h-1.4zM1015 273h1.4v1.4h-1.4zM1015 224.5h1.4v1.4h-1.4zM1015 314.5h1.4v1.4h-1.4zM1015 315h1.4v1.4h-1.4zM1015 225h1.4v1.4h-1.4zM1015 313.5h1.4v1.4h-1.4zM1015 223.5h1.4v1.4h-1.4zM1015 317h1.4v1.4h-1.4zM1015 226.5h1.4v1.4h-1.4zM1015 308h1.4v1.4h-1.4zM1015 254.5h1.4v1.4h-1.4zM1015 244.5h1.4v1.4h-1.4zM1015 262h1.4v1.4h-1.4zM1015 234h1.4v1.4h-1.4zM1015 286.5h1.4v1.4h-1.4zM1015 217.5h1.4v1.4h-1.4zM1015 336.5h1.4v1.4h-1.4zM1015 249h1.4v1.4h-1.4zM1015 253.5h1.4v1.4h-1.4zM1015 258.5h1.4v1.4h-1.4zM1015 238.5h1.4v1.4h-1.4zM1015 275.5h1.4v1.4h-1.4zM1015 222.5h1.4v1.4h-1.4zM1015 320.5h1.4v1.4h-1.4zM1015 229.5h1.4v1.4h-1.4zM1015 300h1.4v1.4h-1.4zM1015 337.5h1.4v1.4h-1.4zM1015 250h1.4v1.4h-1.4zM1015 252h1.4v1.4h-1.4zM1015 254h1.4v1.4h-1.4zM1015 245.5h1.4v1.4h-1.4zM1015 260h1.4v1.4h-1.4zM1015 237h1.4v1.4h-1.4zM1015 279.5h1.4v1.4h-1.4zM1015 220.5h1.4v1.4h-1.4zM1015 327.5h1.4v1.4h-1.4zM1015 280h1.4v1.4h-1.4zM1015 220h1.4v1.4h-1.4zM1015 328.5h1.4v1.4h-1.4zM1015 238h1.4v1.4h-1.4zM1015.5 220.5h1.4v1.4h-1.4zM1015.5 328h1.4v1.4h-1.4zM1015.5 237h1.4v1.4h-1.4zM1015.5 279h1.4v1.4h-1.4zM1015.5 327h1.4v1.4h-1.4zM1015.5 236.5h1.4v1.4h-1.4zM1015.5 281h1.4v1.4h-1.4zM1015.5 219.5h1.4v1.4h-1.4zM1015.5 330.5h1.4v1.4h-1.4zM1015.5 240.5h1.4v1.4h-1.4zM1015.5 270.5h1.4v1.4h-1.4zM1015.5 226h1.4v1.4h-1.4zM1015.5 310h1.4v1.4h-1.4zM1015.5 221.5h1.4v1.4h-1.4zM1015.5 324h1.4v1.4h-1.4zM1015.5 232.5h1.4v1.4h-1.4zM1015.5 290.5h1.4v1.4h-1.4zM1015.5 217h1.4v1.4h-1.4zM1015.5 339.5h1.4v1.4h-1.4zM1015.5 253h1.4v1.4h-1.4zM1015.5 246.5h1.4v1.4h-1.4zM1015.5 258h1.4v1.4h-1.4zM1015.5 239h1.4v1.4h-1.4zM1015.5 274h1.4v1.4h-1.4zM1015.5 223.5h1.4v1.4h-1.4zM1015.5 318h1.4v1.4h-1.4zM1015.5 227h1.4v1.4h-1.4zM1015.5 307h1.4v1.4h-1.4zM1015.5 220h1.4v1.4h-1.4zM1015.5 329h1.4v1.4h-1.4zM1015.5 275h1.4v1.4h-1.4zM1015.5 223h1.4v1.4h-1.4zM1016 249.5h1.4v1.4h-1.4zM1016 253h1.4v1.4h-1.4zM1016 246.5h1.4v1.4h-1.4zM1016 257.5h1.4v1.4h-1.4zM1016 240h1.4v1.4h-1.4zM1016 272.5h1.4v1.4h-1.4zM1016 224.5h1.4v1.4h-1.4zM1016 314.5h1.4v1.4h-1.4zM1016 224h1.4v1.4h-1.4zM1016 316h1.4v1.4h-1.4zM1016 225h1.4v1.4h-1.4zM1016 312h1.4v1.4h-1.4zM1016 222.5h1.4v1.4h-1.4zM1016 320.5h1.4v1.4h-1.4zM1016 229h1.4v1.4h-1.4zM1016 300.5h1.4v1.4h-1.4zM1016 217.5h1.4v1.4h-1.4zM1016 337.5h1.4v1.4h-1.4zM1016 250h1.4v1.4h-1.4zM1016 251.5h1.4v1.4h-1.4zM1016 252.5h1.4v1.4h-1.4zM1016 247.5h1.4v1.4h-1.4zM1016 256.5h1.4v1.4h-1.4zM1016 241.5h1.4v1.4h-1.4zM1016 268.5h1.4v1.4h-1.4zM1016 227.5h1.4v1.4h-1.4zM1016 305h1.4v1.4h-1.4zM1016 219h1.4v1.4h-1.4zM1016 332.5h1.4v1.4h-1.4zM1016 243.5h1.4v1.4h-1.4zM1016 264.5h1.4v1.4h-1.4zM1016 231.5h1.4v1.4h-1.4zM1016 294h1.4v1.4h-1.4zM1016.5 293.5h1.4v1.4h-1.4zM1016.5 216.5h1.4v1.4h-1.4zM1016.5 340.5h1.4v1.4h-1.4zM1016.5 255h1.4v1.4h-1.4zM1016.5 243.5h1.4v1.4h-1.4zM1016.5 264.5h1.4v1.4h-1.4zM1016.5 231.5h1.4v1.4h-1.4zM1017 328.5h1.4v1.4h-1.4zM1017 237.5h1.4v1.4h-1.4zM1017 278h1.4v1.4h-1.4zM1017 220.5h1.4v1.4h-1.4zM1017 327h1.4v1.4h-1.4zM1017 235.5h1.4v1.4h-1.4zM1017 282.5h1.4v1.4h-1.4zM1017 218.5h1.4v1.4h-1.4zM1017 333.5h1.4v1.4h-1.4zM1017 244.5h1.4v1.4h-1.4zM1017 262h1.4v1.4h-1.4zM1017 233.5h1.4v1.4h-1.4zM1017 287.5h1.4v1.4h-1.4zM1017 217h1.4v1.4h-1.4zM1017 339h1.4v1.4h-1.4zM1017 252h1.4v1.4h-1.4zM1017 248h1.4v1.4h-1.4zM1017 255h1.4v1.4h-1.4zM1017 243h1.4v1.4h-1.4zM1017 264.5h1.4v1.4h-1.4zM1017 231h1.4v1.4h-1.4zM1017 294.5h1.4v1.4h-1.4zM1017 216.5h1.4v1.4h-1.4zM1017 341h1.4v1.4h-1.4zM1017 255.5h1.4v1.4h-1.4zM1017 242.5h1.4v1.4h-1.4zM1017 266h1.4v1.4h-1.4zM1017 230h1.4v1.4h-1.4zM1017 298h1.4v1.4h-1.4zM1017 340h1.4v1.4h-1.4zM1017 253.5h1.4v1.4h-1.4zM1017 245.5h1.4v1.4h-1.4zM1017 259.5h1.4v1.4h-1.4zM1017 230.5h1.4v1.4h-1.4zM1017 296h1.4v1.4h-1.4zM1017 266.5h1.4v1.4h-1.4zM1017 229.5h1.4v1.4h-1.4zM1017 299.5h1.4v1.4h-1.4zM1017 252.5h1.4v1.4h-1.4zM1017 247.5h1.4v1.4h-1.4zM1017 256.5h1.4v1.4h-1.4zM1017 241.5h1.4v1.4h-1.4zM1017 268.5h1.4v1.4h-1.4zM1017 227h1.4v1.4h-1.4zM1017 306h1.4v1.4h-1.4zM1017 219h1.4v1.4h-1.4zM1017 332h1.4v1.4h-1.4zM1017 242h1.4v1.4h-1.4zM1017 267h1.4v1.4h-1.4zM1017 228.5h1.4v1.4h-1.4zM1017 302h1.4v1.4h-1.4zM1017 217.5h1.4v1.4h-1.4zM1017 337h1.4v1.4h-1.4zM1017 249h1.4v1.4h-1.4zM1017 253h1.4v1.4h-1.4zM1017 246.5h1.4v1.4h-1.4zM1017 257.5h1.4v1.4h-1.4zM1017 239.5h1.4v1.4h-1.4zM1017 272.5h1.4v1.4h-1.4zM1017 224h1.4v1.4h-1.4zM1017 315.5h1.4v1.4h-1.4zM1017.5 341.5h1.4v1.4h-1.4zM1017.5 256.5h1.4v1.4h-1.4zM1017.5 241.5h1.4v1.4h-1.4zM1017.5 268.5h1.4v1.4h-1.4zM1017.5 227h1.4v1.4h-1.4zM1017.5 306.5h1.4v1.4h-1.4zM1017.5 219h1.4v1.4h-1.4zM1017.5 332h1.4v1.4h-1.4zM1017.5 242h1.4v1.4h-1.4zM1017.5 267.5h1.4v1.4h-1.4zM1017.5 228h1.4v1.4h-1.4zM1017.5 303h1.4v1.4h-1.4zM1017.5 217.5h1.4v1.4h-1.4zM1017.5 336.5h1.4v1.4h-1.4zM1017.5 248h1.4v1.4h-1.4zM1017.5 254.5h1.4v1.4h-1.4zM1017.5 243.5h1.4v1.4h-1.4zM1017.5 263h1.4v1.4h-1.4zM1017.5 232.5h1.4v1.4h-1.4zM1017.5 291h1.4v1.4h-1.4zM1017.5 216h1.4v1.4h-1.4zM1017.5 256h1.4v1.4h-1.4zM1017.5 303.5h1.4v1.4h-1.4zM1017.5 218h1.4v1.4h-1.4zM1017.5 336h1.4v1.4h-1.4zM1017.5 247h1.4v1.4h-1.4zM1017.5 241h1.4v1.4h-1.4zM1017.5 269h1.4v1.4h-1.4zM1018 223.5h1.4v1.4h-1.4zM1018 317h1.4v1.4h-1.4zM1018 225.5h1.4v1.4h-1.4zM1018 311h1.4v1.4h-1.4zM1018 221h1.4v1.4h-1.4zM1018 324.5h1.4v1.4h-1.4zM1018 232.5h1.4v1.4h-1.4zM1018 290.5h1.4v1.4h-1.4zM1018 216h1.4v1.4h-1.4zM1018 341.5h1.4v1.4h-1.4zM1018 256h1.4v1.4h-1.4zM1018 241.5h1.4v1.4h-1.4zM1018 268h1.4v1.4h-1.4zM1018 227.5h1.4v1.4h-1.4zM1018 304.5h1.4v1.4h-1.4zM1018 218h1.4v1.4h-1.4zM1018 335h1.4v1.4h-1.4zM1018 246h1.4v1.4h-1.4zM1018 259h1.4v1.4h-1.4zM1018 237.5h1.4v1.4h-1.4zM1018 277.5h1.4v1.4h-1.4zM1018 220.5h1.4v1.4h-1.4zM1018 327h1.4v1.4h-1.4zM1018 235.5h1.4v1.4h-1.4zM1018 283.5h1.4v1.4h-1.4zM1018 335.5h1.4v1.4h-1.4zM1018 247h1.4v1.4h-1.4zM1018 257h1.4v1.4h-1.4zM1018 240h1.4v1.4h-1.4zM1018 271.5h1.4v1.4h-1.4zM1018 225h1.4v1.4h-1.4zM1018 313h1.4v1.4h-1.4zM1018 222.5h1.4v1.4h-1.4zM1018.5 239.5h1.4v1.4h-1.4zM1018.5 273h1.4v1.4h-1.4zM1018.5 223.5h1.4v1.4h-1.4zM1018.5 317.5h1.4v1.4h-1.4zM1018.5 226h1.4v1.4h-1.4zM1018.5 309.5h1.4v1.4h-1.4zM1018.5 220.5h1.4v1.4h-1.4zM1018.5 327h1.4v1.4h-1.4zM1018.5 235.5h1.4v1.4h-1.4zM1018.5 282.5h1.4v1.4h-1.4zM1018.5 218h1.4v1.4h-1.4zM1018.5 335h1.4v1.4h-1.4zM1018.5 246h1.4v1.4h-1.4zM1018.5 258.5h1.4v1.4h-1.4zM1018.5 238h1.4v1.4h-1.4zM1018.5 277h1.4v1.4h-1.4zM1018.5 221h1.4v1.4h-1.4zM1018.5 326h1.4v1.4h-1.4zM1018.5 234h1.4v1.4h-1.4zM1018.5 286h1.4v1.4h-1.4zM1018.5 217h1.4v1.4h-1.4zM1018.5 339h1.4v1.4h-1.4zM1018.5 252h1.4v1.4h-1.4zM1018.5 248h1.4v1.4h-1.4zM1018.5 255h1.4v1.4h-1.4zM1018.5 243.5h1.4v1.4h-1.4zM1018.5 264h1.4v1.4h-1.4zM1018.5 231.5h1.4v1.4h-1.4zM1018.5 293h1.4v1.4h-1.4zM1018.5 216h1.4v1.4h-1.4zM1018.5 342.5h1.4v1.4h-1.4zM1018.5 257.5h1.4v1.4h-1.4zM1018.5 239h1.4v1.4h-1.4zM1018.5 273.5h1.4v1.4h-1.4zM1019 238.5h1.4v1.4h-1.4zM1019 275.5h1.4v1.4h-1.4zM1019 221.5h1.4v1.4h-1.4zM1019 323.5h1.4v1.4h-1.4zM1019 231.5h1.4v1.4h-1.4zM1019 293.5h1.4v1.4h-1.4zM1019 216h1.4v1.4h-1.4zM1019 343h1.4v1.4h-1.4zM1019 258h1.4v1.4h-1.4zM1019 313.5h1.4v1.4h-1.4zM1019 223h1.4v1.4h-1.4zM1019 319.5h1.4v1.4h-1.4zM1019 227.5h1.4v1.4h-1.4zM1019 305.5h1.4v1.4h-1.4zM1019 218h1.4v1.4h-1.4zM1019 335h1.4v1.4h-1.4zM1019 245.5h1.4v1.4h-1.4zM1019 259.5h1.4v1.4h-1.4zM1019 236.5h1.4v1.4h-1.4zM1019 280h1.4v1.4h-1.4zM1019 219h1.4v1.4h-1.4zM1019 332h1.4v1.4h-1.4zM1019 241.5h1.4v1.4h-1.4zM1019 268.5h1.4v1.4h-1.4zM1019 227h1.4v1.4h-1.4zM1019 306.5h1.4v1.4h-1.4zM1019 218.5h1.4v1.4h-1.4zM1019 333h1.4v1.4h-1.4zM1019 243h1.4v1.4h-1.4zM1019 265h1.4v1.4h-1.4zM1019 230.5h1.4v1.4h-1.4zM1019 296.5h1.4v1.4h-1.4zM1019 342.5h1.4v1.4h-1.4zM1019 239h1.4v1.4h-1.4zM1019 274.5h1.4v1.4h-1.4zM1019 222h1.4v1.4h-1.4zM1019 321h1.4v1.4h-1.4zM1019 229h1.4v1.4h-1.4zM1019 301h1.4v1.4h-1.4zM1019 216.5h1.4v1.4h-1.4zM1019 340h1.4v1.4h-1.4zM1019.5 226h1.4v1.4h-1.4zM1019.5 310h1.4v1.4h-1.4zM1019.5 220h1.4v1.4h-1.4zM1019.5 327.5h1.4v1.4h-1.4zM1019.5 236h1.4v1.4h-1.4zM1019.5 282h1.4v1.4h-1.4zM1019.5 218h1.4v1.4h-1.4zM1019.5 335h1.4v1.4h-1.4zM1019.5 245.5h1.4v1.4h-1.4zM1019.5 259.5h1.4v1.4h-1.4zM1019.5 236.5h1.4v1.4h-1.4zM1019.5 279.5h1.4v1.4h-1.4zM1019.5 219h1.4v1.4h-1.4zM1019.5 331.5h1.4v1.4h-1.4zM1019.5 240.5h1.4v1.4h-1.4zM1019.5 270h1.4v1.4h-1.4zM1019.5 225.5h1.4v1.4h-1.4zM1019.5 311h1.4v1.4h-1.4zM1019.5 221h1.4v1.4h-1.4zM1019.5 325.5h1.4v1.4h-1.4zM1019.5 233.5h1.4v1.4h-1.4zM1019.5 288h1.4v1.4h-1.4zM1019.5 216h1.4v1.4h-1.4zM1019.5 341.5h1.4v1.4h-1.4zM1019.5 256h1.4v1.4h-1.4zM1019.5 241.5h1.4v1.4h-1.4zM1019.5 268h1.4v1.4h-1.4zM1019.5 227h1.4v1.4h-1.4zM1019.5 305.5h1.4v1.4h-1.4zM1020 268h1.4v1.4h-1.4zM1020 227h1.4v1.4h-1.4zM1020 305.5h1.4v1.4h-1.4zM1020 218h1.4v1.4h-1.4zM1020 335.5h1.4v1.4h-1.4zM1020 246h1.4v1.4h-1.4zM1020 258h1.4v1.4h-1.4zM1020 238.5h1.4v1.4h-1.4zM1020 275h1.4v1.4h-1.4zM1020 221.5h1.4v1.4h-1.4zM1020 323.5h1.4v1.4h-1.4zM1020 231h1.4v1.4h-1.4zM1020 294.5h1.4v1.4h-1.4zM1020 215.5h1.4v1.4h-1.4zM1020 344h1.4v1.4h-1.4zM1020 260h1.4v1.4h-1.4zM1020 236h1.4v1.4h-1.4zM1020 281.5h1.4v1.4h-1.4zM1020 335h1.4v1.4h-1.4zM1020 245.5h1.4v1.4h-1.4zM1020 259.5h1.4v1.4h-1.4zM1020 236.5h1.4v1.4h-1.4zM1020 280h1.4v1.4h-1.4zM1020 218.5h1.4v1.4h-1.4zM1020 333h1.4v1.4h-1.4zM1020 242.5h1.4v1.4h-1.4zM1020 265.5h1.4v1.4h-1.4zM1020 229.5h1.4v1.4h-1.4zM1020 299.5h1.4v1.4h-1.4zM1020 216h1.4v1.4h-1.4zM1020 341.5h1.4v1.4h-1.4zM1020 256h1.4v1.4h-1.4zM1020 241h1.4v1.4h-1.4zM1020.5 259.5h1.4v1.4h-1.4zM1020.5 236.5h1.4v1.4h-1.4zM1020.5 280h1.4v1.4h-1.4zM1020.5 218.5h1.4v1.4h-1.4zM1020.5 333h1.4v1.4h-1.4zM1020.5 243h1.4v1.4h-1.4zM1020.5 264.5h1.4v1.4h-1.4zM1020.5 230.5h1.4v1.4h-1.4zM1020.5 296.5h1.4v1.4h-1.4zM1020.5 215.5h1.4v1.4h-1.4zM1020.5 343.5h1.4v1.4h-1.4zM1020.5 236h1.4v1.4h-1.4zM1020.5 280.5h1.4v1.4h-1.4zM1020.5 334h1.4v1.4h-1.4zM1020.5 244h1.4v1.4h-1.4zM1020.5 262h1.4v1.4h-1.4zM1020.5 233h1.4v1.4h-1.4zM1020.5 289h1.4v1.4h-1.4zM1020.5 343h1.4v1.4h-1.4zM1020.5 258h1.4v1.4h-1.4zM1020.5 238h1.4v1.4h-1.4zM1020.5 275.5h1.4v1.4h-1.4zM1020.5 221h1.4v1.4h-1.4zM1020.5 324.5h1.4v1.4h-1.4zM1020.5 232.5h1.4v1.4h-1.4zM1020.5 291h1.4v1.4h-1.4zM1020.5 344h1.4v1.4h-1.4zM1020.5 281h1.4v1.4h-1.4zM1021 288.5h1.4v1.4h-1.4zM1021 215.5h1.4v1.4h-1.4zM1021 343h1.4v1.4h-1.4zM1021 258.5h1.4v1.4h-1.4zM1021 237.5h1.4v1.4h-1.4zM1021 276.5h1.4v1.4h-1.4zM1021 220.5h1.4v1.4h-1.4zM1021 327.5h1.4v1.4h-1.4zM1021 235h1.4v1.4h-1.4zM1021 283h1.4v1.4h-1.4zM1021 217h1.4v1.4h-1.4zM1021 338h1.4v1.4h-1.4zM1021 249.5h1.4v1.4h-1.4zM1021 251.5h1.4v1.4h-1.4zM1021 248.5h1.4v1.4h-1.4zM1021 253.5h1.4v1.4h-1.4zM1021 245h1.4v1.4h-1.4zM1021 259.5h1.4v1.4h-1.4zM1021 236h1.4v1.4h-1.4zM1021 281.5h1.4v1.4h-1.4zM1021 218h1.4v1.4h-1.4zM1021 335h1.4v1.4h-1.4zM1021 245.5h1.4v1.4h-1.4zM1021 277.5h1.4v1.4h-1.4zM1021 220h1.4v1.4h-1.4zM1021 328.5h1.4v1.4h-1.4zM1021 237h1.4v1.4h-1.4zM1021 279h1.4v1.4h-1.4zM1021 219h1.4v1.4h-1.4zM1021 331h1.4v1.4h-1.4zM1021 240h1.4v1.4h-1.4zM1021 271h1.4v1.4h-1.4zM1021 336h1.4v1.4h-1.4zM1021 246.5h1.4v1.4h-1.4zM1021 257h1.4v1.4h-1.4zM1021 239.5h1.4v1.4h-1.4zM1021 272.5h1.4v1.4h-1.4zM1021 223h1.4v1.4h-1.4zM1021 318h1.4v1.4h-1.4zM1021 225.5h1.4v1.4h-1.4zM1021 310.5h1.4v1.4h-1.4zM1021 250h1.4v1.4h-1.4zM1021 250.5h1.4v1.4h-1.4zM1021 252h1.4v1.4h-1.4zM1021 247.5h1.4v1.4h-1.4zM1021 255h1.4v1.4h-1.4zM1021 242.5h1.4v1.4h-1.4zM1021 265.5h1.4v1.4h-1.4zM1021 229h1.4v1.4h-1.4zM1021 300h1.4v1.4h-1.4zM1021 216h1.4v1.4h-1.4zM1021 342.5h1.4v1.4h-1.4zM1021 272h1.4v1.4h-1.4zM1021 223.5h1.4v1.4h-1.4zM1021 317.5h1.4v1.4h-1.4zM1021 225h1.4v1.4h-1.4zM1021 311.5h1.4v1.4h-1.4zM1021.5 338.5h1.4v1.4h-1.4zM1021.5 250.5h1.4v1.4h-1.4zM1021.5 250h1.4v1.4h-1.4zM1021.5 249.5h1.4v1.4h-1.4zM1021.5 251h1.4v1.4h-1.4zM1021.5 249h1.4v1.4h-1.4zM1021.5 252.5h1.4v1.4h-1.4zM1021.5 246h1.4v1.4h-1.4zM1021.5 257.5h1.4v1.4h-1.4zM1021.5 238.5h1.4v1.4h-1.4zM1021.5 274.5h1.4v1.4h-1.4zM1021.5 221.5h1.4v1.4h-1.4zM1021.5 322.5h1.4v1.4h-1.4zM1021.5 230h1.4v1.4h-1.4zM1021.5 297.5h1.4v1.4h-1.4zM1021.5 215.5h1.4v1.4h-1.4zM1021.5 344.5h1.4v1.4h-1.4zM1021.5 260.5h1.4v1.4h-1.4zM1021.5 234.5h1.4v1.4h-1.4zM1021.5 285h1.4v1.4h-1.4zM1021.5 216.5h1.4v1.4h-1.4zM1021.5 340.5h1.4v1.4h-1.4zM1021.5 254h1.4v1.4h-1.4zM1021.5 243.5h1.4v1.4h-1.4zM1021.5 262.5h1.4v1.4h-1.4zM1021.5 232.5h1.4v1.4h-1.4zM1021.5 290.5h1.4v1.4h-1.4zM1021.5 215h1.4v1.4h-1.4zM1021.5 345h1.4v1.4h-1.4zM1021.5 261h1.4v1.4h-1.4zM1021.5 233.5h1.4v1.4h-1.4zM1021.5 287h1.4v1.4h-1.4zM1021.5 216h1.4v1.4h-1.4zM1022 274h1.4v1.4h-1.4zM1022 221.5h1.4v1.4h-1.4zM1022 323h1.4v1.4h-1.4zM1022 230h1.4v1.4h-1.4zM1022 297h1.4v1.4h-1.4zM1022 215h1.4v1.4h-1.4zM1022 345h1.4v1.4h-1.4zM1022 261.5h1.4v1.4h-1.4zM1022 233.5h1.4v1.4h-1.4zM1022 288h1.4v1.4h-1.4zM1022 215.5h1.4v1.4h-1.4zM1022 343.5h1.4v1.4h-1.4zM1022 259h1.4v1.4h-1.4zM1022 236.5h1.4v1.4h-1.4zM1022 280h1.4v1.4h-1.4zM1022 218h1.4v1.4h-1.4zM1022 334h1.4v1.4h-1.4zM1022 244h1.4v1.4h-1.4zM1022 262h1.4v1.4h-1.4zM1022 232.5h1.4v1.4h-1.4zM1022 289.5h1.4v1.4h-1.4zM1022 344.5h1.4v1.4h-1.4zM1022 261h1.4v1.4h-1.4zM1022 234h1.4v1.4h-1.4zM1022 286h1.4v1.4h-1.4zM1022 216h1.4v1.4h-1.4zM1022 342h1.4v1.4h-1.4zM1022 256.5h1.4v1.4h-1.4zM1022 240.5h1.4v1.4h-1.4zM1022 270h1.4v1.4h-1.4zM1022 224.5h1.4v1.4h-1.4zM1022 313h1.4v1.4h-1.4zM1022.5 215h1.4v1.4h-1.4zM1022.5 346h1.4v1.4h-1.4zM1022.5 263.5h1.4v1.4h-1.4zM1022.5 231h1.4v1.4h-1.4zM1022.5 294.5h1.4v1.4h-1.4zM1023 214.5h1.4v1.4h-1.4zM1023 346.5h1.4v1.4h-1.4zM1023 264h1.4v1.4h-1.4zM1023 230h1.4v1.4h-1.4zM1023 297h1.4v1.4h-1.4zM1023 215h1.4v1.4h-1.4zM1023 346h1.4v1.4h-1.4zM1023 263h1.4v1.4h-1.4zM1023 231.5h1.4v1.4h-1.4zM1023 292.5h1.4v1.4h-1.4zM1023 296.5h1.4v1.4h-1.4zM1023 231h1.4v1.4h-1.4zM1023 293.5h1.4v1.4h-1.4zM1023 233.5h1.4v1.4h-1.4zM1023 287.5h1.4v1.4h-1.4zM1023 215.5h1.4v1.4h-1.4zM1023 344.5h1.4v1.4h-1.4zM1023 260h1.4v1.4h-1.4zM1023 235h1.4v1.4h-1.4zM1023 283.5h1.4v1.4h-1.4zM1023 216.5h1.4v1.4h-1.4zM1023 340.5h1.4v1.4h-1.4zM1023 253h1.4v1.4h-1.4zM1023 245h1.4v1.4h-1.4zM1023 340h1.4v1.4h-1.4zM1023 252.5h1.4v1.4h-1.4zM1023 245.5h1.4v1.4h-1.4zM1023 258h1.4v1.4h-1.4zM1023 237.5h1.4v1.4h-1.4zM1023 277.5h1.4v1.4h-1.4zM1023 219.5h1.4v1.4h-1.4zM1023 330.5h1.4v1.4h-1.4zM1023 238.5h1.4v1.4h-1.4zM1023 275h1.4v1.4h-1.4zM1023 221h1.4v1.4h-1.4zM1023 325h1.4v1.4h-1.4zM1023 232h1.4v1.4h-1.4zM1023 291h1.4v1.4h-1.4zM1023.5 216.5h1.4v1.4h-1.4zM1023.5 340.5h1.4v1.4h-1.4zM1023.5 253.5h1.4v1.4h-1.4zM1023.5 244h1.4v1.4h-1.4zM1023.5 261h1.4v1.4h-1.4zM1023.5 233.5h1.4v1.4h-1.4zM1023.5 287.5h1.4v1.4h-1.4zM1023.5 215h1.4v1.4h-1.4zM1023.5 345h1.4v1.4h-1.4zM1023.5 287h1.4v1.4h-1.4zM1023.5 344.5h1.4v1.4h-1.4zM1023.5 260h1.4v1.4h-1.4zM1023.5 234.5h1.4v1.4h-1.4zM1023.5 284.5h1.4v1.4h-1.4zM1023.5 216h1.4v1.4h-1.4zM1023.5 342h1.4v1.4h-1.4zM1023.5 256h1.4v1.4h-1.4zM1023.5 240.5h1.4v1.4h-1.4zM1023.5 269h1.4v1.4h-1.4zM1023.5 225h1.4v1.4h-1.4zM1023.5 311.5h1.4v1.4h-1.4zM1023.5 220h1.4v1.4h-1.4zM1023.5 328h1.4v1.4h-1.4zM1023.5 235h1.4v1.4h-1.4zM1023.5 282.5h1.4v1.4h-1.4zM1023.5 339.5h1.4v1.4h-1.4zM1023.5 252h1.4v1.4h-1.4zM1023.5 247h1.4v1.4h-1.4zM1024 247h1.4v1.4h-1.4zM1024 256h1.4v1.4h-1.4zM1024 240.5h1.4v1.4h-1.4zM1024 269.5h1.4v1.4h-1.4zM1024 225h1.4v1.4h-1.4zM1024 312.5h1.4v1.4h-1.4zM1024 220.5h1.4v1.4h-1.4zM1024 326h1.4v1.4h-1.4zM1024 233h1.4v1.4h-1.4zM1024 289h1.4v1.4h-1.4zM1024 214.5h1.4v1.4h-1.4zM1024 346h1.4v1.4h-1.4zM1024 263h1.4v1.4h-1.4zM1024 230.5h1.4v1.4h-1.4zM1024 294.5h1.4v1.4h-1.4zM1024 347.5h1.4v1.4h-1.4zM1024 266h1.4v1.4h-1.4zM1024 227.5h1.4v1.4h-1.4zM1024 303.5h1.4v1.4h-1.4zM1024 216h1.4v1.4h-1.4zM1024 341.5h1.4v1.4h-1.4zM1024 255h1.4v1.4h-1.4zM1024 242h1.4v1.4h-1.4zM1024 228h1.4v1.4h-1.4zM1024 303h1.4v1.4h-1.4zM1024 342h1.4v1.4h-1.4zM1024 255.5h1.4v1.4h-1.4zM1024 241h1.4v1.4h-1.4zM1024 268h1.4v1.4h-1.4zM1024 226h1.4v1.4h-1.4zM1024 308h1.4v1.4h-1.4zM1024.5 214.5h1.4v1.4h-1.4zM1024.5 347.5h1.4v1.4h-1.4zM1024.5 266h1.4v1.4h-1.4zM1024.5 228h1.4v1.4h-1.4zM1024.5 303h1.4v1.4h-1.4zM1024.5 216h1.4v1.4h-1.4zM1024.5 342.5h1.4v1.4h-1.4zM1024.5 256.5h1.4v1.4h-1.4zM1024.5 239.5h1.4v1.4h-1.4zM1024.5 271h1.4v1.4h-1.4zM1024.5 223h1.4v1.4h-1.4zM1024.5 317.5h1.4v1.4h-1.4zM1024.5 224.5h1.4v1.4h-1.4zM1024.5 314h1.4v1.4h-1.4zM1024.5 221.5h1.4v1.4h-1.4zM1024.5 322.5h1.4v1.4h-1.4zM1024.5 229h1.4v1.4h-1.4zM1024.5 299.5h1.4v1.4h-1.4zM1024.5 215h1.4v1.4h-1.4zM1024.5 346h1.4v1.4h-1.4zM1024.5 262.5h1.4v1.4h-1.4zM1024.5 231h1.4v1.4h-1.4zM1024.5 293h1.4v1.4h-1.4zM1024.5 214h1.4v1.4h-1.4zM1024.5 348h1.4v1.4h-1.4zM1024.5 267h1.4v1.4h-1.4zM1024.5 227h1.4v1.4h-1.4zM1024.5 306h1.4v1.4h-1.4zM1024.5 217h1.4v1.4h-1.4zM1024.5 338h1.4v1.4h-1.4zM1024.5 249.5h1.4v1.4h-1.4zM1024.5 251h1.4v1.4h-1.4zM1024.5 248.5h1.4v1.4h-1.4zM1024.5 252.5h1.4v1.4h-1.4zM1025 288.5h1.4v1.4h-1.4zM1025 214.5h1.4v1.4h-1.4zM1025 346.5h1.4v1.4h-1.4zM1025 264.5h1.4v1.4h-1.4zM1025 229.5h1.4v1.4h-1.4zM1025 298.5h1.4v1.4h-1.4zM1025 347h1.4v1.4h-1.4zM1025 229h1.4v1.4h-1.4zM1025 299h1.4v1.4h-1.4zM1025 264h1.4v1.4h-1.4zM1025 230h1.4v1.4h-1.4zM1025 297.5h1.4v1.4h-1.4zM1025 347.5h1.4v1.4h-1.4zM1025 266h1.4v1.4h-1.4zM1025 227.5h1.4v1.4h-1.4zM1025 303.5h1.4v1.4h-1.4zM1025 216h1.4v1.4h-1.4zM1025 342.5h1.4v1.4h-1.4zM1025 256h1.4v1.4h-1.4zM1025 240h1.4v1.4h-1.4zM1025 270.5h1.4v1.4h-1.4zM1025 223.5h1.4v1.4h-1.4zM1025 316.5h1.4v1.4h-1.4zM1025 223h1.4v1.4h-1.4zM1025 317.5h1.4v1.4h-1.4zM1025 224h1.4v1.4h-1.4zM1025 314.5h1.4v1.4h-1.4zM1025 222h1.4v1.4h-1.4zM1025 321.5h1.4v1.4h-1.4z" fill="#111"/>
<g font-family="Liberation Sans" font-size="13" fill="#222" stroke="#222" stroke-width="0.3"><text x="751" y="363.1" text-anchor="end">0.44</text><text x="751" y="332.1" text-anchor="end">0.46</text><text x="751" y="301.1" text-anchor="end">0.48</text><text x="751" y="270.1" text-anchor="end">0.5</text><text x="751" y="239.1" text-anchor="end">0.52</text><text x="751" y="208.1" text-anchor="end">0.54</text><text x="757" y="373.5" text-anchor="middle">0.03</text><text x="807" y="373.5" text-anchor="middle">0.035</text><text x="857" y="373.5" text-anchor="middle">0.04</text><text x="907" y="373.5" text-anchor="middle">0.045</text><text x="957" y="373.5" text-anchor="middle">0.05</text><text x="1007" y="373.5" text-anchor="middle">0.055</text></g>
<text x="894.5" y="396.3" text-anchor="middle" font-family="Liberation Sans" font-size="15.5" fill="#222" stroke="#222" stroke-width="0.3">angle [rad]</text>
<text transform="translate(712.5,273) rotate(-90)" text-anchor="middle" font-family="Liberation Sans" font-size="15.5" fill="#222" stroke="#222" stroke-width="0.3">period of step</text>
<text x="698" y="203.5" font-family="Liberation Sans" font-size="23" font-weight="bold" fill="#111">c</text>
<defs>
<linearGradient id="wall" x1="0" y1="0" x2="1" y2="0.5"><stop offset="0" stop-color="#c9c9c9"/><stop offset="0.55" stop-color="#dcdcdc"/><stop offset="1" stop-color="#d2d2d2"/></linearGradient>
<linearGradient id="wallL" x1="0" y1="0" x2="0" y2="1"><stop offset="0" stop-color="#bdbdbd" stop-opacity="0"/><stop offset="1" stop-color="#b5b5b5" stop-opacity="0.9"/></linearGradient>
<clipPath id="cB"><rect x="66.8" y="497.3" width="290.5" height="239.3"/></clipPath>
</defs>
<g clip-path="url(#cB)">
<rect x="66.8" y="497.3" width="290.5" height="239.3" fill="url(#wall)"/>
<polygon points="60.0,598.0 214.3,591.9 214.3,736.9 60.0,736.9" fill="url(#wallL)"/>
<polygon points="299.2,490.0 362.5,490.0 362.5,653.6 299.2,653.6" fill="#555"/>
<polygon points="299.2,490.0 303.8,490.0 303.8,582.6 299.2,582.6" fill="#7a7a7a"/>
<polygon points="337.8,650.5 362.5,647.4 362.5,740.0 331.6,740.0" fill="#8a8a8a"/>
<polygon points="228.2,740.0 351.7,567.2 351.7,650.5 339.3,656.7 334.7,740.0" fill="#474747"/>
<polygon points="288.4,675.2 294.6,672.1 296.1,740.0 289.9,740.0" fill="#3a3a3a"/>
<polygon points="66.2,690.6 273.0,553.3 351.7,557.9 228.2,732.3 66.2,710.7" fill="#a9a9a9"/>
<polygon points="66.2,710.7 228.2,732.3 228.2,740.0 66.2,740.0" fill="#b4b4b4"/>
<polygon points="66.2,709.8 228.2,731.4 228.2,734.4 66.2,713.5" fill="#7a7a7a"/>
<polygon points="226.7,732.3 348.6,558.5 353.2,562.5 234.4,736.9" fill="#c7c7c7"/>
<polygon points="220.5,727.7 344.0,559.4 347.0,560.4 224.2,730.1" fill="#7e7e7e"/>
<polygon points="234.4,736.9 353.2,562.5 353.2,570.9 237.5,740.0" fill="#8f8f8f"/>
<polygon points="66.2,690.6 273.0,553.3 274.5,555.4 67.7,693.7" fill="#8a8a8a"/>
<polygon points="135.6,638.1 171.1,635.1 171.1,650.5 135.6,652.0" fill="#5a5a5a"/>
<polygon points="135.6,630.4 169.6,627.3 171.1,635.1 137.2,638.1" fill="#a6a6a6"/>
<polygon points="152.6,659.1 189.6,656.7 189.6,675.2 152.6,676.7" fill="#585858"/>
<polygon points="152.6,652.0 188.1,649.0 189.6,656.7 154.1,659.1" fill="#a2a2a2"/>
<polygon points="209.7,591.9 246.7,588.8 246.7,599.6 209.7,601.1" fill="#747474"/>
<polygon points="209.7,582.6 245.2,579.5 246.7,588.8 209.7,591.9" fill="#a8a8a8"/>
<polygon points="226.7,577.0 273.6,573.3 273.6,582.0 226.7,584.1" fill="#787878"/>
<polygon points="226.7,570.9 273.0,567.2 273.6,573.3 226.7,577.0" fill="#acacac"/>
<polygon points="73.9,672.7 141.8,674.6 141.8,695.2 73.9,692.2" fill="#626262"/>
<polyline points="73.9,679.1 141.8,681.4" fill="none" stroke="#9a9a9a" stroke-width="0.8"/>
<polyline points="73.9,685.5 141.8,688.2" fill="none" stroke="#9a9a9a" stroke-width="0.8"/>
<polygon points="73.9,670.6 121.7,663.5 143.3,672.7 94.0,679.8" fill="#a4a4a4"/>
<polygon points="173.6,691.2 243.6,682.0 244.6,704.5 174.8,713.8" fill="#6a6a6a"/>
<polyline points="173.6,698.7 243.6,689.4" fill="none" stroke="#9a9a9a" stroke-width="0.8"/>
<polyline points="173.6,706.1 243.6,696.8" fill="none" stroke="#9a9a9a" stroke-width="0.8"/>
<polygon points="181.9,674.6 232.8,666.5 243.6,682.0 189.6,691.2" fill="#e4e4e4"/>
<polygon points="222.0,647.4 276.7,642.8 276.7,658.2 222.0,661.6" fill="#6a6a6a"/>
<polyline points="222.0,652.1 276.7,647.9" fill="none" stroke="#9a9a9a" stroke-width="0.8"/>
<polyline points="222.0,656.8 276.7,653.0" fill="none" stroke="#9a9a9a" stroke-width="0.8"/>
<polygon points="228.2,632.6 270.5,629.5 276.7,642.8 229.1,647.4" fill="#e4e4e4"/>
<polygon points="256.0,618.4 302.6,616.5 302.6,626.4 256.0,628.0" fill="#6a6a6a"/>
<polyline points="256.0,621.6 302.6,619.8" fill="none" stroke="#9a9a9a" stroke-width="0.8"/>
<polyline points="256.0,624.7 302.6,623.1" fill="none" stroke="#9a9a9a" stroke-width="0.8"/>
<polygon points="260.0,606.7 297.7,604.8 302.6,616.5 260.6,618.4" fill="#e4e4e4"/>
<polygon points="278.5,598.0 316.8,596.5 316.8,603.3 278.5,604.8" fill="#6a6a6a"/>
<polyline points="278.5,600.3 316.8,598.7" fill="none" stroke="#9a9a9a" stroke-width="0.8"/>
<polyline points="278.5,602.5 316.8,601.0" fill="none" stroke="#9a9a9a" stroke-width="0.8"/>
<polygon points="281.6,588.1 313.7,587.2 316.8,596.5 282.2,598.0" fill="#e4e4e4"/>
<polygon points="297.0,581.0 332.2,579.5 332.2,584.4 297.0,586.0" fill="#6a6a6a"/>
<polyline points="297.0,582.7 332.2,581.1" fill="none" stroke="#9a9a9a" stroke-width="0.8"/>
<polyline points="297.0,584.3 332.2,582.8" fill="none" stroke="#9a9a9a" stroke-width="0.8"/>
<polygon points="300.1,572.7 329.1,571.8 332.2,579.5 300.7,581.0" fill="#e4e4e4"/>
<polygon points="311.2,567.2 341.5,566.5 341.5,569.9 311.2,570.6" fill="#6e6e6e"/>
<polygon points="313.7,561.0 339.3,560.4 341.5,566.5 314.6,567.2" fill="#e0e0e0"/>
<polygon points="201.4,627.3 248.9,622.7 248.9,635.7 201.4,638.8" fill="#6a6a6a"/>
<polyline points="201.4,631.1 248.9,627.0" fill="none" stroke="#9a9a9a" stroke-width="0.8"/>
<polyline points="201.4,634.9 248.9,631.3" fill="none" stroke="#9a9a9a" stroke-width="0.8"/>
<polygon points="204.4,615.6 242.7,612.8 248.9,622.7 205.1,627.3" fill="#e4e4e4"/>
<polygon points="231.0,605.7 273.6,602.7 273.6,611.0 231.0,612.8" fill="#6a6a6a"/>
<polyline points="231.0,608.1 273.6,605.4" fill="none" stroke="#9a9a9a" stroke-width="0.8"/>
<polyline points="231.0,610.4 273.6,608.2" fill="none" stroke="#9a9a9a" stroke-width="0.8"/>
<polygon points="235.3,595.9 270.5,594.0 273.6,602.7 235.9,605.7" fill="#e4e4e4"/>
<polygon points="255.4,587.2 295.2,585.7 295.2,592.5 255.4,594.0" fill="#6a6a6a"/>
<polyline points="255.4,589.5 295.2,587.9" fill="none" stroke="#9a9a9a" stroke-width="0.8"/>
<polyline points="255.4,591.7 295.2,590.2" fill="none" stroke="#9a9a9a" stroke-width="0.8"/>
<polygon points="258.5,578.9 292.1,577.3 295.2,585.7 259.1,587.2" fill="#e4e4e4"/>
<polygon points="273.9,574.0 306.0,572.7 306.0,577.3 273.9,578.3" fill="#6e6e6e"/>
<polygon points="277.0,567.2 304.4,566.5 306.0,572.7 277.6,574.0" fill="#e0e0e0"/>
<polygon points="294.0,561.6 317.7,561.0 317.7,564.4 294.0,565.0" fill="#707070"/>
<polygon points="297.0,555.7 316.8,555.1 317.7,561.0 297.7,561.6" fill="#dedede"/>
<text x="215.9" y="682.9" font-family="Liberation Serif" font-weight="bold" font-size="21" fill="#1a1a1a" text-anchor="middle" transform="rotate(-15 215.9 682.9)">1</text>
<text x="252.9" y="641.9" font-family="Liberation Serif" font-weight="bold" font-size="15" fill="#1a1a1a" text-anchor="middle" transform="rotate(0 252.9 641.9)">3</text>
<text x="225.1" y="622.7" font-family="Liberation Serif" font-weight="bold" font-size="13" fill="#1a1a1a" text-anchor="middle" transform="rotate(-10 225.1 622.7)">4</text>
<text x="280.7" y="614.4" font-family="Liberation Serif" font-weight="bold" font-size="11" fill="#1a1a1a" text-anchor="middle" transform="rotate(180 280.7 614.4)">5</text>
<text x="254.4" y="602.7" font-family="Liberation Serif" font-weight="bold" font-size="10" fill="#1a1a1a" text-anchor="middle" transform="rotate(180 254.4 602.7)">6</text>
<text x="299.2" y="594.9" font-family="Liberation Serif" font-weight="bold" font-size="10" fill="#1a1a1a" text-anchor="middle" transform="rotate(180 299.2 594.9)">7</text>
<text x="274.5" y="585.1" font-family="Liberation Serif" font-weight="bold" font-size="9" fill="#1a1a1a" text-anchor="middle" transform="rotate(180 274.5 585.1)">8</text>
<text x="314.6" y="578.9" font-family="Liberation Serif" font-weight="bold" font-size="9" fill="#1a1a1a" text-anchor="middle" transform="rotate(180 314.6 578.9)">9</text>
<text x="291.5" y="572.4" font-family="Liberation Serif" font-weight="bold" font-size="8" fill="#1a1a1a" text-anchor="middle" transform="rotate(180 291.5 572.4)">10</text>
<text x="323.9" y="566.2" font-family="Liberation Serif" font-weight="bold" font-size="8" fill="#1a1a1a" text-anchor="middle" transform="rotate(180 323.9 566.2)">11</text>
<text x="306.9" y="561.0" font-family="Liberation Serif" font-weight="bold" font-size="7" fill="#1a1a1a" text-anchor="middle" transform="rotate(180 306.9 561.0)">12</text>
<polygon points="131.6,529.7 120.8,662.4 131.9,663.3 142.7,530.6" fill="#b4b4b4" stroke="#5a5a5a" stroke-width="0.9"/>
<polyline points="135.5,530.0 124.7,662.7" fill="none" stroke="#e4e4e4" stroke-width="1.2"/>
<polygon points="196.7,529.9 190.6,670.3 201.0,670.8 207.2,530.4" fill="#b2b2b2" stroke="#5a5a5a" stroke-width="0.9"/>
<polyline points="200.4,530.1 194.2,670.5" fill="none" stroke="#e4e4e4" stroke-width="1.2"/>
<polygon points="153.6,540.2 173.3,646.7 182.5,645.0 162.7,538.5" fill="#adadad" stroke="#5a5a5a" stroke-width="0.9"/>
<polyline points="156.8,539.6 176.5,646.1" fill="none" stroke="#e4e4e4" stroke-width="1.2"/>
<polygon points="179.5,539.8 188.7,649.3 197.9,648.6 188.7,539.0" fill="#acacac" stroke="#5a5a5a" stroke-width="0.9"/>
<polyline points="182.7,539.5 191.9,649.1" fill="none" stroke="#e4e4e4" stroke-width="1.2"/>
<polygon points="130.4,527.7 208.1,527.7 208.1,532.0 130.4,532.0" fill="#c6c6c6" stroke="#666" stroke-width="0.8"/>
<polygon points="137.2,540.0 205.7,540.0 205.7,546.2 137.2,546.2" fill="#a9a9a9" stroke="#5e5e5e" stroke-width="0.8"/>
<circle cx="139.6" cy="553.3" r="2.4" fill="#4e4e4e"/>
<circle cx="154.1" cy="536.3" r="2.4" fill="#4e4e4e"/>
<circle cx="181.9" cy="536.3" r="2.4" fill="#4e4e4e"/>
<circle cx="158.8" cy="554.8" r="2.4" fill="#4e4e4e"/>
<circle cx="186.5" cy="553.3" r="2.4" fill="#4e4e4e"/>
<circle cx="200.4" cy="556.4" r="2.4" fill="#4e4e4e"/>
<circle cx="135.6" cy="585.7" r="2.4" fill="#4e4e4e"/>
<circle cx="134.1" cy="596.5" r="2.4" fill="#4e4e4e"/>
<circle cx="132.5" cy="610.4" r="2.4" fill="#4e4e4e"/>
<circle cx="171.1" cy="582.6" r="2.4" fill="#4e4e4e"/>
<circle cx="189.6" cy="591.9" r="2.4" fill="#4e4e4e"/>
<polygon points="109.4,652.0 137.2,646.8 143.3,670.6 114.0,673.6" fill="#7e7e7e" stroke="#505050" stroke-width="0.8"/>
<polygon points="185.0,652.0 214.3,643.7 216.8,664.4 197.3,679.8" fill="#9c9c9c" stroke="#555" stroke-width="0.8"/>
<circle cx="199.5" cy="668.4" r="5.5" fill="#8e8e8e" stroke="#555" stroke-width="1"/>
</g>
<text x="52" y="503" font-family="Liberation Sans" font-size="19" fill="#111">a</text>
<rect x="360" y="488" width="340" height="265" fill="#fbfbfb"/>
<rect x="413.6" y="503.4" width="273" height="214" fill="none" stroke="#8a8a8a" stroke-width="1.3"/>
<line x1="452.6" y1="717.4" x2="452.6" y2="714.4" stroke="#999" stroke-width="1"/>
<line x1="491.6" y1="717.4" x2="491.6" y2="714.4" stroke="#999" stroke-width="1"/>
<line x1="530.6" y1="717.4" x2="530.6" y2="714.4" stroke="#999" stroke-width="1"/>
<line x1="569.6" y1="717.4" x2="569.6" y2="714.4" stroke="#999" stroke-width="1"/>
<line x1="608.6" y1="717.4" x2="608.6" y2="714.4" stroke="#999" stroke-width="1"/>
<line x1="647.6" y1="717.4" x2="647.6" y2="714.4" stroke="#999" stroke-width="1"/>
<line x1="413.6" y1="674.6" x2="416.6" y2="674.6" stroke="#999" stroke-width="1"/>
<line x1="686.6" y1="674.6" x2="683.6" y2="674.6" stroke="#999" stroke-width="1"/>
<line x1="413.6" y1="631.8" x2="416.6" y2="631.8" stroke="#999" stroke-width="1"/>
<line x1="686.6" y1="631.8" x2="683.6" y2="631.8" stroke="#999" stroke-width="1"/>
<line x1="413.6" y1="589" x2="416.6" y2="589" stroke="#999" stroke-width="1"/>
<line x1="686.6" y1="589" x2="683.6" y2="589" stroke="#999" stroke-width="1"/>
<line x1="413.6" y1="546.2" x2="416.6" y2="546.2" stroke="#999" stroke-width="1"/>
<line x1="686.6" y1="546.2" x2="683.6" y2="546.2" stroke="#999" stroke-width="1"/>
<g fill="#111"><circle cx="436.6" cy="654.3" r="1.75"/><circle cx="444.5" cy="645.4" r="1.75"/><circle cx="452.3" cy="638.2" r="1.75"/><circle cx="459.9" cy="633.2" r="1.75"/><circle cx="468.1" cy="627.8" r="1.75"/><circle cx="476.0" cy="624.2" r="1.75"/><circle cx="483.8" cy="620.7" r="1.75"/><circle cx="492.1" cy="617.4" r="1.75"/><circle cx="500.0" cy="614.9" r="1.75"/><circle cx="507.8" cy="612.4" r="1.75"/><circle cx="515.7" cy="609.9" r="1.75"/><circle cx="523.6" cy="608.1" r="1.75"/><circle cx="531.4" cy="606.7" r="1.75"/><circle cx="539.0" cy="605.3" r="1.75"/><circle cx="546.8" cy="603.8" r="1.75"/><circle cx="554.4" cy="602.4" r="1.75"/><circle cx="561.9" cy="601.0" r="1.75"/><circle cx="570.1" cy="599.9" r="1.75"/><circle cx="578.0" cy="599.2" r="1.75"/><circle cx="585.8" cy="598.1" r="1.75"/><circle cx="594.1" cy="597.7" r="1.75"/><circle cx="601.9" cy="597.0" r="1.75"/><circle cx="609.8" cy="596.3" r="1.75"/><circle cx="613.4" cy="593.8" r="1.75"/><circle cx="613.4" cy="598.8" r="1.75"/><circle cx="617.0" cy="573.1" r="1.75"/><circle cx="620.6" cy="563.4" r="1.75"/><circle cx="628.8" cy="549.8" r="1.75"/><circle cx="636.3" cy="539.1" r="1.75"/><circle cx="640.3" cy="535.5" r="1.75"/><circle cx="647.8" cy="527.3" r="1.75"/><circle cx="647.8" cy="531.2" r="1.75"/><circle cx="652.1" cy="525.8" r="1.75"/><circle cx="652.1" cy="531.9" r="1.75"/><circle cx="655.6" cy="523.7" r="1.75"/><circle cx="655.6" cy="528.3" r="1.75"/><circle cx="655.6" cy="536.2" r="1.75"/><circle cx="617.0" cy="620.7" r="1.75"/><circle cx="620.6" cy="631.4" r="1.75"/><circle cx="628.8" cy="647.1" r="1.75"/><circle cx="636.3" cy="659.3" r="1.75"/><circle cx="640.3" cy="664.3" r="1.75"/><circle cx="647.8" cy="662.5" r="1.75"/><circle cx="652.1" cy="653.9" r="1.75"/><circle cx="655.6" cy="642.1" r="1.75"/><circle cx="655.6" cy="657.5" r="1.75"/><circle cx="647.8" cy="682.2" r="1.75"/><circle cx="652.1" cy="692.2" r="1.75"/><circle cx="655.6" cy="693.7" r="1.75"/><circle cx="655.6" cy="701.2" r="1.75"/></g>
<g font-family="Liberation Sans" font-size="9.2" font-weight="bold" fill="#444"><text x="407" y="720.7" text-anchor="end">0.10</text><text x="407" y="677.9" text-anchor="end">0.15</text><text x="407" y="635.1" text-anchor="end">0.20</text><text x="407" y="592.3" text-anchor="end">0.25</text><text x="407" y="549.5" text-anchor="end">0.30</text><text x="407" y="506.7" text-anchor="end">0.35</text><text x="413.6" y="733.2" text-anchor="middle">0.00</text><text x="452.6" y="733.2" text-anchor="middle">0.01</text><text x="491.6" y="733.2" text-anchor="middle">0.02</text><text x="530.6" y="733.2" text-anchor="middle">0.03</text><text x="569.6" y="733.2" text-anchor="middle">0.04</text><text x="608.6" y="733.2" text-anchor="middle">0.05</text><text x="647.6" y="733.2" text-anchor="middle">0.06</text><text x="686.6" y="733.2" text-anchor="middle">0.07</text></g>
<text x="548" y="752" text-anchor="middle" font-family="Liberation Serif" font-style="italic" font-size="13" font-weight="bold" fill="#333">&#946;</text>
<text transform="translate(377,611) rotate(-90)" text-anchor="middle" font-family="Liberation Serif" font-style="italic" font-size="13" font-weight="bold" fill="#333">&#952;</text>
<text x="365" y="509" font-family="Liberation Sans" font-size="18" fill="#111">b</text>
<g fill="#808080"><circle cx="56.60" cy="130.6" r="1.35"/><circle cx="66.09" cy="130.6" r="1.35"/><circle cx="75.58" cy="130.6" r="1.35"/><circle cx="85.07" cy="130.6" r="1.35"/><circle cx="94.56" cy="130.6" r="1.35"/><circle cx="104.05" cy="130.6" r="1.35"/><circle cx="113.54" cy="130.6" r="1.35"/><circle cx="123.03" cy="130.6" r="1.35"/><circle cx="132.52" cy="130.6" r="1.35"/><circle cx="142.01" cy="130.6" r="1.35"/><circle cx="151.50" cy="130.6" r="1.35"/><circle cx="160.99" cy="130.6" r="1.35"/><circle cx="170.48" cy="130.6" r="1.35"/><circle cx="179.97" cy="130.6" r="1.35"/><circle cx="189.46" cy="130.6" r="1.35"/><circle cx="198.95" cy="130.6" r="1.35"/><circle cx="208.44" cy="130.6" r="1.35"/><circle cx="217.93" cy="130.6" r="1.35"/><circle cx="227.42" cy="130.6" r="1.35"/><circle cx="236.91" cy="130.6" r="1.35"/><circle cx="246.40" cy="130.6" r="1.35"/><circle cx="255.89" cy="130.6" r="1.35"/><circle cx="265.38" cy="130.6" r="1.35"/><circle cx="274.87" cy="130.6" r="1.35"/><circle cx="284.36" cy="130.6" r="1.35"/><circle cx="293.85" cy="130.6" r="1.35"/><circle cx="303.34" cy="130.6" r="1.35"/><circle cx="312.83" cy="130.6" r="1.35"/><circle cx="322.32" cy="130.6" r="1.35"/><circle cx="331.81" cy="130.6" r="1.35"/><circle cx="341.30" cy="130.6" r="1.35"/><circle cx="350.79" cy="130.6" r="1.35"/><circle cx="360.28" cy="130.6" r="1.35"/><circle cx="369.77" cy="130.6" r="1.35"/><circle cx="379.26" cy="130.6" r="1.35"/><circle cx="388.75" cy="130.6" r="1.35"/><circle cx="398.24" cy="130.6" r="1.35"/><circle cx="407.73" cy="130.6" r="1.35"/><circle cx="417.22" cy="130.6" r="1.35"/><circle cx="426.71" cy="130.6" r="1.35"/><circle cx="436.20" cy="130.6" r="1.35"/><circle cx="445.69" cy="130.6" r="1.35"/><circle cx="455.18" cy="130.6" r="1.35"/><circle cx="464.67" cy="130.6" r="1.35"/><circle cx="474.16" cy="130.6" r="1.35"/><circle cx="483.65" cy="130.6" r="1.35"/><circle cx="493.14" cy="130.6" r="1.35"/><circle cx="502.63" cy="130.6" r="1.35"/><circle cx="512.12" cy="130.6" r="1.35"/><circle cx="521.61" cy="130.6" r="1.35"/><circle cx="531.10" cy="130.6" r="1.35"/><circle cx="540.59" cy="130.6" r="1.35"/><circle cx="550.08" cy="130.6" r="1.35"/><circle cx="559.57" cy="130.6" r="1.35"/><circle cx="569.06" cy="130.6" r="1.35"/><circle cx="578.55" cy="130.6" r="1.35"/><circle cx="588.04" cy="130.6" r="1.35"/><circle cx="597.53" cy="130.6" r="1.35"/><circle cx="607.02" cy="130.6" r="1.35"/><circle cx="616.51" cy="130.6" r="1.35"/><circle cx="626.00" cy="130.6" r="1.35"/><circle cx="635.49" cy="130.6" r="1.35"/><circle cx="644.98" cy="130.6" r="1.35"/><circle cx="654.47" cy="130.6" r="1.35"/><circle cx="663.96" cy="130.6" r="1.35"/><circle cx="673.45" cy="130.6" r="1.35"/><circle cx="682.94" cy="130.6" r="1.35"/><circle cx="692.43" cy="130.6" r="1.35"/><circle cx="701.92" cy="130.6" r="1.35"/><circle cx="711.41" cy="130.6" r="1.35"/><circle cx="720.90" cy="130.6" r="1.35"/><circle cx="730.39" cy="130.6" r="1.35"/><circle cx="739.88" cy="130.6" r="1.35"/><circle cx="749.37" cy="130.6" r="1.35"/><circle cx="758.86" cy="130.6" r="1.35"/><circle cx="768.35" cy="130.6" r="1.35"/><circle cx="777.84" cy="130.6" r="1.35"/><circle cx="787.33" cy="130.6" r="1.35"/><circle cx="796.82" cy="130.6" r="1.35"/><circle cx="806.31" cy="130.6" r="1.35"/><circle cx="815.80" cy="130.6" r="1.35"/><circle cx="825.29" cy="130.6" r="1.35"/><circle cx="834.78" cy="130.6" r="1.35"/><circle cx="844.27" cy="130.6" r="1.35"/><circle cx="853.76" cy="130.6" r="1.35"/><circle cx="863.25" cy="130.6" r="1.35"/><circle cx="872.74" cy="130.6" r="1.35"/><circle cx="882.23" cy="130.6" r="1.35"/><circle cx="891.72" cy="130.6" r="1.35"/><circle cx="901.21" cy="130.6" r="1.35"/><circle cx="910.70" cy="130.6" r="1.35"/><circle cx="920.19" cy="130.6" r="1.35"/><circle cx="929.68" cy="130.6" r="1.35"/><circle cx="939.17" cy="130.6" r="1.35"/><circle cx="948.66" cy="130.6" r="1.35"/><circle cx="958.15" cy="130.6" r="1.35"/><circle cx="967.64" cy="130.6" r="1.35"/><circle cx="977.13" cy="130.6" r="1.35"/><circle cx="986.62" cy="130.6" r="1.35"/><circle cx="996.11" cy="130.6" r="1.35"/><circle cx="1005.60" cy="130.6" r="1.35"/><circle cx="1015.09" cy="130.6" r="1.35"/><circle cx="1024.58" cy="130.6" r="1.35"/></g>
</svg>
<div id="title" class="t">REVIEW OF THE BIFURCATION GAIT IN PASSIVE DYNAMIC WALKING</div>
<div id="osuka" class="t cap">Osuka, in 2000</div>
<div id="liu" class="t cap">Liu Ning</div>
<div id="in08" class="t cap">in 2008</div>
<div id="pg" class="t">29</div>
</body></html>
